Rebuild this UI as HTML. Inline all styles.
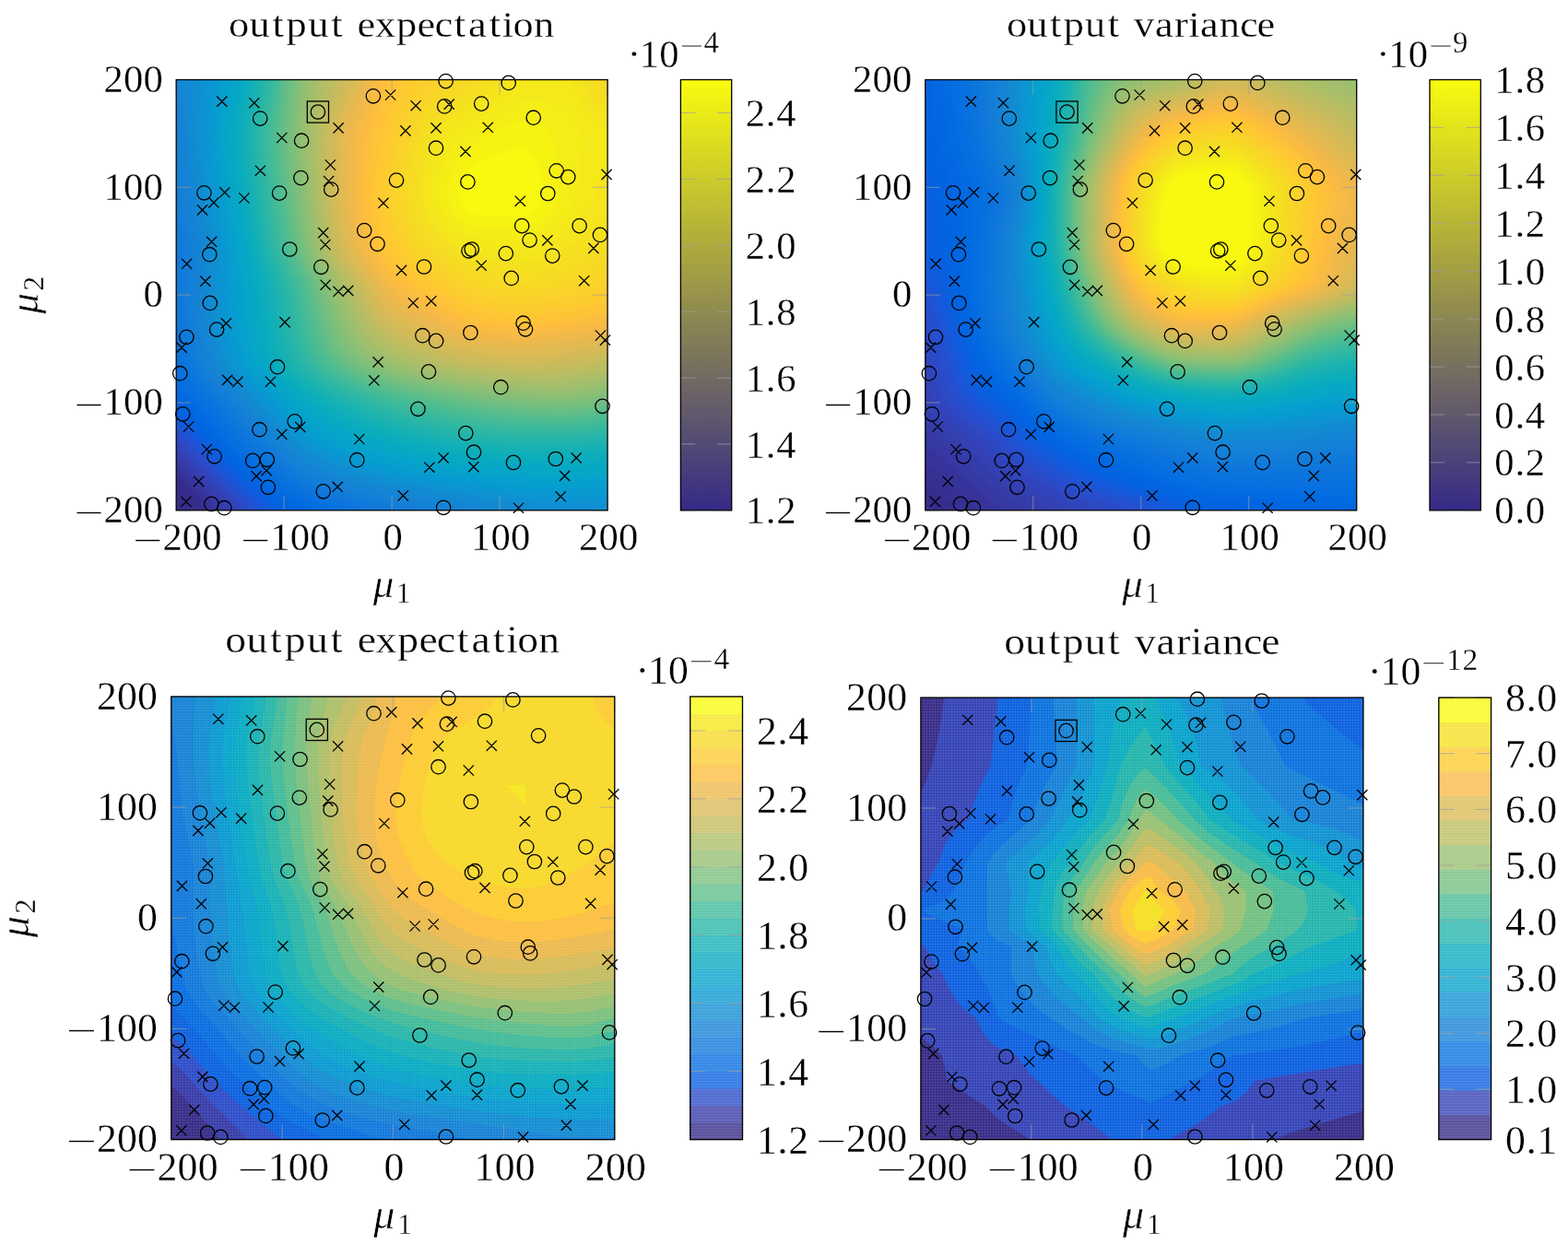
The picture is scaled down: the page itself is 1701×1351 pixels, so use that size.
<!DOCTYPE html>
<html lang="en">
<head>
<meta charset="utf-8">
<title>output expectation / output variance</title>
<style>
html,body{margin:0;padding:0;background:#fff;}
body{width:1701px;height:1351px;overflow:hidden;font-family:"Liberation Serif", "DejaVu Serif", serif;}
svg{display:block;}
text{stroke:#fff;stroke-width:0.3px;}
</style>
</head>
<body>
<svg width="1701" height="1351" viewBox="0 0 1701 1351" font-family='"Liberation Serif", "DejaVu Serif", serif' fill="#000">
<defs>
<pattern id="tex" width="3" height="3" patternUnits="userSpaceOnUse"><path d="M0 0.5H3M0.5 1V3" stroke="#fff" stroke-opacity="0.10" stroke-width="1"/></pattern>
<pattern id="texh" width="3" height="3" patternUnits="userSpaceOnUse"><path d="M0 0.5H3" stroke="#fff" stroke-opacity="0.08" stroke-width="1"/></pattern>
<filter id="blur" x="-5%" y="-5%" width="110%" height="110%" color-interpolation-filters="sRGB"><feGaussianBlur stdDeviation="1.6"/></filter>
<clipPath id="clipa"><rect x="0" y="0" width="467.90" height="467.30"/></clipPath>
<clipPath id="mclipa"><rect x="179.20" y="74.50" width="491.90" height="491.30"/></clipPath>
<clipPath id="clipb"><rect x="0" y="0" width="467.90" height="467.30"/></clipPath>
<clipPath id="mclipb"><rect x="991.80" y="74.50" width="491.90" height="491.30"/></clipPath>
<clipPath id="clipc"><rect x="0" y="0" width="481.00" height="480.70"/></clipPath>
<clipPath id="mclipc"><rect x="173.80" y="743.90" width="505.00" height="504.70"/></clipPath>
<clipPath id="clipd"><rect x="0" y="0" width="480.00" height="479.60"/></clipPath>
<clipPath id="mclipd"><rect x="986.90" y="745.00" width="504.00" height="503.60"/></clipPath>
</defs>
<g id="plot-a">
<g transform="translate(191.20 86.50)" clip-path="url(#clipa)">
<g filter="url(#blur)"><rect x="-8" y="-8" width="483.9" height="483.3" fill="#352c8b"/>
<path fill="#363093" d="M-8 -8l483.9 0l0 483.3l-441.4 0l-1.5-6l-2.9-6.1l-6.7-9l-10.2-12l-6.1-6.3l-6-4.9l-3.1-1.7l-6-2z"/>
<path fill="#36349b" d="M-8 -8l483.9 0l0 483.3l-435.2 0l-1.6-6l-1.3-3.1l-3.8-6l-20.6-24.2l-6.3-6.6l-6-4.9l-3.1-1.7l-6-1.9z"/>
<path fill="#3638a4" d="M-8 -8l483.9 0l0 483.3l-428.8 0l-1.6-6l-1.4-3.1l-3.9-6l-27-31l-6.1-6.3l-6-4.8l-3.1-1.7l-6-2z"/>
<path fill="#353dac" d="M-8 -8l483.9 0l0 483.3l-422 0l-1.7-6l-1.5-3.1l-4-6l-33.5-37.5l-6.1-6.3l-6-4.9l-3.1-1.6l-6-2z"/>
<path fill="#3341b5" d="M-8 -8l483.9 0l0 483.3l-415.1 0l-1.7-6l-1.5-3.1l-4.2-6l-46.3-50.4l-6-4.8l-3.1-1.7l-6-1.9z"/>
<path fill="#3045bd" d="M-8 -8l483.9 0l0 483.3l-407.8 0l-1.8-6l-1.6-3.1l-4.4-6l-26-27.2l-24.2-26.8l-9-7.8l-3.1-1.6l-6-1.9z"/>
<path fill="#2c4ac6" d="M-8 -8l483.9 0l0 483.3l-400.1 0l-2-6l-1.6-3.1l-4.6-6l-30.2-30.6l-27.3-30.2l-9-7.6l-3.1-1.6l-6-1.7z"/>
<path fill="#254fce" d="M-8 -8l483.9 0l0 483.3l-392 0l-2.1-6l-1.8-3.1l-4.8-6l-34.8-34.1l-30.3-33.5l-5.4-4.9l-3.6-2.4l-3.1-1.5l-6-1.7z"/>
<path fill="#1c55d6" d="M-8 -8l483.9 0l0 483.3l-383.3 0l-2.3-6l-4.4-6.1l-42.5-40.7l-33.3-36.8l-4.7-4l-4.3-2.9l-3.1-1.4l-6-1.6z"/>
<path fill="#115bdc" d="M-8 -8l483.9 0l0 483.3l-373.8 0l-2.7-6l-4.9-6.1l-29.9-27l-16.1-15.3l-11.6-12.1l-20.7-23.7l-6.1-6.2l-6-4.9l-6.1-3.1l-6-1.5z"/>
<path fill="#0860df" d="M-8 -8l483.9 0l0 483.3l-363.4 0l-3.1-6l-5.6-6.1l-27.1-22.9l-27.4-25.4l-11.9-12.6l-20.5-23.7l-6.8-6.7l-9-6.4l-3.1-1.3l-6-1.4z"/>
<path fill="#0364e1" d="M-8 -8l483.9 0l0 483.3l-352 0l-3.7-6l-3-3.1l-28.4-22.2l-35.7-32.1l-12.7-13.4l-21.2-24.7l-9.1-9l-9-6.4l-9.1-2.8z"/>
<path fill="#0267e1" d="M-8 -8l483.9 0l0 483.3l-340.1 0l-1.7-3l-2.5-3l-3.3-3.1l-21.4-14.3l-9-6.9l-39.4-34.8l-12.1-12.2l-24.2-28.4l-12.1-12.2l-9-6.6l-3.1-1.5l-6-1.6z"/>
<path fill="#036be1" d="M-8 -8l483.9 0l0 483.3l-327.9 0l-1.8-3l-2.7-3l-3.7-3.1l-29.7-18.1l-18.3-14.7l-36.9-33.6l-11-12.1l-21.7-25.8l-12.1-12.3l-9-7.2l-3.1-1.7l-6-2.1z"/>
<path fill="#056ee0" d="M-8 -8l483.9 0l0 483.3l-315.4 0l-1.9-3l-2.9-3l-4.1-3.1l-29.6-15.9l-15.1-10.4l-11.6-9.9l-36.4-33.2l-11.1-12.1l-22.5-27.1l-12.1-13l-12.1-11.5l-6.1-3.7l-3-1.1z"/>
<path fill="#0870df" d="M-8 -8l483.9 0l0 483.3l-302.1 0l-2.1-3l-3.2-3l-4.5-3.1l-32.9-16l-9.1-5.2l-8.6-5.9l-12.5-10.4l-39.3-36.3l-9.9-10.7l-22.3-27.2l-25.3-28.2l-6.1-6.2l-6-3.9z"/>
<path fill="#0a73dd" d="M-8 -8l483.9 0l0 483.3l-287.7 0l-2.4-3l-3.6-3l-5-3.1l-40-17.8l-9.1-4.8l-9.1-5.9l-13.2-10.7l-39-36.3l-11.2-12.1l-21.3-26l-19.7-22.3l-6.8-9.1l-9.8-14.9l-3-3.8l-3-2.6z"/>
<path fill="#0d75dc" d="M-8 -8l483.9 0l0 483.3l-272.2 0l-2.6-3l-4-3l-5.5-3.1l-45.4-18.2l-12.1-5.9l-9-5.4l-9.1-6.7l-7-6.1l-38.4-36.2l-11.3-12.1l-19.6-24.1l-17.5-19.5l-6.1-7.7l-7.3-12.1l-10.8-26.7l-3-5.2l-3-3.3z"/>
<path fill="#0f78db" d="M-8 -8l483.9 0l0 483.3l-255 0l-3.1-3l-4.6-3l-6.1-3.1l-51.8-18.8l-12.1-5.3l-12.1-6.5l-9.1-6.2l-9-7.5l-39.3-37.7l-10.8-11.6l-19.6-24.2l-19.1-21.1l-6.6-9.1l-3.3-6l-3.5-9.1l-9.7-36l-3.1-9l-3-7.3l-3-5.3z"/>
<path fill="#117bd9" d="M-8 -8l483.9 0l0 483.3l-234.1 0l-4.1-3l-13.3-6.1l-57-18.3l-15.1-6.1l-15.1-7.4l-11.5-7.4l-9.7-7.9l-38.5-37.4l-9.9-10.5l-21-25.8l-15.3-16.4l-6.3-7.8l-4-6l-3-6l-3.1-9.1l-2.1-9.1l-7.1-36.2l-3-21.2l-0.8-15.1l0.4-27.1l-1-12.1l-3.3-10.7l-3-5.2l-3-3z"/>
<path fill="#137dd8" d="M-8 -8l483.9 0l0 483.3l-207.6 0l-4.9-3l-7.6-3l-58.1-15.9l-21.2-6.5l-18.2-6.8l-15.1-7.1l-12.1-7.2l-10.3-7.9l-40.2-39.3l-11.3-12l-19.8-24.2l-19.2-21.2l-4.2-6l-3.2-6l-2.2-6.1l-2.4-9l-5.9-33.3l-2.8-24.1l-0.7-18.2l0.7-30.2l-1-12l-2.6-12.1l-4.9-14.7l-6.1-11.7l-3-3.8z"/>
<path fill="#1480d6" d="M-8 -8l483.9 0l0 483.3l-181.7 0l-4.5-3l-7.2-3l-10.4-3.1l-38.2-7.9l-24.1-5.7l-24.2-6.8l-18.2-6.3l-15.3-6.5l-14.9-8l-12.1-8.7l-12.1-11.1l-35.3-35.6l-22.8-27.2l-19.4-21.2l-6.2-9l-2.8-6.1l-2-6l-5.3-27.2l-3.7-30.2l-1-21.1l0.8-33.3l-0.9-12l-2.9-15.1l-8.6-33.3l-7.9-45.1l-3-10.1z"/>
<path fill="#1482d5" d="M-8 -8l483.9 0l0 483.3l-157.4 0l-4.3-3l-6.9-3l-9.9-3.1l-13.1-3l-44.3-7.9l-18.1-3.8l-24.2-6.1l-21.2-6.7l-21.2-8.5l-15.1-8l-12.1-8.4l-12.2-11l-35.5-36.2l-21.9-25.9l-17.9-19.5l-6.4-9l-3-6.1l-2-6l-2.1-9.1l-3.1-18.1l-3.5-30.2l-0.9-21.1l0.9-33.3l-0.9-12l-2.1-12.1l-5.8-24.2l-2.8-15.1l-7.8-68.4l-3.1-11.8l-3-6.2l-3-3.3z"/>
<path fill="#1485d4" d="M-8 -8l483.9 0l0 483.3l-135 0l-3.8-3l-6.3-3l-9.2-3.1l-28.3-6l-47.3-7.7l-18.1-3.5l-24.2-5.9l-24.2-7.3l-18.1-7.2l-18.2-9.2l-12.1-8.2l-15.1-13.7l-33-34l-20.6-24.1l-16.8-18.2l-6.6-9l-3.1-6.1l-2.1-6l-2.1-9.1l-3-18.1l-3.4-30.2l-0.8-21.1l0.9-33.3l-0.9-12l-2.1-12.1l-5.6-24.2l-2.7-15.1l-2.9-24.2l-4.1-48.1l-2.1-15.3l-2.1-9.1l-3.1-9l-1.8-3.5l-3-4l-3-2.4z"/>
<path fill="#1388d3" d="M5.4 -8l470.5 0l0 483.3l-112.9 0l-4.2-3l-6.2-3l-8.6-3.1l-11.5-3l-32.5-6l-54-8.5l-24.1-4.9l-18.2-4.6l-18.1-5.4l-15.2-5.5l-12.1-5.3l-12.1-6.3l-11.9-7.9l-9.2-7.7l-9.1-8.8l-30.2-31.4l-18.6-21.5l-16.7-18.2l-6.7-9l-3.2-6.1l-2.2-6l-2.1-9.1l-2.5-15.1l-3.5-30.2l-1-21.1l0.7-33.2l-0.5-12.1l-1.8-12.1l-7.4-33.2l-2.3-15.1l-3.5-33.3l-3.9-54.3z"/>
<path fill="#128bd2" d="M14.6 -8l461.3 0l0 483.3l-83.7 0l-5.5-3l-8.3-3l-11-3.1l-26.5-6l-97.9-15.8l-24.2-5.1l-21.1-5.7l-15.2-4.8l-15.1-5.9l-15.1-7.3l-12.1-7.3l-7.4-5.5l-7.7-6.7l-31.7-32.6l-38.1-42.3l-4.8-6l-5.3-9.1l-3.7-12l-4-24.2l-2.7-27.2l-0.8-18.1l0.6-33.2l-0.6-12.1l-2.4-15.1l-7.8-36.3l-5.1-42.3l-1.5-24.1z"/>
<path fill="#108ed2" d="M21.7 -8l454.2 0l0 478.1l-54.4-1.4l-15.2-1.4l-76.6-13.1l-80.6-12.4l-24.2-4.9l-21.2-5.4l-18.1-5.7l-15.2-5.8l-15.1-7.2l-11.8-7l-9.4-6.8l-9-8l-26.7-27.5l-35.7-39.2l-7.5-9.1l-5.4-9.1l-3.8-12l-3.9-24.2l-2.7-27.2l-0.8-21.1l0.2-33.3l-0.9-12l-2-12.1l-7.7-36.3l-3.4-24.1l-2.2-21.2l-1.5-33.2z"/>
<path fill="#0e92d2" d="M28 -8l447.9 0l0 470.3l-57.5-0.5l-24.2-2.1l-30.2-3.9l-96.8-14.6l-24.2-4.2l-21.1-4.6l-18.2-4.8l-18.1-5.8l-15.2-6l-14.2-7l-13-7.8l-9.1-6.9l-9-8.1l-33-34.5l-30-33.3l-4.4-6l-3.3-6.1l-3.8-12l-3.9-24.2l-2.4-24.2l-1.1-21.1l-0.2-36.3l-1-12l-1.9-12.1l-7.7-36.3l-4.2-30.2l-2.1-21.1l-0.7-15.1l0-15.1z"/>
<path fill="#0b95d2" d="M33.8 -8l442.1 0l0 465l-60.5-0.2l-15.1-1l-24.2-2.5l-108.9-15.7l-24.2-4.3l-21.1-4.8l-18.2-4.8l-18.1-5.9l-14.6-5.9l-12.7-6.3l-12.1-7.3l-10.3-7.6l-10.8-9.7l-12.1-12.4l-46.3-50.4l-4.4-6l-3.4-6.1l-2.3-6l-1.6-6l-3.4-21.2l-2.7-27.2l-1.1-18.1l-0.7-36.2l-0.8-12.1l-2.3-15.1l-8-39.3l-3.8-27.2l-2.1-21.1l-0.7-15.1l0.2-15.1l3.6-42.3z"/>
<path fill="#0998d1" d="M39.2 -8l436.7 0l0 460.4l-60.5 0l-15.1-0.8l-27.2-2.5l-99.8-14.1l-24.2-4.2l-24.2-5.3l-18.2-4.9l-18.1-5.8l-15.1-6.1l-15.2-7.6l-11.9-7.4l-9.2-6.9l-9.3-8.2l-14.9-15.1l-33.9-36.2l-10.2-12.1l-3.9-6l-2.9-6.1l-3.2-12.1l-3.1-21.1l-2.3-24.2l-2.7-57.4l-1-12l-2-12.1l-7.8-39.3l-4.2-30.2l-2-21.1l-0.5-15.1l0.5-15.1l4.7-39.3z"/>
<path fill="#079bd0" d="M44.3 -8l431.6 0l0 455.9l-60.5 0.3l-18.1-0.9l-27.3-2.4l-90.7-12.5l-27.2-4.7l-24.2-5.3l-18.1-4.8l-18.2-5.8l-15.1-6l-12.4-6l-11.8-6.9l-12.1-8.5l-12.1-10.6l-12.1-12.2l-33.3-35.3l-9.3-11.1l-4-6l-2.8-6.1l-3.3-12.1l-2.6-18.1l-2.2-21.1l-4.8-72.5l-2.2-15.1l-7.6-39.3l-4.2-30.2l-2.1-21.1l-0.5-15.1l0.8-15.1l5.5-39.3z"/>
<path fill="#079ecf" d="M49 -8l426.9 0l0 451.5l-63.5 0.5l-24.2-1.4l-27.2-2.5l-57.5-7.6l-39.3-6.2l-30.3-6.3l-27.2-7.2l-18.1-6.2l-15.1-6.5l-15.2-8.1l-12.1-8l-10.6-8.4l-10.5-9.7l-36.9-38.6l-8-9.1l-6.3-9l-4-9.1l-2.2-9.1l-3.9-30.2l-6.7-81.5l-2.2-15.1l-6.8-36.3l-5-36.2l-2-24.2l0.2-18.1l1.6-15.1l5.2-30.2z"/>
<path fill="#06a0cd" d="M53.4 -8l422.5 0l0 447.1l-60.5 0.8l-24.2-1.1l-30.2-2.5l-54.5-6.9l-36.3-5.7l-30.2-6l-27.2-7l-18.2-5.9l-15.1-6.2l-15.1-7.7l-15.1-9.5l-11.5-8.8l-9.7-8.8l-35.3-36.5l-8.1-9.1l-6.4-9l-4-9.1l-2.2-9.1l-3-21.1l-8.6-90.6l-8.8-51.4l-4.9-36.2l-2.1-24.2l0.3-18.1l1.9-15.1l5.5-30.2z"/>
<path fill="#06a2cb" d="M57.5 -8l418.4 0l0 442.7l-60.5 1.1l-27.2-1.2l-27.2-2l-51.4-6.4l-36.3-5.5l-29-5.8l-28.5-7.3l-18.1-5.8l-15.2-6.1l-15.1-7.7l-15.1-9.4l-12.1-9l-9.1-7.9l-36.3-37.1l-8-9.4l-4-6l-4.1-9.1l-2.3-9.1l-2.6-18.1l-4-42.3l-6.1-51.3l-8.4-51.4l-5.3-39.2l-1.6-21.2l0.3-18.1l2-15.1l5.4-27.2z"/>
<path fill="#06a5c9" d="M61.4 -8l414.5 0l0 438.3l-60.5 1.3l-30.2-1.1l-24.2-1.7l-48.4-5.7l-33.3-5l-30.2-5.9l-27.2-6.8l-18.2-5.6l-18.1-7.1l-15.2-7.6l-15.1-9.3l-12.1-8.7l-9.1-7.7l-35.1-35.1l-7.7-9.1l-4.1-6l-4.1-9.1l-2.3-9.1l-2.7-18.1l-4.9-48.3l-7.7-54.4l-6.8-42.3l-4.8-36.2l-1.9-21.2l0-18.1l1.9-15.1l6-30.2z"/>
<path fill="#06a7c6" d="M65 -8l410.9 0l0 433.9l-57.5 1.6l-33.2-1l-24.2-1.4l-45.4-5.2l-33.3-4.9l-27.2-5.2l-27.2-6.6l-21-6.4l-15.3-5.9l-15.1-7.2l-15.1-8.7l-12.1-8.3l-12.1-9.6l-12.1-11.2l-21.5-21.6l-7.8-9.1l-4.1-6l-4.2-9.1l-2.4-9.1l-2.8-18.1l-4.7-45.3l-14.7-93.6l-5.6-42.3l-1.8-21.2l0-18.1l1.9-15.1l6.2-30.2z"/>
<path fill="#06a8c4" d="M68.6 -8l407.3 0l0 429.6l-57.5 1.8l-36.3-0.9l-21.1-1.2l-42.4-4.6l-30.2-4.3l-27.2-5l-27.3-6.5l-21.1-6.3l-15.1-5.5l-15.2-6.8l-15.1-8.4l-15.1-9.9l-12.1-9.2l-15.1-13.7l-17-16.8l-7.8-9.1l-4.2-6l-4.2-9.1l-2.5-9.1l-2.8-18.1l-5-45.3l-7.7-42.3l-7.8-51.3l-5.1-39.3l-2.2-24.2l0.1-18.1l2-15.1l6.2-30.2z"/>
<path fill="#08aac1" d="M72 -8l403.9 0l0 425.3l-54.4 2.1l-36.3-0.7l-24.2-1.1l-36.3-3.7l-27.2-3.6l-27.3-4.7l-27.2-6.2l-21.1-5.9l-16.8-5.8l-16.5-7.1l-15.1-7.9l-15.2-9.4l-15.1-11l-15.1-13l-15.5-15l-7.9-9.1l-4.1-6l-4.3-9.1l-2.6-9.1l-2.9-18.1l-4.7-42.3l-9-45.3l-7.4-48.3l-4.7-36.3l-2.7-27.1l-0.4-12.1l0.4-9.1l2-15.1l6.3-30.2z"/>
<path fill="#0aacbe" d="M75.3 -8l400.6 0l0 421l-54.4 2.3l-39.4-0.5l-21.1-0.9l-36.3-3.6l-24.2-3.2l-27.2-4.6l-24.2-5.4l-21.2-5.8l-18.1-6.1l-15.8-6.6l-17.5-8.9l-15.1-9.2l-15.2-10.6l-15.1-12.5l-15.1-14.4l-6.8-7.8l-5.9-9.1l-2.7-6l-2.6-9.1l-2.6-15.1l-5.3-45.3l-10.4-47.9l-6.5-42.7l-4.6-36.2l-2.8-27.2l-0.5-21.2l1.7-15.1l6.9-33.2z"/>
<path fill="#0dadbb" d="M78.6 -8l397.3 0l0 416.8l-51.4 2.5l-42.4-0.3l-21.1-0.8l-33.3-3.2l-24.2-3l-24.8-4.2l-23.6-5.1l-21.2-5.7l-18.1-5.8l-18.1-7.4l-15.2-7.5l-18.1-10.6l-15.1-10.3l-15.2-11.9l-15.2-14.3l-7.5-9l-3.7-6.1l-3.8-9l-2.2-9.1l-2.5-15.1l-3.4-30.2l-2.2-15.1l-2.7-12.1l-5.7-21.1l-3.5-18.1l-5.4-36.3l-4.5-36.2l-2.8-27.2l-0.4-21.2l1.7-15.1l6.9-33.2z"/>
<path fill="#11afb8" d="M81.8 -8l394.1 0l0 412.7l-51.4 2.7l-60.5-0.7l-24.2-2l-30.2-3.5l-27.1-4.4l-21.3-4.5l-21.2-5.6l-18.1-5.6l-18.2-7.1l-15.1-7.1l-18.2-10.1l-18.1-11.8l-15.1-11.4l-13.6-12.4l-7.6-8.8l-3.9-6.3l-2.8-6l-2.7-9.1l-2.8-15.1l-5.7-45.3l-2.6-12.1l-6.3-21.1l-2.8-12.1l-7.7-51.3l-5.8-48.4l-1.1-15.1l-0.1-12l1.3-15.1l7.4-36.3z"/>
<path fill="#15b0b5" d="M84.9 -8l391 0l0 408.6l-51.4 3l-60.5-0.5l-21.2-1.7l-30.2-3.4l-26.1-4.3l-22.3-4.6l-21.2-5.5l-18.1-5.7l-18.2-7l-15.1-7l-21.2-11.7l-18.1-11.6l-15.1-11.4l-11.8-11l-5-6l-3.9-6.1l-2.8-6l-2.9-9.1l-2.8-15.1l-5.9-45.3l-2.7-12.1l-6.8-21.1l-3-12.1l-3.8-22.4l-4.4-32l-5.6-48.3l-1-24.1l1.4-15.1l7.4-36.3z"/>
<path fill="#1ab2b1" d="M88.1 -8l387.8 0l0 404.6l-48.4 3.2l-63.5-0.4l-21.2-1.6l-27.2-3.1l-24.2-3.8l-21.2-4.4l-21.1-5.3l-18.6-5.6l-17.7-6.5l-15.1-6.7l-21.2-11.2l-21.2-12.9l-15.1-10.9l-10.1-9.2l-5.2-6l-4-6.1l-2.9-6l-2.9-9.1l-2.9-15.1l-6.2-45.3l-2.8-12.1l-7.2-21.1l-3.2-12.1l-3.3-18.1l-3.8-27.2l-6.4-54.4l-1.1-15.1l-0.2-12l1.9-18.2l6.8-33.2z"/>
<path fill="#1fb3ae" d="M91.1 -8l384.8 0l0 400.7l-48.4 3.5l-60.5-0.2l-21.1-1.5l-27.3-3l-21.1-3.3l-21.2-4.3l-21.2-5.1l-21.2-6.2l-18.1-6.5l-15.1-6.7l-24.2-12.5l-18.2-10.8l-12.7-8.8l-11.5-10l-4.5-5.1l-4.2-6.1l-3-6l-3-9.1l-3.1-15.1l-4.4-33.2l-2.6-15.1l-3.3-12.1l-6.6-18.1l-2.7-9.1l-3.6-18.1l-3.5-24.1l-6.9-57.4l-1.6-27.2l0.4-9.1l1.1-9l6.7-33.3l1.3-9z"/>
<path fill="#24b5aa" d="M94.2 -8l381.7 0l0 396.9l-48.4 3.8l-60.5-0.3l-21.1-1.5l-27.3-3.1l-18.1-2.9l-21.2-4.3l-21.2-5.1l-21.1-6.1l-18.2-6.3l-15.1-6.5l-24.2-12.3l-18.1-10.4l-14.1-9.6l-10.3-9.1l-5-6l-3.7-6.1l-4.6-12.1l-3.2-15.1l-4.6-33.2l-2.7-15.1l-3.4-12.1l-7-18.1l-2.8-9.1l-3.7-18.1l-3.5-24.1l-6.9-57.4l-1.6-27.2l1-15.1l7.1-36.3z"/>
<path fill="#2ab6a7" d="M97.1 -8l378.8 0l0 393.1l-9.1 0.5l-27.2 3l-12.1 0.7l-57.5-0.4l-18.1-1.1l-27.2-3l-18.2-2.7l-18.1-3.5l-24.2-5.6l-21.2-5.8l-18.1-6l-15.1-6.1l-21.2-10.1l-21.2-11.4l-14.5-9.3l-10.8-9.1l-5.3-6l-3.9-6.1l-2.9-6l-2-6.1l-3.4-15.1l-4.8-33.2l-2.8-15.1l-3.5-12.1l-7.3-18.1l-2.9-9.1l-3.2-15.1l-3.3-21.1l-7.7-63.4l-1.6-27.2l1-15.1l6.9-36.3z"/>
<path fill="#30b7a3" d="M100 -8l375.9 0l0 389.4l-9.1 0.5l-24.2 3l-15.1 1l-54.4-0.4l-18.2-1l-24.2-2.6l-18.1-2.6l-21.2-4l-24.2-5.5l-21.2-5.7l-18.1-5.8l-15.1-5.9l-24.2-11.3l-21.2-11.4l-12.8-8.5l-10.3-9l-4.9-6.1l-3.5-6l-4.4-12.1l-3.2-15.1l-4.5-30.2l-2.9-15.1l-3.7-12.1l-7.5-18.1l-3.1-9.1l-3.3-15.1l-3.3-21.1l-7.7-63.4l-1.6-27.2l1-15.1l6.7-36.3z"/>
<path fill="#36b99f" d="M102.8 -8l373.1 0l0 385.7l-45.4 4.8l-18.1 0.3l-33.3-0.6l-18.1-0.8l-18.2-1.7l-21.1-2.8l-21.2-3.6l-24.2-5.3l-24.2-6.2l-18.2-5.4l-18.1-6.7l-21.2-9.5l-21.1-10.8l-13.1-8.2l-11-9l-5.1-6.1l-3.8-6l-4.6-12.1l-3.5-15.1l-4.7-30.2l-3.1-15.1l-3.7-12.1l-7.8-18.1l-3.1-9.1l-2.8-12l-3.1-18.2l-8.3-66.4l-1.9-27.2l0.9-18.1l6.5-36.3z"/>
<path fill="#3dba9b" d="M105.6 -8l370.3 0l0 382.1l-9.1 0.6l-21.1 3.2l-12.1 1.2l-15.2 0.5l-48.4-1.2l-18.1-1.3l-27.2-3.4l-21.2-3.7l-24.2-5.3l-27.2-6.8l-18.2-5.4l-15.1-5.4l-21.1-9.2l-21.3-10.6l-14.4-9.1l-9.7-8.5l-3.1-3.6l-3.9-6l-5.1-12.3l-3.6-14.9l-5.1-30.2l-3.1-15.1l-3.9-12.1l-8-18.1l-3.2-9.1l-2.9-12l-3-18.2l-8.4-66.4l-1.9-27.2l0.9-18.1l6.2-36.3z"/>
<path fill="#44bb97" d="M108.3 -8l367.6 0l0 378.5l-9.1 0.7l-30.2 4.4l-12.1 0.7l-15.1 0l-33.3-1l-18.2-1.2l-24.1-2.8l-24.2-4l-24.2-5.1l-30.3-7.4l-18.1-5.1l-18.2-6.3l-21.1-9l-18.2-9.1l-12.1-7.4l-10.4-8.7l-5-6.1l-2.7-4.4l-3.1-6.4l-2.5-7.3l-3-12.1l-5.9-33.2l-2.7-12.1l-4-12.1l-8.2-18.1l-3.3-9.1l-2.9-12l-2.6-15.1l-8.8-69.5l-1.9-27.2l0.8-18.1l5.8-36.3z"/>
<path fill="#4bbc93" d="M111 -8l364.9 0l0 374.9l-9.1 0.8l-30.2 4.8l-12.1 0.7l-12.1 0l-51.4-2.3l-24.2-2.9l-24.2-3.8l-24.2-5.1l-33.3-8l-18.1-5l-15.1-5.1l-21.2-8.8l-18.2-8.9l-12.9-8.1l-8.2-7l-4.4-5.1l-3.9-6l-5-12.1l-3.9-15.1l-5.6-30.2l-2.9-12.1l-4.1-12.1l-10.7-24.1l-3.3-12.1l-2.7-15.1l-9-69.5l-1.5-15.1l-0.8-15.1l0.8-18.1l5.4-36.3z"/>
<path fill="#52bd8f" d="M113.6 -8l362.3 0l0 371.4l-9.1 0.8l-30.2 5.1l-21.2 0.8l-30.2-1.1l-24.2-1.6l-21.2-2.5l-24.2-3.9l-24.2-5l-36.3-8.5l-18.1-5l-15.1-5l-18.2-7.3l-18.3-9l-11.9-7.5l-8.8-7.6l-6.8-9l-3.1-6.1l-2.5-6.6l-4-14.5l-6-30.2l-3-12.1l-4.2-12.1l-10.9-24.1l-2.6-9.1l-3-15.1l-9.4-72.5l-2.3-27.2l0.4-18.1l5.2-39.3z"/>
<path fill="#5abd8b" d="M116.3 -8l359.6 0l0 367.9l-9.1 0.8l-30.2 5.4l-21.2 0.9l-24.2-0.9l-27.2-1.9l-18.1-2l-24.2-3.7l-24.2-4.8l-39.4-9l-18.1-4.7l-15.1-4.7l-18.2-7.1l-15.1-7.3l-12.1-7.1l-9.4-7.7l-5.3-6l-3.4-5.4l-5.6-12.7l-3.4-12.1l-9.5-42.3l-4.4-12.1l-11.1-24.1l-2.6-9.1l-2.4-12.1l-10-75.5l-2.2-27.2l0.3-18.1l4.8-39.3z"/>
<path fill="#62be87" d="M119 -8l356.9 0l0 364.4l-9.1 0.9l-21.1 4.3l-9.1 1.4l-9.1 0.8l-12.1 0.1l-21.2-0.8l-30.2-2.3l-18.1-2.1l-24.2-3.7l-24.2-4.8l-39.4-8.8l-18.1-4.6l-15.1-4.8l-15.1-5.8l-16.5-8l-10.8-6.5l-10-8.6l-6.7-9l-5.6-12.1l-3.7-12.1l-10.1-42.3l-4.5-12.1l-11.2-24.1l-2.7-9.1l-2.4-12.1l-9.9-75.5l-2.3-27.2l0.3-18.1l4.4-39.3z"/>
<path fill="#6abe83" d="M121.7 -8l354.2 0l0 360.9l-9.1 0.9l-27.2 5.6l-9.1 1l-12.1 0.4l-21.1-0.8l-30.3-2.2l-18.1-2.1l-24.2-3.7l-24.2-4.6l-42.4-9.3l-15.1-3.7l-15.1-4.5l-15.1-5.7l-15.1-7.2l-12.1-7.5l-7.6-6.4l-7.6-9.4l-3.1-5.7l-3.9-9l-3.7-12.1l-9.9-39.3l-4.6-12.1l-7.5-15.1l-3.8-9l-2.7-9.1l-1.9-9.1l-3.2-21.1l-7.1-57.4l-2.3-27.2l0.2-18.1l4-39.3z"/>
<path fill="#72bf80" d="M124.5 -8l351.4 0l0 357.4l-9.1 1l-27.2 5.8l-9.1 1.1l-12.1 0.4l-21.1-0.8l-30.3-2.5l-42.3-5.7l-24.2-4.6l-42.4-9.1l-15.1-3.7l-15.1-4.6l-14.3-5.5l-12.9-6.2l-12.1-7.7l-8.1-7.2l-6.8-9.1l-6.3-13l-3.7-11.1l-10.5-39.3l-4.7-12.1l-7.6-15.1l-3.9-9l-2.7-9.1l-1.9-9.1l-3.1-21.1l-7.1-57.4l-2.3-27.2l0.2-18.1l3.6-39.3z"/>
<path fill="#79bf7d" d="M127.3 -8l348.6 0l0 354l-12.1 1.6l-24.2 5.4l-9.1 1.1l-12.1 0.5l-18.1-0.7l-27.2-2.2l-18.2-1.9l-24.2-3.4l-24.2-4.3l-36.3-7.5l-21.1-4.8l-15.2-4.2l-15.1-5.4l-12.1-5.6l-12.1-7.3l-8.6-7.2l-5.2-6l-4.1-6.1l-5.7-12.1l-4.1-12l-10.4-36.3l-4.8-12.1l-10.5-21.1l-3.1-9.1l-2-9l-3.3-21.2l-7-57.4l-2.5-27.2l0-21.1l3.3-39.3z"/>
<path fill="#80bf7a" d="M130.2 -8l345.7 0l0 350.6l-12.1 1.6l-18.1 4.3l-9.1 1.6l-18.2 1.3l-18.1-0.7l-30.3-2.5l-45.3-6l-24.2-4.3l-39.3-8.3l-18.2-4.4l-12.1-3.7l-12.1-4.7l-12.1-5.9l-9-5.9l-9.1-7.9l-7-9.1l-6.3-12.1l-4.4-12l-11-36.3l-5.1-12.1l-10.6-21.1l-3.1-9.1l-2-9l-4-27.2l-6.8-57.4l-1.8-21.2l0-21.1l3-39.3z"/>
<path fill="#88bf77" d="M133.3 -8l342.6 0l0 347.3l-12.1 1.5l-27.2 6l-18.2 1.3l-18.1-0.7l-27.2-2.1l-42.4-5.2l-24.2-4l-33.2-6.8l-21.2-4.8l-15.1-4.2l-14.2-5.1l-10-4.8l-11.6-7.3l-7-6l-5.4-6.1l-3.2-4.5l-7.2-13.6l-4.5-12.1l-10.7-33.2l-3.8-9.1l-12.3-24.1l-2.2-6.1l-2.2-9l-4.2-27.2l-7-60.4l-1.7-21.2l-0.1-21.1l3.1-42.3z"/>
<path fill="#8ebf74" d="M136.6 -8l339.3 0l0 343.9l-12.1 1.5l-27.2 6.1l-18.2 1.3l-18.1-0.6l-27.2-2.1l-45.4-5.4l-24.2-4.1l-33.3-6.9l-18.1-4.2l-15.1-4.3l-13.3-5l-10.9-5.6l-9.1-6.2l-6-5.4l-8.2-10l-7-12.7l-4.6-11.5l-11.4-33.2l-4-9.1l-12.5-24.1l-2.2-6.1l-2.3-9l-4-27.2l-6.8-60.4l-1.7-21.2l0-24.1l3-39.3z"/>
<path fill="#95bf71" d="M140 -8l335.9 0l0 340.7l-12.1 1.4l-27.2 6l-18.2 1.4l-18.1-0.5l-27.2-2l-45.4-5.2l-21.2-3.5l-29.6-6l-21.8-5l-14.4-4.1l-12.8-4.7l-9.1-4.4l-9.5-6l-7.1-6l-5.4-6.1l-4.4-6l-6.6-12.1l-17.3-45.3l-15.7-30.2l-2.2-6.1l-2.2-9l-4.4-30.2l-6.1-57.4l-1.7-21.2l0-24.1l3.2-39.3z"/>
<path fill="#9cbf6f" d="M143.7 -8l332.2 0l0 337.4l-12.1 1.4l-27.2 5.8l-9.1 1.1l-12.1 0.5l-18.1-0.6l-27.3-1.9l-45.3-5.2l-21.2-3.5l-27.3-5.8l-21.1-5l-13.7-4l-10.5-4l-10.4-5.1l-9-6l-6.8-6.1l-7.5-9l-7.1-12.1l-4.5-10.2l-13.8-35.1l-16.2-30.2l-2.2-6.1l-2.3-9l-4.2-30.2l-6.2-60.4l-1.5-21.2l0.4-24.1l3.4-36.3z"/>
<path fill="#a2be6c" d="M147.7 -8l328.2 0l0 334.2l-12.1 1.3l-30.2 6.1l-18.2 1.2l-18.1-0.4l-27.3-1.7l-45.3-5l-21.2-3.5l-27.2-5.9l-18.2-4.4l-15.1-4.5l-12.1-4.8l-8.5-4.5l-8.7-6l-6.5-6.1l-7.3-9l-7-12.1l-17.8-42.3l-16.7-30.2l-2.3-6.1l-2.2-9l-2.5-15.1l-2.1-18.1l-5.6-57.4l-1.3-21.2l0.4-24.1l4.2-39.3z"/>
<path fill="#a8be6a" d="M151.9 -8l324 0l0 330.9l-12.1 1.2l-30.2 6l-18.2 1.3l-21.2-0.4l-24.2-1.3l-24.1-2.2l-24.2-3l-18.9-3.3l-27.1-6l-17.6-4.5l-14.3-4.6l-9.9-4l-9.4-5l-8.5-6.1l-6.2-5.9l-7.3-9.2l-6.9-12l-17.1-39.3l-14.1-23.8l-3.2-6.4l-2.3-6.1l-2.3-9l-2.5-15.1l-2-18.1l-5.3-57.4l-1.3-21.2l0.6-24.1l5-39.3z"/>
<path fill="#aebe67" d="M156.4 -8l319.5 0l0 327.6l-12.1 1.2l-30.2 5.8l-21.2 1.4l-21.2-0.2l-24.2-1.3l-45.3-4.7l-19.8-3.6l-25.6-5.9l-18.2-5l-12.1-4l-9-3.8l-10.3-5.4l-7.9-5.7l-6-5.7l-6.1-7.3l-7-11.5l-17.9-39.3l-14.4-23.6l-3.5-6.6l-2.3-6.1l-2.3-9l-2.5-15.1l-2.3-21.2l-4.8-54.3l-1.2-24.2l0.1-12.1l1-12.1l5.8-36.2z"/>
<path fill="#b4bd65" d="M161.2 -8l314.7 0l0 324.2l-12.1 1.2l-33.3 6l-21.1 1.3l-21.2-0.2l-21.2-0.9l-42.3-4.2l-18.2-3.1l-18-4.1l-22.7-6.1l-13.7-4.4l-11.6-4.6l-9.6-4.9l-9-6.3l-6.1-5.6l-6.2-7.4l-5.8-9l-18.6-39.3l-16.9-27.2l-4-9.1l-2.9-12l-2.7-18.2l-2.1-21.1l-4.1-51.4l-1-24.1l0.4-12.1l1.3-12.1l6.6-33.2z"/>
<path fill="#babd63" d="M166.1 -8l309.8 0l0 320.8l-12.1 1.1l-33.3 5.8l-24.2 1.6l-21.1 0l-18.2-0.7l-42.3-4.1l-15.1-2.5l-15.2-3.5l-24.2-6.6l-15.1-5l-12.1-4.8l-9.1-4.7l-9-6l-6.1-5.4l-6-7l-6.1-9.2l-18.1-37.2l-5.4-9.1l-12-18.1l-4.1-9.1l-3-12l-2.7-18.2l-2.1-21.1l-3.9-51.4l-0.8-24.1l0.4-12.1l1.5-12.1l2.5-12.1l5.5-21.1z"/>
<path fill="#bfbc60" d="M171 -8l304.9 0l0 317.3l-12.1 1l-33.3 5.7l-27.2 1.9l-18.1 0.2l-18.2-0.5l-21.1-1.6l-21.2-2.4l-15.1-2.6l-15.2-3.7l-24.5-7.2l-14.8-5.2l-12.1-5.2l-9.1-4.8l-8.2-5.9l-6.4-6.1l-5-6l-4.5-6.9l-19.5-38.4l-16.8-25.4l-4.5-10.9l-2.7-12.1l-2.6-18.1l-2.2-24.2l-3.3-48.3l-0.6-24.1l0.9-12.1l1.4-9.1l2.8-12.1l6.5-21.1z"/>
<path fill="#c5bc5e" d="M175.9 -8l300 0l0 313.6l-12.1 1l-36.3 6l-30.2 2.1l-18.2 0.2l-15.1-0.6l-21.2-1.7l-18.1-2.1l-15.1-2.7l-15.2-3.9l-21.7-6.8l-16.7-6.1l-10-4.3l-9-4.7l-8.8-6.1l-6.3-5.8l-5.3-6.2l-4.1-6.1l-5.8-10.4l-13-25.8l-14.6-21.2l-3.6-6l-3.7-9.1l-3.3-15.1l-2.5-18.1l-2-24.2l-2.9-45.3l-0.4-24.1l0.9-12.1l1.7-9.1l3.3-12.1l7.3-21.1z"/>
<path fill="#cbbb5c" d="M180.7 -8l295.2 0l0 309.8l-12.1 1l-39.3 6.3l-30.3 2.2l-15.1 0.3l-15.1-0.5l-36.3-3.3l-12.1-2l-15.1-3.7l-24.8-8l-16.3-6.1l-13.4-5.8l-9-5l-6.2-4.3l-6.7-6l-5.3-6.2l-4-5.9l-19.5-36.3l-16.7-24.1l-2.8-6.1l-1.9-6l-3.1-15.1l-2.7-21.1l-2-27.2l-2.2-42.3l0-21.2l1-9l1.8-9.1l3.7-11.9l8.2-21.3l1.4-6.1z"/>
<path fill="#d0bb59" d="M185.2 -8l290.7 0l0 305.9l-12.1 0.9l-39.3 6.3l-33.3 2.8l-15.1 0.2l-15.1-0.5l-33.3-3.2l-12.1-2l-15.1-4l-21.5-7.4l-17.8-6.7l-12.1-5.3l-9.1-4.9l-9.1-6.3l-6-5.7l-9.1-12.2l-17.1-31.4l-15-21.1l-3.4-6l-4.2-12.1l-3.4-18.1l-2.3-21.2l-2.1-33.2l-1.4-33.2l0.2-18.2l1.1-9l2.1-9.1l3.2-9.4l8.7-20.8l1.8-6z"/>
<path fill="#d5ba57" d="M189.6 -8l286.3 0l0 301.8l-12.1 1l-42.3 6.6l-33.3 2.9l-27.2-0.1l-33.3-3.3l-12.1-2.2l-15.1-4.2l-39.3-14.9l-12.1-5.4l-7.8-4.3l-7.4-5l-6-5.3l-9.1-11.4l-16.7-29.7l-14.9-21.1l-3.6-6l-4.4-12.1l-4-21.2l-2.2-21.1l-1.6-27.2l-1.3-36.2l0.3-18.2l1.2-9l1.9-7.5l3-8.6l10.1-23.2l1.7-6z"/>
<path fill="#dbba55" d="M193.7 -8l282.2 0l0 297.7l-12.1 1l-42.3 6.6l-33.3 3.3l-12.1 0.3l-15.1-0.4l-33.3-3.3l-12.1-2.3l-13.3-3.9l-41.1-16.1l-12.1-5.7l-9.1-5.2l-6.1-4.5l-6-5.7l-8.4-11.1l-15.8-27.2l-13-18.1l-3.6-6l-2.7-6.1l-2.7-9l-4.3-24.2l-1.9-21.2l-1.3-30.2l-0.9-30.2l0.5-15.1l1.4-9l2.6-9.1l13.1-30.2l1.6-6z"/>
<path fill="#e0ba52" d="M197.7 -8l278.2 0l0 293.6l-12.1 0.9l-48.4 7.4l-30.2 2.9l-24.2 0l-30.3-3l-12.1-2.1l-12.9-3.7l-37.7-15.1l-12.9-5.7l-9.1-4.8l-9-6l-6.1-5.3l-9-11.2l-14.7-24.4l-16.4-24.1l-2.8-6.1l-2.9-9l-2.6-11.6l-2-12.6l-1.7-18.1l-1.1-24.2l-0.9-39.3l0.6-15.1l1.5-9l1.8-6.1l11-24.1l3.4-9.1l1.5-6z"/>
<path fill="#e5b950" d="M201.5 -8l274.4 0l0 289.4l-12.1 0.9l-51.4 7.8l-27.2 2.7l-24.2 0l-30.3-3l-12.1-2.2l-12.1-3.6l-13.1-5l-27.8-12.1l-13.5-6.5l-9.1-5.2l-6-4.4l-6.1-5.6l-9-11.8l-13-20.9l-12.5-18.1l-3.3-6.1l-3.5-9l-2.4-9.1l-4.2-24.1l-1.3-18.2l-1.2-57.4l0.7-15.1l1.3-7.6l2.4-7.5l9.8-21.1l3.6-9.1l2.3-9z"/>
<path fill="#ebb94d" d="M205.4 -8l270.5 0l0 285.1l-12.1 1l-51.4 7.8l-27.2 2.9l-12.1 0.3l-12.1-0.3l-30.3-3.1l-12.1-2.3l-13.9-4.4l-40.9-18.2l-11.7-5.8l-9.1-5.4l-6-4.7l-5.4-5.2l-9.7-12.8l-19.6-29.5l-5.3-9.1l-3.5-9l-2.6-9.1l-2.6-12.1l-2.1-15.1l-1.1-15.1l-0.6-30.2l0-30.2l0.8-12.1l1.1-6l2.2-7l10.5-23.2l3.3-9.1l2.1-9z"/>
<path fill="#f0b94a" d="M209.3 -8l266.6 0l0 280.8l-12.1 0.9l-30.2 5.1l-23.4 3.2l-25 2.6l-12.1 0.4l-12.1-0.3l-27.3-2.7l-18.1-3.8l-9.1-3.1l-12.2-5.2l-42.2-20.5l-9.1-5.7l-9.1-7.7l-9-11.2l-18.5-27.4l-5.2-9.1l-3.6-9l-3.5-12.1l-2.6-12.1l-2-15.1l-0.9-15.1l0-52.3l0.7-14.1l1.7-9.1l2-6l9.3-21.2l3.3-9.1l2.4-9z"/>
<path fill="#f5ba47" d="M213.3 -8l262.6 0l0 276.3l-12.1 1l-51.4 8.1l-27.2 3l-12.1 0.4l-12.1-0.3l-15.1-1.3l-15.2-2l-9-1.8l-9.1-2.7l-9.1-3.5l-11.4-5.3l-40-20.2l-9.1-6l-9.1-8.2l-9-11.4l-12.2-17.7l-5.6-9l-2.9-6.1l-3.5-9.7l-3.9-14.4l-2.3-12.1l-1.4-12.1l-0.7-15.1l0.1-24.2l0.7-27.2l1-12l2.8-12.1l8.7-21.2l4.2-12.1l2.1-9z"/>
<path fill="#f9bb43" d="M217.5 -8l258.4 0l0 271.8l-12.1 1l-27.2 4.8l-22.9 3.3l-28.5 3.2l-12.1 0.5l-12.1-0.4l-15.1-1.3l-14.2-2l-10-2.1l-9.1-2.8l-18.2-8.1l-42.3-22.2l-9.1-6.3l-9.1-8.5l-6-7.4l-9.1-12.7l-5.4-8.4l-4.6-9.1l-4.4-12.1l-3.7-14l-2.5-13.1l-1.2-12.1l-0.5-15.1l0.4-21.2l0.8-21.1l1.3-15.1l2.5-12.1l9.1-24.2l3.7-12.1l2.5-12z"/>
<path fill="#fdbd3e" d="M222 -8l253.9 0l0 267l-12.1 1.1l-45.4 7.7l-33.2 3.9l-12.1 0.5l-12.1-0.3l-27.2-3.2l-9.1-1.8l-9.1-2.6l-15.1-6.6l-45.4-24.4l-9.1-6l-9-8l-6.1-6.8l-8.8-12.1l-5.5-9l-3.8-8.1l-3.7-10.1l-4.1-15.1l-2.4-12l-1.3-12.1l-0.4-15.1l0.4-18.2l1.3-21.1l1.5-15.1l3.2-15.1l7.3-21.2l4.4-15.1l2.3-12z"/>
<path fill="#fec13a" d="M227.2 -8l248.7 0l0 262.1l-12.1 1.2l-42.3 7.6l-36.3 4.4l-12.1 0.4l-12.1-0.4l-12.1-1.1l-15.1-2.2l-9.1-1.9l-9.1-2.8l-15.1-6.9l-45.4-25.4l-9.1-6.4l-9-8.3l-6.1-7.1l-6-8.6l-4.7-8.3l-3.9-9l-4.1-12.1l-3.2-12.1l-2.2-12.1l-1.1-12.1l-0.2-12l0.6-18.2l1.5-18.1l1.9-15.1l3.1-15.1l11.5-39.3l2.3-12z"/>
<path fill="#ffc436" d="M233.2 -8l242.7 0l0 256.9l-12.1 1.3l-40.1 7.6l-23.4 3.3l-15.1 1.5l-12.1 0.5l-12.1-0.4l-24.2-3l-9.1-1.8l-9.1-2.7l-15.1-6.7l-46.8-26.9l-8.5-6.1l-8.2-7.4l-6.1-7l-4.7-6.7l-4.9-9.1l-3.8-9l-4-12.1l-3.2-12.1l-2-12.1l-0.9-12.1l0-12.1l0.8-15.1l3.4-27.1l4.4-21.2l11.6-42.3l1.8-9z"/>
<path fill="#fec733" d="M240.9 -8l235 0l0 251.4l-12.1 1.4l-36.3 7.5l-39.3 5.3l-12.1 0.6l-12.1-0.2l-24.2-2.8l-18.1-4.3l-6.1-2.2l-9.1-4.3l-48.4-28.5l-8.7-6.4l-6.5-6.1l-5.9-7.1l-5.1-8l-4-8.1l-4-10l-3.8-12.1l-2.8-12l-1.3-9.1l-0.7-12.1l1.3-24.2l3.7-24.1l6.8-30.2l12-42.3z"/>
<path fill="#fdcb30" d="M250.9 -8l225 0l0 245.3l-12.1 1.6l-21.2 5.1l-15.1 3.1l-36.3 5.2l-12.1 0.8l-12.1 0l-12.1-1l-12.1-1.7l-18.1-4l-9.1-3.4l-6.8-3.3l-47.6-28.6l-9.1-6.8l-6.1-5.9l-5.5-7l-3.7-6.1l-4.4-9l-4.7-12.1l-2.8-9.1l-2.7-12.1l-1.1-9l-0.4-12.1l0.6-12.1l1.8-15.1l7.6-36.2l6.3-24.2l3.9-12.1l8.1-21.1z"/>
<path fill="#fcce2d" d="M263.2 -8l212.7 0l0 238.6l-12.1 1.7l-21.2 5.8l-12.1 2.8l-36.3 5.7l-12.1 1.1l-12.1 0.2l-12.1-0.8l-10-1.4l-14.1-2.7l-9.1-2.5l-9.1-3.5l-6-3l-45-27.5l-8-6.1l-6-6l-4.7-6.1l-5.9-10.1l-4.9-11l-4.2-11.8l-2.4-9.3l-1.5-9.1l-0.7-9.1l0.2-12.1l1.2-12l2.6-15.1l10.7-45.3l6.4-18.2l4.7-9.6l8.3-14.5z"/>
<path fill="#fad22b" d="M276.9 -8l199 0l0 230.7l-12.1 2.1l-18.1 5.8l-12.1 3.3l-33.3 6.2l-12.1 1.4l-12.1 0.7l-12.1-0.3l-12.1-1.4l-12.1-2.2l-12.1-3l-6-2.1l-9.1-4.1l-42.4-26l-7.5-5.7l-6.2-6l-4.8-6.1l-5.7-9.3l-5.5-11.8l-4.3-12.1l-2.3-9.1l-1.3-9l-0.5-9.1l0.6-12.1l1.6-12.1l3.6-18.1l7.1-30.2l4.1-13.2l4.8-11l4.2-7.2l15.3-19.9l1.6-3.1z"/>
<path fill="#f9d528" d="M290.6 -8l185.3 0l0 221l-6 0.9l-6.1 1.7l-18.1 7.1l-12.1 3.9l-24.2 5.5l-15.2 2.5l-12.1 1.2l-12.1 0.2l-12.1-1l-12-2l-12.1-2.7l-9.1-2.7l-9.1-3.9l-9.2-5.2l-30.1-19l-9.1-6.9l-6-6.2l-6.1-8.2l-6-10.7l-4.2-9.4l-3.9-12l-1.8-9.1l-0.9-12.1l0.3-9.1l1.4-12l2.8-15.1l6.3-27.7l3.1-11.6l3.4-9.1l4.7-9l4.2-6.1l5.7-6.6l11.8-11.5l5-6l1.7-3.1z"/>
<path fill="#f7d925" d="M305.1 -8l160.4 0l1.3 6l1.5 3.1l2.4 3l5.2 3.1l0 193.3l-6 1.1l-6.1 2.1l-17.6 8.8l-12.6 5.2l-21.2 6.1l-15.1 3.1l-12.1 1.7l-12.1 0.5l-12.1-0.8l-12.1-1.9l-15.1-3.4l-9.1-2.9l-9.1-4l-12.1-7l-22.7-14.7l-7.6-6.1l-8.5-9l-6.6-9.5l-6-11.7l-3.4-9l-3-12.1l-1-12.1l0.6-12.1l1.6-12.1l3.5-18.1l4.7-20.5l2.8-9.7l3.3-8.4l3-5.7l5-7l4.1-4.6l19.4-16.6l6.2-6l4.1-6.1z"/>
<path fill="#f6dc23" d="M270.2 42.2l3.7-4.9l6-6l24.3-18.2l7.2-6l5.3-6l1.7-3.1l2-6l136.7 0l1.5 9.1l2.2 5.6l2 3.4l4 4.4l2.3 1.7l6.8 2.6l0 165.7l-6 1.3l-6.1 2.6l-24.2 14.7l-15.1 6.8l-12.1 4.2l-12.1 3.4l-12.1 2.4l-9.1 0.9l-12.1-0.1l-12.1-1.4l-15.1-3.2l-12.1-3.4l-8.1-3.2l-7-3.5l-21.2-13.2l-9.1-6.8l-6-5.4l-6.1-6.5l-5.1-6.9l-3.9-6.5l-4.1-8.6l-3.1-9.1l-1.8-9l-0.7-9.1l0.3-9.1l3.4-24.1l3.8-18.1l3.9-15.1l3.4-9.1z"/>
<path fill="#f5e020" d="M335.6 -8l114 0l0.6 6l1.4 6.1l2.2 6l4 6.9l4.5 5.2l4.5 3.5l3.1 1.5l6 1.7l0 136.8l-6 1.5l-6.1 3l-21.2 15.1l-15.1 9.1l-18.1 8.4l-15.2 5.1l-9 2l-9.1 0.9l-9.1-0.2l-9.1-0.9l-15.1-2.9l-12.1-3l-9-3.1l-9.1-4.2l-9.1-5.2l-9.1-6.2l-9-7.2l-7.9-7.7l-5-6l-5.3-8.2l-3.4-6.9l-3-9.1l-1.3-6l-0.8-9.1l0.2-9.1l1.3-12l2.6-15.1l4.2-18.2l3.2-11l3.1-7.1l6-8.8l6.1-5.9l9-6.7l22.4-14.8l10.9-9l4.8-6.1l1.4-3.1z"/>
<path fill="#f5e51d" d="M441.1 -8l1.1 9.1l2.7 9l4.4 9.1l4 6l4.5 5.2l6 5.1l6.1 3l6 1.4l0 102l-6 2.3l-3.1 1.9l-23.9 21.1l-8 6l-9.5 6.1l-13 7.1l-12.1 5.7l-9.1 3.3l-8.9 2l-9.2 0.8l-12.1-0.5l-18.2-2.6l-15.1-3.2l-9.1-3l-9-4.3l-8.6-5.3l-6.6-4.8l-6-5.2l-6.1-6.2l-8-11l-3-6l-2.3-6.1l-2.2-12.1l-0.2-9l1-12.1l1.9-12.1l2.7-12.1l3.4-12.1l3.3-9l3.2-6.1l3.3-4.4l4.5-4.6l7.6-6l28.9-18.2l11.6-9.1l7.8-9l3.1-6.1l1.5-6z"/>
<path fill="#f5e91a" d="M427.4 -8l0.9 6l3 9.1l7.6 15.1l9.8 14.4l19.6 21.9l3.4 6l0.5 3l-0.9 6.1l-15.6 48.3l-5.1 12.1l-5.5 9l-4.8 6.1l-5.8 6l-7 6.1l-9.1 6.5l-9 5.6l-9.1 4.7l-9.1 3.6l-9.1 2.3l-9 1l-12.1-0.2l-15.1-1.3l-15.2-2l-9-2.1l-6.1-2.2l-12.1-6.7l-11.1-9.2l-7.7-9.1l-3.7-6l-2.7-6.1l-1.7-6l-1-6.1l0.2-15.1l1.1-9l2.4-11.8l3-10.6l3-7.8l3.1-6.6l3.3-5.5l5-6.1l6.8-6l9-6l21.3-12.8l15.2-11.4l19.5-18.1l5-6.1l1.9-3z"/>
<path fill="#f5ee16" d="M421.5 30.2l4.5 4.1l4.5 5.5l5.8 9.6l3.1 9.1l0.7 9l-2 24.2l-5.1 33.2l-1.8 6l-2.6 6.1l-3.8 6l-5 6.1l-9.9 9l-12.6 8.2l-6.1 2.8l-6 1.9l-12.1 1.8l-12.1 0.1l-27.2-1.8l-9.1-1.5l-6.1-1.7l-6-2.7l-6.1-3.7l-6-4.9l-6.6-7.5l-5.2-9.1l-2.8-9.1l-0.7-12l1.9-15.1l4.3-15.1l6.1-12.7l3.6-5.5l5.1-6l6.4-5.8l9.1-6.2l36.2-22.6l6.1-3.4l6-2.5l6.1-1.4l6-0.6l15.2 0.7l15.1 2.9l6 2.6z"/>
<path fill="#f6f313" d="M399.7 52.4l3.6 3.5l3 4.4l2 4.2l1.8 6l2.6 15.1l1.6 21.2l-0.1 15.1l-1.5 9l-4 9.1l-5.4 7l-6 5.4l-4 2.7l-6.1 3l-8.1 2.4l-12.1 1l-27.2-0.7l-15.1-1.9l-9.1-3.3l-5.4-3.5l-3.5-3l-5-6.1l-4.2-8.7l-1.5-6.4l-0.2-9l1.7-11.3l3-9.9l2.7-6l3.3-5.7l6.1-7.5l6-5.3l9.1-5.9l27.2-15.7l12.1-5.3l9.1-1.4l9.1 0.9l9 3.1z"/>
<path fill="#f8f810" d="M385.2 80.7l4 4.9l4.4 9.1l2.5 9.1l1.7 12l-0.2 9.1l-1.4 6l-3 6.1l-5 5.3l-6.3 3.8l-8.8 2.2l-12.1 0.5l-24.2-0.6l-9.1-1.1l-6-2l-6.1-3.9l-3-3.3l-2.4-3.9l-1.9-6.1l-0.5-6l0.7-6.1l1.5-6l2.6-6l4.1-6.1l5-4.9l6-3.8l6.1-2.7l21.1-7.8l9.1-2.6l6-0.8l6.1 0.5l6 2.6z"/></g>
</g>
<path d="M191.20 553.80v-16.00M191.20 86.50v16.00M191.20 553.80h16.00M659.10 553.80h-16.00M308.17 553.80v-16.00M308.17 86.50v16.00M191.20 436.98h16.00M659.10 436.98h-16.00M425.15 553.80v-16.00M425.15 86.50v16.00M191.20 320.15h16.00M659.10 320.15h-16.00M542.12 553.80v-16.00M542.12 86.50v16.00M191.20 203.32h16.00M659.10 203.32h-16.00M659.10 553.80v-16.00M659.10 86.50v16.00M191.20 86.50h16.00M659.10 86.50h-16.00" stroke="#a0a0a0" stroke-opacity="0.75" stroke-width="0.90" fill="none"/>
<rect x="191.20" y="86.50" width="467.90" height="467.30" fill="none" stroke="#000" stroke-width="1.30"/>
<g clip-path="url(#mclipa)" fill="none" stroke="#000" stroke-width="1.3">
<path d="M235.2 104.5l11.2 11.2m0 -11.2l-11.2 11.2M270.2 106.1l11.2 11.2m0 -11.2l-11.2 11.2M300.2 143.9l11.2 11.2m0 -11.2l-11.2 11.2M361.5 133.3l11.2 11.2m0 -11.2l-11.2 11.2M352.8 173.4l11.2 11.2m0 -11.2l-11.2 11.2M276.8 179.6l11.2 11.2m0 -11.2l-11.2 11.2M351.0 190.9l11.2 11.2m0 -11.2l-11.2 11.2M238.2 203.2l11.2 11.2m0 -11.2l-11.2 11.2M259.3 209.4l11.2 11.2m0 -11.2l-11.2 11.2M226.3 214.3l11.2 11.2m0 -11.2l-11.2 11.2M213.9 222.3l11.2 11.2m0 -11.2l-11.2 11.2M410.3 214.7l11.2 11.2m0 -11.2l-11.2 11.2M345.1 247.0l11.2 11.2m0 -11.2l-11.2 11.2M347.3 259.9l11.2 11.2m0 -11.2l-11.2 11.2M224.0 256.7l11.2 11.2m0 -11.2l-11.2 11.2M197.0 280.7l11.2 11.2m0 -11.2l-11.2 11.2M217.2 299.5l11.2 11.2m0 -11.2l-11.2 11.2M347.5 303.6l11.2 11.2m0 -11.2l-11.2 11.2M361.5 310.7l11.2 11.2m0 -11.2l-11.2 11.2M372.1 309.8l11.2 11.2m0 -11.2l-11.2 11.2M418.0 97.4l11.2 11.2m0 -11.2l-11.2 11.2M445.5 109.1l11.2 11.2m0 -11.2l-11.2 11.2M481.6 107.5l11.2 11.2m0 -11.2l-11.2 11.2M434.3 136.3l11.2 11.2m0 -11.2l-11.2 11.2M467.4 133.3l11.2 11.2m0 -11.2l-11.2 11.2M523.7 132.7l11.2 11.2m0 -11.2l-11.2 11.2M499.3 158.8l11.2 11.2m0 -11.2l-11.2 11.2M652.5 183.8l11.2 11.2m0 -11.2l-11.2 11.2M558.7 212.6l11.2 11.2m0 -11.2l-11.2 11.2M588.3 255.3l11.2 11.2m0 -11.2l-11.2 11.2M638.3 263.8l11.2 11.2m0 -11.2l-11.2 11.2M516.6 282.6l11.2 11.2m0 -11.2l-11.2 11.2M429.9 287.8l11.2 11.2m0 -11.2l-11.2 11.2M628.1 299.1l11.2 11.2m0 -11.2l-11.2 11.2M239.8 345.3l11.2 11.2m0 -11.2l-11.2 11.2M303.4 344.0l11.2 11.2m0 -11.2l-11.2 11.2M191.5 371.5l11.2 11.2m0 -11.2l-11.2 11.2M404.5 387.3l11.2 11.2m0 -11.2l-11.2 11.2M400.2 407.2l11.2 11.2m0 -11.2l-11.2 11.2M241.0 406.8l11.2 11.2m0 -11.2l-11.2 11.2M252.2 408.8l11.2 11.2m0 -11.2l-11.2 11.2M287.9 408.6l11.2 11.2m0 -11.2l-11.2 11.2M198.9 457.4l11.2 11.2m0 -11.2l-11.2 11.2M300.2 465.7l11.2 11.2m0 -11.2l-11.2 11.2M320.1 457.8l11.2 11.2m0 -11.2l-11.2 11.2M384.2 470.9l11.2 11.2m0 -11.2l-11.2 11.2M218.7 481.9l11.2 11.2m0 -11.2l-11.2 11.2M283.5 505.1l11.2 11.2m0 -11.2l-11.2 11.2M272.5 511.0l11.2 11.2m0 -11.2l-11.2 11.2M210.0 516.8l11.2 11.2m0 -11.2l-11.2 11.2M360.6 522.7l11.2 11.2m0 -11.2l-11.2 11.2M196.3 538.7l11.2 11.2m0 -11.2l-11.2 11.2M442.7 323.1l11.2 11.2m0 -11.2l-11.2 11.2M462.2 321.1l11.2 11.2m0 -11.2l-11.2 11.2M645.9 358.4l11.2 11.2m0 -11.2l-11.2 11.2M650.9 363.5l11.2 11.2m0 -11.2l-11.2 11.2M475.5 491.3l11.2 11.2m0 -11.2l-11.2 11.2M460.3 501.6l11.2 11.2m0 -11.2l-11.2 11.2M508.2 501.0l11.2 11.2m0 -11.2l-11.2 11.2M619.6 491.3l11.2 11.2m0 -11.2l-11.2 11.2M607.0 510.8l11.2 11.2m0 -11.2l-11.2 11.2M431.7 532.3l11.2 11.2m0 -11.2l-11.2 11.2M602.6 533.2l11.2 11.2m0 -11.2l-11.2 11.2M556.9 545.6l11.2 11.2m0 -11.2l-11.2 11.2"/>
<circle cx="282.2" cy="128.6" r="7.7"/>
<circle cx="344.9" cy="121.5" r="7.7"/>
<circle cx="404.9" cy="104.3" r="7.7"/>
<circle cx="327.1" cy="152.7" r="7.7"/>
<circle cx="326.4" cy="193.1" r="7.7"/>
<circle cx="303.1" cy="209.6" r="7.7"/>
<circle cx="359.3" cy="205.6" r="7.7"/>
<circle cx="221.4" cy="209.3" r="7.7"/>
<circle cx="395.2" cy="250.1" r="7.7"/>
<circle cx="409.5" cy="264.8" r="7.7"/>
<circle cx="314.3" cy="270.5" r="7.7"/>
<circle cx="227.3" cy="276.2" r="7.7"/>
<circle cx="348.3" cy="289.8" r="7.7"/>
<circle cx="483.6" cy="88.1" r="7.7"/>
<circle cx="551.7" cy="89.9" r="7.7"/>
<circle cx="482.2" cy="115.4" r="7.7"/>
<circle cx="522.2" cy="112.6" r="7.7"/>
<circle cx="578.7" cy="127.7" r="7.7"/>
<circle cx="473.0" cy="160.7" r="7.7"/>
<circle cx="430.0" cy="195.6" r="7.7"/>
<circle cx="507.4" cy="197.4" r="7.7"/>
<circle cx="603.7" cy="185.3" r="7.7"/>
<circle cx="616.3" cy="192.1" r="7.7"/>
<circle cx="594.3" cy="210.0" r="7.7"/>
<circle cx="566.2" cy="245.1" r="7.7"/>
<circle cx="574.6" cy="260.6" r="7.7"/>
<circle cx="628.6" cy="245.1" r="7.7"/>
<circle cx="651.0" cy="254.9" r="7.7"/>
<circle cx="508.5" cy="272.3" r="7.7"/>
<circle cx="511.7" cy="270.5" r="7.7"/>
<circle cx="548.8" cy="275.1" r="7.7"/>
<circle cx="599.3" cy="277.6" r="7.7"/>
<circle cx="460.0" cy="289.5" r="7.7"/>
<circle cx="554.7" cy="301.9" r="7.7"/>
<circle cx="227.8" cy="328.9" r="7.7"/>
<circle cx="235.1" cy="357.6" r="7.7"/>
<circle cx="202.4" cy="365.8" r="7.7"/>
<circle cx="195.3" cy="405.2" r="7.7"/>
<circle cx="301.0" cy="398.2" r="7.7"/>
<circle cx="198.3" cy="449.3" r="7.7"/>
<circle cx="281.5" cy="466.2" r="7.7"/>
<circle cx="319.7" cy="457.3" r="7.7"/>
<circle cx="232.6" cy="495.3" r="7.7"/>
<circle cx="274.2" cy="499.9" r="7.7"/>
<circle cx="289.8" cy="498.8" r="7.7"/>
<circle cx="387.3" cy="499.2" r="7.7"/>
<circle cx="290.9" cy="528.8" r="7.7"/>
<circle cx="350.7" cy="533.3" r="7.7"/>
<circle cx="229.4" cy="546.9" r="7.7"/>
<circle cx="243.3" cy="551.2" r="7.7"/>
<circle cx="458.4" cy="364.2" r="7.7"/>
<circle cx="473.1" cy="369.9" r="7.7"/>
<circle cx="510.4" cy="361.0" r="7.7"/>
<circle cx="567.6" cy="350.7" r="7.7"/>
<circle cx="570.0" cy="357.3" r="7.7"/>
<circle cx="465.0" cy="403.4" r="7.7"/>
<circle cx="543.3" cy="420.2" r="7.7"/>
<circle cx="453.4" cy="443.8" r="7.7"/>
<circle cx="653.5" cy="440.8" r="7.7"/>
<circle cx="505.3" cy="470.1" r="7.7"/>
<circle cx="514.0" cy="490.7" r="7.7"/>
<circle cx="557.0" cy="501.9" r="7.7"/>
<circle cx="602.8" cy="498.0" r="7.7"/>
<circle cx="481.1" cy="550.8" r="7.7"/>
<rect x="333.3" y="109.9" width="23.2" height="23.2"/>
</g>
<text transform="scale(1.100 1)" x="225.38 245.81 268.57 282.37 303.88 326.64 341.18 352.29 369.96 390.93 411.40 428.58 448.05 461.89 482.44 495.34 505.91 526.34" y="40.30" font-size="40.40">output expectation</text>
<text><tspan x="143.53" y="606.17" font-size="59.34" style="stroke-width:1.38px">−</tspan><tspan x="176.39 197.84 219.29" y="597.20" font-size="42.60">200</tspan></text>
<text><tspan x="79.67" y="576.07" font-size="59.34" style="stroke-width:1.38px">−</tspan><tspan x="112.52 133.97 155.42" y="567.10" font-size="42.60">200</tspan></text>
<text><tspan x="260.51" y="606.17" font-size="59.34" style="stroke-width:1.38px">−</tspan><tspan x="293.36 314.81 336.26" y="597.20" font-size="42.60">100</tspan></text>
<text><tspan x="79.67" y="459.25" font-size="59.34" style="stroke-width:1.38px">−</tspan><tspan x="112.52 133.97 155.42" y="450.28" font-size="42.60">100</tspan></text>
<text x="415.50" y="597.20" font-size="42.60">0</text>
<text x="155.42" y="333.45" font-size="42.60">0</text>
<text x="511.02 532.48 553.93" y="597.20" font-size="42.60">100</text>
<text x="112.52 133.97 155.42" y="216.62" font-size="42.60">100</text>
<text x="628.00 649.45 670.90" y="597.20" font-size="42.60">200</text>
<text x="112.52 133.97 155.42" y="99.80" font-size="42.60">200</text>
<text><tspan x="404.71" y="647.60" font-size="45.00" font-style="italic" style="stroke-width:0.5px">μ</tspan><tspan x="429.76" y="654.00" font-size="31.42">1</tspan></text>
<g transform="translate(40.70 321.15) rotate(-90)"><text><tspan x="-19.44" y="0.00" font-size="45.00" font-style="italic" style="stroke-width:0.5px">μ</tspan><tspan x="5.61" y="6.40" font-size="31.42">2</tspan></text></g>
<linearGradient id="cga" x1="0" y1="1" x2="0" y2="0"><stop offset="0" stop-color="#352a87"/><stop offset="1" stop-color="#f9fb0e"/></linearGradient><rect x="738.40" y="86.50" width="55.30" height="467.30" fill="url(#cga)"/>
<text x="808.77 830.79 842.15" y="568.40" font-size="42.60">1.2</text>
<text x="808.77 830.79 842.15" y="496.51" font-size="42.60">1.4</text>
<text x="808.77 830.79 842.15" y="424.62" font-size="42.60">1.6</text>
<text x="808.77 830.79 842.15" y="352.72" font-size="42.60">1.8</text>
<text x="808.77 830.79 842.15" y="280.83" font-size="42.60">2.0</text>
<text x="808.77 830.79 842.15" y="208.94" font-size="42.60">2.2</text>
<text x="808.77 830.79 842.15" y="137.05" font-size="42.60">2.4</text>
<path d="M738.40 553.80h16.00M793.70 553.80h-16.00M738.40 481.91h16.00M793.70 481.91h-16.00M738.40 410.02h16.00M793.70 410.02h-16.00M738.40 338.12h16.00M793.70 338.12h-16.00M738.40 266.23h16.00M793.70 266.23h-16.00M738.40 194.34h16.00M793.70 194.34h-16.00M738.40 122.45h16.00M793.70 122.45h-16.00" stroke="#a0a0a0" stroke-opacity="0.8" stroke-width="0.90" fill="none"/>
<rect x="738.40" y="86.50" width="55.30" height="467.30" fill="none" stroke="#000" stroke-width="1.30"/>
<text><tspan x="680.64 693.77 715.22" y="73.10" font-size="42.60">·10</tspan><tspan x="736.75" y="65.59" font-size="48.07" style="stroke-width:1.29px">−</tspan><tspan x="763.46" y="57.14" font-size="32.80">4</tspan></text>
</g>
<g id="plot-b">
<g transform="translate(1003.80 86.50)" clip-path="url(#clipb)">
<g filter="url(#blur)"><rect x="-8" y="-8" width="483.9" height="483.3" fill="#352c8b"/>
<path fill="#363093" d="M-8 -8l483.9 0l0 483.3l-440.1 0l-2.2-6l-4.2-6.1l-13.2-12.8l-12.1-9.4l-6.1-3l-6-1.4z"/>
<path fill="#36349b" d="M-8 -8l483.9 0l0 483.3l-413.7 0l-2.7-6l-5-6.1l-41.3-37.1l-6.1-4.8l-6-3.6l-9.1-2.6z"/>
<path fill="#3638a4" d="M-8 -8l483.9 0l0 483.3l-386.1 0l-3.4-6l-2.8-3.1l-30.9-24.1l-39.5-36.8l-6.1-4.8l-6-3.8l-9.1-2.9z"/>
<path fill="#353dac" d="M-8 -8l483.9 0l0 483.3l-357.7 0l-1.7-3l-2.6-3l-3.5-3.1l-27.7-17.3l-13.1-9.8l-10.2-9.1l-28.2-27.2l-24.1-21l-9.1-6.4l-6-2.2z"/>
<path fill="#3341b5" d="M-8 -8l483.9 0l0 483.3l-328.9 0l-2.1-3l-3.2-3l-4.2-3.1l-34.3-18.1l-11.4-7.1l-9.1-6.6l-12-10.5l-24.8-24.1l-28.2-24.2l-16.6-17.9l-6.1-4.7l-3-1.3z"/>
<path fill="#3045bd" d="M-8 -8l483.9 0l0 483.3l-300.2 0l-2.4-3l-3.7-3l-5-3.1l-42.6-19.5l-12-6.7l-12.1-7.9l-14.2-11.2l-28.5-27.2l-23.9-19.3l-8.5-7.8l-5.3-6.1l-4.3-6l-12.1-20.6l-3.1-3.7l-3-2.6l-3-1.7z"/>
<path fill="#2c4ac6" d="M-8 -8l483.9 0l0 483.3l-272.5 0l-2.6-3l-4-3l-5.4-3.1l-48.2-19.4l-18.1-9.3l-15.1-9.4l-18.2-13.6l-28.8-26.8l-23-18.1l-8.7-7.8l-6.3-7.3l-5.6-9.1l-4.1-9l-8.2-21.6l-6-12.7l-3.1-4.6l-3-3.4l-3-2.3z"/>
<path fill="#254fce" d="M-8 -8l483.9 0l0 483.3l-246.8 0l-2.3-3l-3.8-3l-5.4-3.1l-7.1-3l-34-11.6l-15.1-5.9l-18.2-8.6l-18.1-10.5l-12.1-7.9l-12.1-9.1l-30.9-27.9l-23.3-18.2l-6.7-6l-7.6-9.1l-6.4-12l-4.3-12.1l-14.6-48l-3.4-9.4l-2.6-5.3l-3.1-4.1l-3-2.6l-3-1.5z"/>
<path fill="#1c55d6" d="M-8 -8l483.9 0l0 483.3l-226.5 0l-1.9-3l-3-3l-4.2-3.1l-6-3l-12.4-4.7l-33.3-10.5l-15.1-5.7l-18.2-8.3l-21.2-12l-15.1-9.8l-12.6-9.4l-8.5-7.3l-21.3-19.9l-23.1-18.1l-6.5-6l-7.1-9.1l-3.3-6l-3.8-9.1l-9.3-30.2l-10.2-36.3l-4.7-12l-4.5-7.8l-3-3.5l-3.1-2.5l-6-2.6z"/>
<path fill="#115bdc" d="M-8 -8l483.9 0l0 483.3l-207.5 0l-2.2-3l-3.3-3l-4.3-3.1l-11.6-6l-13.1-5.1l-36.2-11.6l-18.2-6.8l-18.1-8.5l-21.2-12l-18.2-11.7l-12-9.2l-8.7-7.6l-18.6-18.1l-22.2-18.1l-5-4.7l-3.9-4.4l-4.2-6l-3.2-6.1l-3.8-9l-10.7-33.3l-10.5-37.1l-6.5-17.3l-4.8-9l-3.8-5.3l-3-2.8l-3.1-1.9l-6-1.9z"/>
<path fill="#0860df" d="M-8 -8l483.9 0l0 483.3l-170.6 0l-6.6-3l-22.4-7.8l-36.3-14.3l-48.4-16.5l-15.1-6.3l-15.1-7.6l-27.3-16.1l-18.1-12.7l-10.4-9.3l-19.8-20.4l-21.7-18.9l-5.5-6l-4.2-6.1l-3.3-6l-4.7-10.9l-10.6-31.4l-13.6-48.9l-5.9-17.6l-3.1-7.1l-3.1-5.1l-3-3.8l-3-2.7l-6.1-3.1l-6-1.2z"/>
<path fill="#0364e1" d="M-8 -8l483.9 0l0 483.3l-93.2 0l-8.7-3l-15.7-3l-57.8-7.9l-24.2-4.9l-12.1-3.9l-30.3-11.6l-36.2-12.6l-21.2-8.8l-18.2-9.4l-24.2-14.4l-12.1-8.4l-12-10.6l-21.2-23l-18.9-17.4l-7.5-9.1l-5.4-9.1l-4-9l-10.8-30.2l-5.7-21.2l-12-51.3l-7-24.2l-2-9.1l-1.4-12l-1.8-30.3l-2.2-13.2l-3-9.2l-4.4-7.8l-4.7-4.8l-6-2.7z"/>
<path fill="#0267e1" d="M5.2 -8l470.7 0l0 483.3l-26.3 0l-6-3l-9.9-3l-15.1-3.1l-30.4-3.8l-54.4-4.3l-24.2-2.4l-21.2-3.3l-15.1-3.6l-12.1-4.1l-29.8-11.7l-36.8-13l-18.1-7.8l-21.2-11.1l-21.2-12.4l-12.1-8.8l-7.9-7.3l-22.3-25.2l-17.4-17.1l-7.2-9.1l-5.2-9l-4.2-9.1l-5.8-15.1l-4.9-15.1l-7.7-33.2l-4-24.2l-4.5-39.2l-1.6-42.3l-1.5-15.1l-3.5-15.1l-11.4-36.3l-3.1-15.1l-3.5-36.2z"/>
<path fill="#036be1" d="M17.4 -8l458.5 0l0 469.9l-12.1-0.7l-48.4-4.4l-93.7-6l-21.5-2.7l-20.9-4.3l-12.1-3.8l-33.3-13.1l-36.2-12.7l-21.2-8.8l-18.2-9.3l-21.1-12l-11.9-8.5l-9.3-8.7l-20.8-24.5l-17.4-18.1l-6.7-9.1l-5.1-9.1l-5.3-12l-4.5-12.1l-3.7-12.1l-6.3-30.2l-2.7-21.2l-1.3-33.2l-0.4-51.3l-0.7-12.1l-3-15.1l-9.3-30.2l-4.2-18.1l-4.9-36.3l-1.7-18.1z"/>
<path fill="#056ee0" d="M27 -8l448.9 0l0 460.4l-145.2-6.9l-24.2-2.6l-21.1-4.3l-18.2-5.4l-31.2-12.3l-41.4-14.3l-18.1-7.5l-18.2-9l-18.1-10.1l-12.1-8.5l-8.6-8l-20.1-24.1l-16.6-18.2l-6.7-9l-5.1-9.1l-5.5-12.1l-4.5-12l-3.5-12.1l-5-27.2l-2-21.2l0.2-36.2l1.7-48.3l-0.4-12.1l-2.5-13.3l-10.3-32l-4.4-18.1l-5.9-42.3z"/>
<path fill="#0870df" d="M35.5 -8l440.4 0l0 451.7l-87.7-1.6l-51.4-2.3l-24.2-2.2l-21.2-4.1l-21.2-6.1l-33.2-12.6l-42.4-14.2l-15.1-6l-18.1-8.6l-18.2-9.8l-12.1-8.3l-8.2-7.4l-22-26.5l-13.9-15.8l-6.5-9l-5.1-9.1l-5.5-12.1l-4.4-12.1l-2.6-9l-2.4-12.1l-2.2-15.1l-1.6-21.2l1-39.2l3.6-45.3l-0.2-12.1l-2.6-13l-10.5-32.3l-3.8-15.1l-2.6-15.1l-5.5-42.3z"/>
<path fill="#0a73dd" d="M43.3 -8l432.6 0l0 442.8l-78.6 0.9l-21.2-0.3l-51.4-2.5l-12.1-1.5l-12.1-2.2l-27.2-7.3l-36.3-13.1l-39.3-12.7l-18.2-6.9l-18.1-8.4l-18.2-9.9l-9.1-6.2l-9-8.2l-32-38.3l-8.6-12.1l-5-9l-5.5-12.1l-4.3-12.1l-2.3-9l-4.1-27.2l-0.8-12.1l-0.2-12.1l1.6-39.3l1.4-15.1l3.4-24.1l0-12.1l-2.4-12.1l-10.1-30.2l-4.5-18.1l-6.7-48.4z"/>
<path fill="#0d75dc" d="M50.5 -8l425.4 0l0 434.1l-93.8 3.1l-54.4-2.1l-12.1-1.3l-12.1-2.1l-30.2-8.1l-37.7-12.8l-34.9-10.8l-18.2-6.6l-18.1-8l-15.1-8l-12.1-7.8l-9.1-7.9l-7.5-8.3l-22-27.2l-8.6-12.1l-5.2-9l-5.7-12.1l-4.5-12.1l-2.3-9l-2.6-15.1l-1.6-15.2l-0.6-12l0.1-15.1l1.7-36.3l1.5-12.1l4.3-24.1l0.3-12.1l-2.5-12.1l-10.5-30.2l-4.4-18.1l-6.3-51.4z"/>
<path fill="#0f78db" d="M57.1 -8l418.8 0l0 425.8l-75.6 4.6l-18.2 0.6l-54.4-1.8l-12.1-1.2l-9.1-1.6l-33.2-8.6l-30.9-10l-41.7-12.6l-18.2-6.5l-18.1-8l-15.1-8.1l-12.1-8.3l-8.6-7.9l-8-9l-14.6-18.2l-6.8-9l-5.9-9.1l-6.5-12.1l-4.1-9l-4.2-12.1l-2.2-9.1l-2.2-15.1l-1.5-18.1l-0.3-15.1l0.5-21.1l1.5-24.2l1.4-9.1l5.1-24.1l0.6-6.1l-0.2-6l-2.5-12.1l-9.8-27.2l-4.8-18.1l-3.4-27.2l-3.1-33.2z"/>
<path fill="#117bd9" d="M63.1 -8l412.8 0l0 418.1l-15.1 0.7l-60.5 5.3l-18.2 0.8l-51.4-1.2l-12.1-0.9l-9-1.4l-15.2-3.4l-21.1-5.7l-69.6-20.6l-18.1-6.3l-18.2-7.8l-15.1-8l-12.1-8l-9.1-8.1l-9.1-10l-11.4-14.3l-12.5-18.1l-5-9l-5.7-12.1l-3.4-9.1l-3.1-12.1l-2.3-15.1l-1.5-18.1l-0.2-18.1l0.7-27.2l1.5-18.1l6.8-30.2l0.6-6.1l-0.2-6l-2.4-12.1l-11-30.2l-3.8-15.1l-2.5-21.1l-3-39.3z"/>
<path fill="#137dd8" d="M68.8 -8l407.1 0l0 411.1l-15.1 0.8l-60.5 6.1l-18.2 1.2l-51.4-0.9l-12.1-0.9l-9-1.3l-39.4-9.6l-60.4-17.1l-21.2-7.1l-18.2-7.6l-17.2-9.2l-13-9l-9.1-8.3l-9.1-10.1l-9.3-11.9l-6.4-9l-5.4-9.1l-6.2-12.1l-5.1-12.1l-2.9-9l-2-9.1l-2.3-18.1l-1-15.1l0.4-45.3l2-18.1l6.5-27.2l0.5-12.1l-2.2-12.1l-11-30.2l-3.8-15.1l-2.2-21.1z"/>
<path fill="#1480d6" d="M74.2 -8l401.7 0l0 404.8l-15.1 0.9l-63.5 6.9l-15.2 1.1l-51.4-0.5l-12.1-0.8l-9-1.3l-33.3-7.7l-54.4-14.6l-18.2-5.3l-15.1-5.3l-18.2-7.8l-15.1-8.1l-12.1-8.3l-10.8-9.6l-7.3-8l-8.2-10.2l-6.3-9l-5.3-9.1l-6.2-12.1l-5.1-12.1l-3-9l-2.5-12.1l-1.9-15.1l-1-15.1l0.3-48.3l1.9-15.1l6.4-27.2l0.5-12.1l-0.7-6.1l-2.1-9l-9.9-27.2l-3.8-15.1l-1.7-18.1z"/>
<path fill="#1482d5" d="M79.3 -8l396.6 0l0 399.2l-18.1 1.1l-60.5 6.9l-15.2 1.3l-51.4-0.1l-12.1-0.7l-9-1.3l-39.4-8.9l-45.3-11.7l-18.2-5.2l-15.1-5.2l-18.1-7.7l-15.2-8.1l-12.1-8.1l-12.1-10.4l-13-14.9l-6.4-9l-5.3-9.1l-6-12.1l-5.2-12.1l-2.9-9l-2.7-12.1l-2-15.1l-1-15.1l-0.1-45.3l1.5-15.1l6.6-30.2l0.5-12.1l-0.6-6.1l-1.8-9l-10.4-30.2l-2.8-12.1l-1.6-18.1z"/>
<path fill="#1485d4" d="M84.2 -8l391.7 0l0 394.2l-23.8 1.5l-57.9 6.8l-15.1 1.2l-48.4 0.2l-12.1-0.7l-9-1.2l-36.3-7.8l-39.4-9.7l-21.1-5.8l-18.2-6l-18.1-7.7l-16.1-8.6l-14.2-9.5l-12.1-10.7l-6.3-7l-7-9l-5.7-9.1l-6.2-12.1l-5.4-12l-3.2-9.1l-2.5-9.1l-2.1-12l-1.7-15.2l-0.7-12l-0.1-45.3l1.3-12.1l5.8-27.2l0.7-6.1l0.2-9l-1-9.1l-1.9-9l-8.9-27.2l-3.2-15.1l-1-18.1z"/>
<path fill="#1388d3" d="M89 -8l386.9 0l0 389.5l-27.2 1.8l-57.5 6.8l-12.1 1l-48.4 0.6l-12.1-0.7l-9-1.2l-36.3-7.5l-36.3-8.6l-21.2-5.6l-18.1-6l-18.2-7.6l-18.1-9.8l-15.2-10.4l-11.2-10l-6.9-7.9l-5.3-7.2l-5.4-9.1l-6-12.1l-5-12.1l-3-9l-2.3-9.1l-2-12.1l-1.4-12.1l-0.9-15.1l-0.3-42.2l1.2-12.1l5.4-27.2l0.9-15.1l-0.9-9.1l-1.7-9l-8.9-30.2l-2.2-12.1l-0.8-15.1z"/>
<path fill="#128bd2" d="M93.7 -8l382.2 0l0 385.2l-30.2 1.8l-25.2 2.7l-29.3 3.9l-15.1 1.3l-45.4 0.7l-12.1-0.6l-9-1.1l-39.4-7.9l-30.2-6.9l-21.2-5.6l-18.1-5.9l-18.2-7.6l-18.1-9.7l-15.1-10.1l-12.1-10.6l-6.1-6.7l-6.3-8.8l-5.2-9l-5.7-12.1l-4.7-12.1l-2.8-9l-4-21.2l-2.1-24.2l-0.6-42.2l1.1-12.1l4.9-27.2l0.8-15.1l-0.7-9.1l-1.5-9l-8-30.2l-2.1-12.1l-0.6-15.1z"/>
<path fill="#108ed2" d="M98.2 -8l377.7 0l0 381l-15.1 0.5l-24.2 2.1l-45.4 5.7l-15.1 1.4l-45.4 1.1l-12.1-0.6l-9-1.1l-39.4-7.5l-27.2-6.1l-21.1-5.4l-18.2-5.9l-18.1-7.6l-18.2-9.6l-15.1-9.9l-12.1-10.2l-7-7.7l-5.1-7.2l-4.6-7.9l-5.8-12.1l-4.7-12.1l-2.9-9l-2.7-12.1l-1.9-12.1l-2.2-27.2l-0.6-36.2l1-12.1l4.5-27.2l0.7-15.1l-2-18.8l-7-29.5l-1.8-12.1l-0.5-15.1z"/>
<path fill="#0e92d2" d="M102.5 -8l373.4 0l0 377l-18.1 0.6l-21.2 1.8l-21.2 2.3l-27.2 3.9l-18.2 1.4l-39.3 1.1l-12.1-0.5l-12.1-1.5l-36.3-6.9l-27.2-5.9l-21.1-5.5l-18.2-6.1l-18.1-7.8l-18.2-9.9l-15.1-10.2l-12-10.6l-6.2-7.3l-5.1-7.8l-4.8-9.1l-5.3-12l-4.2-12.1l-2.5-9.1l-4.1-24.2l-1.9-27.1l-0.7-30.2l0.9-12.1l4.1-27.2l0.6-15.1l-1.5-18.1l-6.2-30.2l-1.6-12.1l-0.4-15.1z"/>
<path fill="#0b95d2" d="M106.7 -8l369.2 0l0 373.1l-18.1 0.6l-24.2 1.9l-18.2 2l-30.2 4.4l-18.2 1.4l-36.3 1.2l-12.1-0.5l-12.1-1.4l-36.3-6.6l-24.2-5.2l-21.1-5.4l-18.2-6l-18.1-7.8l-18.2-9.8l-15.1-10.1l-12.1-10.5l-6-7l-4.3-6.2l-5-9.1l-5.3-12l-4.3-12.1l-2.6-9.1l-2.5-12.1l-2.2-15.1l-2.1-27.2l-0.7-27.1l0.8-12.1l3.7-27.2l0.6-15.1l-1.3-18.1l-5.7-33.3l-1.1-12l-0.1-15.1z"/>
<path fill="#0998d1" d="M110.7 -8l365.2 0l0 369.2l-21.2 0.7l-24.2 2l-15.1 1.7l-30.2 4.6l-21.2 1.8l-33.3 1.2l-12.1-0.4l-12.1-1.4l-36.3-6.4l-24.2-5.1l-18.1-4.6l-18.1-5.9l-18.2-7.8l-18.1-9.8l-15.2-9.9l-12.1-10.3l-6-6.9l-5.2-7.6l-4.8-9.1l-5.2-12.1l-4.2-12l-2.4-9.1l-2.5-12.1l-2.2-15.1l-2.2-27.2l-0.7-24.1l0.7-12.1l3.3-27.2l0.6-15.1l-1.1-18.1l-4.7-33.3l-1-12l0.1-15.1z"/>
<path fill="#079bd0" d="M114.6 -8l361.3 0l0 365.4l-21.2 0.6l-24.2 1.9l-15.1 1.8l-33.3 5.1l-24.2 2.1l-30.2 1l-21.2-1.7l-33.2-5.7l-21.2-4.2l-21.2-5.2l-18.1-5.8l-18.2-7.7l-18.1-9.7l-15.1-9.9l-12.8-10.8l-5.4-6.1l-6.1-9l-4.7-9.1l-5.1-12.1l-4-12.1l-3-12l-2.3-12.1l-2-15.1l-2-24.2l-0.7-21.1l0.7-12.1l2.9-27.2l0.5-18.1l-1.1-18.2l-3.8-33.2l-0.5-12.1z"/>
<path fill="#079ecf" d="M118.4 -8l357.5 0l0 361.5l-21.2 0.6l-24.2 1.9l-18.1 2.3l-30.3 5l-27.2 2.5l-27.2 1l-21.2-1.7l-33.2-5.5l-18.2-3.5l-21.2-5.1l-18.1-5.6l-18.1-7.7l-18.2-9.7l-15.1-9.8l-12.1-10l-7.1-8.1l-5-7.3l-5.6-10.8l-5-12.1l-3.8-12.1l-3-12.1l-2.8-15.1l-1.8-15.1l-1.8-21.1l-0.6-18.1l0.5-12.1l2.6-27.2l0.5-18.1l-0.9-18.2l-2.9-33.2l-0.3-12.1z"/>
<path fill="#06a0cd" d="M122.2 -8l353.7 0l0 357.6l-21.2 0.6l-27.2 2.3l-15.1 2l-30.3 5.3l-30.2 3l-24.2 0.9l-21.2-1.6l-33.2-5.3l-18.2-3.5l-21.2-5.1l-18.1-5.9l-15.1-6.4l-18.2-9.6l-15.1-9.8l-12.5-10.4l-5.6-6.1l-6.3-9l-6.3-12l-4.8-12.1l-3.8-12.1l-3.5-15.1l-2.1-12.1l-2.3-18.1l-1.7-21.2l-0.3-15.1l2.7-36.2l0.4-18.1l-2.6-51.4l-0.2-12.1z"/>
<path fill="#06a2cb" d="M125.8 -8l350.1 0l0 353.7l-21.2 0.6l-27.2 2.4l-15.1 2.1l-30.3 5.6l-30.2 3.3l-24.2 1.1l-21.2-1.6l-33.2-5.1l-18.2-3.5l-18.1-4.4l-18.2-5.7l-18.1-7.7l-18.2-10l-15.1-10.2l-10.9-9.5l-5.4-6l-6.2-9.1l-6.2-12.1l-4.6-12l-3.7-12.1l-3.5-15.1l-2.6-15.1l-2.5-21.2l-1.1-15.1l-0.2-12.1l2.3-36.2l0.5-18.1l-1.7-60.4l0.6-15.1l3-36.3z"/>
<path fill="#06a5c9" d="M129.4 -8l346.5 0l0 349.7l-21.2 0.6l-27.2 2.6l-15.1 2.3l-33.3 6.4l-30.2 3.4l-24.2 0.8l-21.2-1.8l-27.2-4.1l-21.2-3.9l-18.1-4.5l-18.2-5.8l-15.1-6.5l-18.2-10l-15.1-10.1l-12.1-10.6l-6-7.1l-6.1-9.2l-5.5-11.3l-4.5-12.1l-3.6-12l-3.5-15.2l-2.6-15.1l-2.6-21.1l-1.2-24.2l2.4-48.3l-0.4-66.4l1-18.2l3.2-36.2z"/>
<path fill="#06a7c6" d="M132.8 -8l343.1 0l0 345.7l-21.2 0.6l-27.2 2.9l-15.1 2.4l-33.3 6.8l-27.2 3.4l-24.2 1.3l-21.2-1.4l-30.2-4.3l-18.2-3.4l-21.1-5.1l-18.2-6l-15.1-6.7l-17.7-10l-13.2-9l-11.4-10l-7.1-8.2l-5.8-9l-4.6-9.1l-4.7-12.1l-4.5-15.1l-3.5-15.1l-3-18.1l-2.2-18.1l-1-24.2l1.9-42.3l0.5-63.4l1-18.1l3.7-39.3z"/>
<path fill="#06a8c4" d="M136.2 -8l339.7 0l0 341.6l-21.2 0.7l-24.2 2.8l-15.1 2.4l-36.3 7.8l-30.2 4l-12.1 0.9l-12.1 0.1l-21.2-1.6l-27.2-3.8l-18.2-3.3l-21.1-5.3l-15.1-4.9l-15.2-6.6l-15.5-8.6l-14.7-9.9l-13-11.2l-7.7-9.1l-5.7-9l-4.4-9.1l-4.6-12.1l-4.4-15.1l-3.4-15.1l-3.5-21.1l-1.8-15.1l-0.8-21.2l1.5-39.3l1.2-57.3l1.4-24.2l4.1-42.3z"/>
<path fill="#08aac1" d="M139.5 -8l336.4 0l0 337.6l-21.2 0.8l-24.2 3l-15.1 2.6l-36.3 8.3l-27.2 3.9l-12.1 1.1l-12.1 0.5l-21.2-1.3l-27.2-3.6l-18.1-3.1l-18.2-4.2l-18.1-5.7l-15.1-6.4l-15.2-8.3l-15.1-10.2l-12.1-10.1l-8-8.9l-6-9l-4.7-9.1l-4.7-12.1l-4.6-15.1l-3.5-15.1l-3.7-21.1l-1.9-15.1l-0.8-12.1l-0.1-12.1l2.4-81.6l2-30.2l4.9-48.3z"/>
<path fill="#0aacbe" d="M142.7 -8l333.2 0l0 333.6l-21.2 0.8l-24.2 3.3l-18.1 3.6l-30.3 7.5l-30.2 4.8l-12.1 1.2l-12.1 0.4l-21.2-1.2l-27.2-3.4l-18.1-3.1l-18.2-4.3l-18.1-5.8l-15.1-6.6l-15.2-8.6l-15.1-10.6l-11-9.5l-7.1-8.1l-6.1-9.1l-5-10l-4.5-12.1l-4.5-15.1l-3.5-15.1l-3.7-21.2l-1.9-15.1l-0.7-21.1l2.1-72.5l2.8-36.2l5.7-54.4z"/>
<path fill="#0dadbb" d="M145.7 -8l330.2 0l0 329.5l-21.2 1l-21.1 3.1l-18.2 3.6l-33.3 8.7l-30.2 5.1l-21.2 1.7l-12.1-0.2l-12.1-0.9l-27.2-3.2l-18.1-3.1l-18.2-4.4l-18.1-6l-15.1-6.8l-13.6-7.9l-13.7-9.6l-12.1-10.5l-6.3-7.1l-6.2-9.1l-4.7-9l-4.7-12.1l-4.6-15.1l-4.2-18.1l-3.8-21.2l-1.7-15.1l-0.6-21.1l1.7-63.5l2.3-27.1l7.2-66.5z"/>
<path fill="#11afb8" d="M148.7 -8l327.2 0l0 325.6l-18.1 0.8l-21.2 3l-21.2 4.5l-33.3 9.2l-30.2 5.5l-21.2 1.7l-12.1-0.1l-12.1-0.9l-27.2-3.1l-18.1-3l-15.2-3.7l-18.1-5.9l-15.1-6.6l-12.1-6.9l-15.1-10.5l-12.5-10.6l-5.7-6.1l-6.5-9l-4.9-9l-4.9-12.1l-4.7-15.1l-4.3-18.1l-3.9-21.2l-1.9-15.1l-0.6-24.1l1.5-57.4l1.8-21.2l8.8-75.5z"/>
<path fill="#15b0b5" d="M151.5 -8l324.4 0l0 321.7l-21.2 1.2l-21.1 3.6l-18.2 4.1l-33.3 9.8l-27.2 5.3l-12.1 1.6l-12.1 0.8l-24.2-1l-27.2-2.9l-15.1-2.5l-18.2-4.4l-18.1-6.1l-15.1-6.8l-12.3-7.2l-14.9-10.7l-11.9-10.5l-6.3-7.1l-5.4-8l-4.7-9l-4.7-12.1l-4.5-15.1l-4.2-18.2l-4-21.1l-1.7-15.1l-0.4-30.2l0.5-30.2l0.9-18.1l1.7-18.2l9.4-75.5z"/>
<path fill="#1ab2b1" d="M154.3 -8l321.6 0l0 317.8l-21.2 1.4l-21.1 3.8l-18.2 4.4l-33.3 10.4l-27.2 5.6l-21.1 2.4l-12.1 0.1l-12.1-0.7l-27.3-2.6l-18.1-2.8l-15.1-3.7l-18.2-6l-15.1-6.7l-12.1-7l-15.1-10.7l-12.1-10.4l-6.1-6.6l-6-8.6l-4.4-8.2l-4.9-12.1l-4.6-15.1l-5-21.2l-3.4-18.1l-1.8-15.1l-0.5-33.2l0.3-27.2l0.8-15.1l1.5-15.1l5.2-36.3l5.1-42.3z"/>
<path fill="#1fb3ae" d="M157 -8l318.9 0l0 314l-18.1 1.1l-24.2 4.5l-18.2 4.7l-33.3 10.9l-27.2 5.9l-21.1 2.5l-12.1 0.2l-12.1-0.6l-27.3-2.6l-15.1-2.2l-15.1-3.5l-18.2-5.9l-15.1-6.6l-12.1-6.8l-15.1-10.5l-14-12.1l-7.2-8.3l-4.5-6.8l-4.7-9.1l-4.6-12l-4.5-15.2l-4.3-18.1l-3.6-18.1l-1.9-15.1l-0.6-33.2l0.9-39.3l1.9-18.1l7.6-51.4l4-33.2z"/>
<path fill="#24b5aa" d="M159.8 -8l316.1 0l0 310.3l-18.1 1.2l-24.2 4.7l-18.2 5l-33.3 11.5l-27.2 6.2l-21.1 2.7l-21.2-0.2l-24.2-2l-18.2-2.4l-15.1-3.3l-18.1-5.8l-15.1-6.4l-13.3-7.4l-14-9.6l-13.6-11.5l-7.5-8.3l-4.9-6.8l-4.8-9.1l-3.8-9l-4.8-15.1l-4.6-18.2l-4.3-21.1l-2-15.1l-0.6-12.1l-0.1-27.2l0.9-33.2l2.1-18.1l7.3-45.3l4.9-39.3z"/>
<path fill="#2ab6a7" d="M162.5 -8l313.4 0l0 306.6l-18.1 1.3l-24.2 5l-18.2 5.2l-33.3 12.1l-24.2 6l-21.1 3.1l-12.1 0.5l-12.1-0.4l-27.2-2.2l-15.2-2l-15.1-3.4l-15.1-4.9l-16-6.7l-14.2-7.9l-15.2-10.7l-12.1-10.3l-6.7-7.4l-5.4-7.5l-4.1-7.6l-5-12l-4.7-15.2l-5.8-24.1l-3-15.1l-1.7-15.1l-0.6-45.3l0.9-24.2l2.3-18.1l7.3-42.3l5.4-42.3z"/>
<path fill="#30b7a3" d="M165.2 -8l310.7 0l0 303l-18.1 1.4l-24.2 5.3l-18.2 5.4l-33.3 12.6l-24.2 6.3l-12 2.3l-9.1 1.1l-21.2 0.3l-24.2-1.8l-18.1-2l-15.2-3.2l-15.1-4.8l-15.1-6.2l-15.1-8.1l-15.1-10.4l-13.2-11.2l-5.7-6.1l-6.6-9l-4.8-9.1l-3.7-9l-4.8-15.2l-6-24.1l-3.1-15.1l-1.8-15.1l-0.7-45.3l1-24.2l2.4-18.1l7.8-42.3l5.6-42.3z"/>
<path fill="#36b99f" d="M168 -8l307.9 0l0 299.4l-12.1 0.8l-9.1 1.3l-24.2 5.8l-15.1 4.7l-33.3 13.2l-24.2 6.7l-12 2.4l-9.1 1.1l-21.2 0.4l-24.2-1.7l-18.1-2l-12.1-2.5l-15.2-4.7l-18.1-7.5l-15.1-8.3l-15.1-10.6l-12.1-10.6l-6.4-7l-5.7-8.3l-5-9.8l-3.6-9.1l-5.5-18.1l-5.9-24.2l-2.7-15.1l-1.1-12l-0.5-45.4l1-21.1l2.1-15.3l6.1-30l2.6-15.1l5.8-42.3z"/>
<path fill="#3dba9b" d="M170.9 -8l305 0l0 295.9l-9.1 0.5l-9 1.2l-12.1 2.6l-15.2 4l-18.1 6l-30.3 12.6l-24.2 7l-18.1 3.4l-9.1 0.8l-12.1 0l-21.1-1.2l-21.2-2l-12.1-2.3l-15.1-4.5l-18.2-7.4l-15.1-8l-15.1-10.4l-12.1-10.4l-6.5-6.9l-6.5-9l-4.7-9.1l-3.7-9.1l-5.6-18.1l-6.1-24.2l-2.8-15.1l-1.1-12l-0.6-45.4l1-21.1l2.2-15.1l8.7-42.3l6.7-45.3z"/>
<path fill="#44bb97" d="M173.8 -8l302.1 0l0 292.4l-9.1 0.6l-12.1 1.9l-27.2 7.2l-15.1 5.2l-30.3 13l-24.2 7.5l-18.1 3.5l-9.1 0.8l-12.1 0.1l-21.1-1.1l-21.2-2.1l-12.1-2.3l-12.1-3.6l-18.2-7.3l-15.1-7.8l-15.1-10.1l-13-10.9l-5.7-6.1l-6.8-9l-4.9-9.1l-4.9-12.1l-4.7-15.1l-6.2-24.2l-2.9-15.1l-1.2-12l-0.6-45.4l1.1-21.1l2.3-15.1l9.1-42.3l7.5-48.3z"/>
<path fill="#4bbc93" d="M176.9 -8l299 0l0 289l-9.1 0.6l-9 1.5l-12.1 2.8l-18.2 5.2l-15.1 5.3l-30.3 13.4l-24.2 7.9l-18.1 3.7l-18.1 1l-21.2-0.9l-21.2-1.8l-12.1-2.1l-12.1-3.4l-18.1-7.2l-15.1-7.6l-15.2-9.8l-12.9-10.6l-8.2-8.8l-4.7-6.3l-5.2-9.1l-3.9-9.1l-6-18.1l-6.4-24.2l-2.9-15.1l-1.3-12l-0.6-45.4l1.1-21.1l2.5-15.1l9.5-42.3l8.1-48.3z"/>
<path fill="#52bd8f" d="M180.3 -8l295.6 0l0 285.7l-9.1 0.6l-9 1.5l-12.1 3l-18.2 5.3l-15.1 5.5l-30.3 13.8l-24.2 8.2l-18.1 4l-18.1 1l-21.2-0.9l-21.2-1.8l-12.1-2.1l-12.1-3.5l-18.1-7.4l-15.1-7.8l-15.2-10l-12.1-10.2l-6.5-7l-6.6-9.1l-4.8-9l-3.8-9.1l-5.8-18.1l-6.5-24.2l-2.7-15.1l-1.1-12.1l-0.5-42.3l1.2-21.1l2.6-15.1l9.5-39.3l9.4-51.3z"/>
<path fill="#5abd8b" d="M183.9 -8l292 0l0 282.4l-9.1 0.7l-9 1.6l-30.3 8.5l-15.8 5.8l-32.6 15.1l-21.2 7.4l-9 2.5l-9.1 1.7l-15.1 1.1l-18.2-0.5l-24.2-1.8l-12.1-1.8l-12.1-3.2l-18.1-7.4l-18.1-9.3l-14.7-9.8l-10.6-9.1l-5.8-6l-6.7-9.1l-5-9l-5-12.1l-4.9-15.1l-6.7-24.2l-2.8-15.1l-1.1-12.1l-0.5-42.3l1.3-21.1l2.7-15.1l9.9-39.3l5.7-30.2l5.2-24.1z"/>
<path fill="#62be87" d="M187.9 -8l288 0l0 279.1l-9.1 0.8l-9 1.7l-15.2 4l-18.1 5.8l-15.1 5.9l-30.3 14.3l-23.6 8.6l-15.7 3.6l-15.1 1.2l-18.2-0.5l-24.2-1.7l-12.1-1.9l-12.1-3.3l-15.7-6.5l-17.5-8.8l-14.5-9.3l-10.9-9.1l-5.9-6l-6.9-9.1l-5.2-9l-5.2-12.1l-6-18.1l-6.6-24.2l-2.2-12.1l-1.2-15.1l-0.4-42.3l0.6-12.1l1.1-9l3.2-15.1l8.9-33.2l6.8-33.3l6.1-24.1z"/>
<path fill="#6abe83" d="M192.2 -8l283.7 0l0 276l-9.1 0.8l-9 1.7l-15.2 4.2l-18.1 5.9l-15.1 5.9l-30.3 14.6l-24.2 9.2l-15.1 3.6l-15.1 1.3l-18.2-0.4l-24.2-1.8l-12.1-1.9l-9-2.4l-15.2-6l-21.1-10.6l-12.1-7.7l-12.1-10.1l-7-7.4l-6.4-9.1l-4.9-9l-5-12.1l-7.7-24.2l-4.8-18.1l-2-12.1l-1-15.1l-0.3-39.3l0.7-12.1l1.2-9l3.2-15.1l8.6-30.2l8.2-36.3l7.2-24.1z"/>
<path fill="#72bf80" d="M197 -8l278.9 0l0 272.9l-15.1 1.9l-27.2 7.9l-21.2 7.8l-30.3 14.7l-21.4 8.9l-8.8 3l-9.1 2.4l-15.1 1.8l-18.1-0.2l-24.2-1.5l-12.1-1.7l-12.1-3.1l-16.4-6.7l-19.9-10.2l-12.2-7.9l-10.7-9.1l-8-9l-6-9.1l-5.5-10.9l-5.1-13.3l-7.6-24.1l-3.7-15.1l-1.8-12.1l-0.8-18.1l0-36.3l0.9-12.1l1.5-9l2.8-12.1l9-30.2l8.1-33.3l2.8-9.2l6.6-17.9z"/>
<path fill="#79bf7d" d="M202.3 -8l273.6 0l0 269.9l-15.1 2l-30.1 9l-21.3 8.2l-30.3 14.9l-21.2 9l-15.1 4.5l-15.1 1.9l-18.1-0.1l-24.2-1.5l-12.1-1.7l-9.1-2.2l-15.1-5.9l-21.2-10.5l-12.1-7.6l-12.1-10.1l-9.4-11l-3.9-6l-4.7-9.1l-6.2-15.2l-8.6-27.1l-3-12l-1.8-12.1l-0.7-12.1l-0.3-27.2l0.7-24.2l3.3-18.1l10.9-36.2l8.9-33.3l4.3-12l6.8-15.1z"/>
<path fill="#80bf7a" d="M208 -8l267.9 0l0 267.1l-9.1 0.9l-6 1.2l-30.3 9.1l-21.1 8.1l-31.5 15.7l-21 9l-14.1 4.4l-15.1 2l-18.1-0.1l-24.2-1.4l-12.1-1.7l-9.1-2.3l-15.1-6l-21.2-10.7l-12.9-8.3l-10.4-9.1l-5.4-6l-4.4-6.1l-6.8-12.1l-7.4-18.1l-8.7-27.2l-2.8-12.1l-1.5-12l-0.8-45.4l0.5-12l1.2-9.1l4.2-18.1l8.8-27.2l10.6-36.3l5-12l8-15.1z"/>
<path fill="#88bf77" d="M214.4 -8l261.5 0l0 264.4l-9.1 0.9l-9 1.9l-30.3 9.5l-18.1 7.1l-33.3 16.5l-21.2 9.4l-14.9 4.4l-12.3 1.5l-18.1-0.1l-24.2-1.4l-12.1-1.7l-9.1-2.3l-15.1-6.1l-21.2-10.9l-12.1-7.9l-9.1-7.9l-4.9-5.4l-4.6-6.1l-3.7-6l-4.7-9.1l-7.1-18.1l-8.8-27.2l-2.6-12.1l-1.2-12.1l-0.4-45.3l1.1-15.1l3.1-15.1l11-33.2l8.2-27.2l5.8-15.1l5-9.1l7.8-12l2.9-6.1z"/>
<path fill="#8ebf74" d="M221.6 -8l254.3 0l0 261.7l-9.1 1l-9 2l-32.6 10.2l-18.9 7.6l-30.2 15.3l-21.2 9.6l-12.1 4.1l-6 1.2l-9.1 1l-18.1-0.1l-24.2-1.3l-12.1-1.8l-9.1-2.4l-15.1-6.2l-21.2-10.9l-10.6-7.1l-10.2-9l-5.2-6.1l-4.2-6l-6.6-12.1l-8.4-21.1l-8.7-27.2l-1.9-9.1l-1.2-12.1l-0.4-48.3l1.6-15.1l2.8-12.1l21.3-63.4l3.9-9.1l3.6-6.6l3.6-5.5l9.6-12l3.6-6.1z"/>
<path fill="#95bf71" d="M230.1 -8l245.8 0l0 259.2l-9.1 1l-9 2l-33.3 10.4l-18.2 7.3l-31.8 16.1l-19.6 9.2l-7.8 2.9l-7.3 2l-12.1 1.6l-15.1 0.1l-24.2-1.2l-12.1-1.4l-9.1-2.1l-15.1-5.8l-21.2-10.7l-12.1-7.9l-9-7.9l-9.1-11.1l-7.4-13l-7.7-19l-9.7-29.3l-2-9.1l-1.3-12.1l-0.5-33.2l0.4-18.1l1.5-12.1l3.8-15.1l18-51.3l4.8-12.1l4.8-9.1l4.4-6.3l16.7-17.9z"/>
<path fill="#9cbf6f" d="M212.8 17.7l9.1-8.9l13.9-10.8l5.4-6l215.5 0l2.2 3l4.9 3.7l5.6 2.4l6.5 1.1l0 246.5l-9.1 1l-9 2.1l-38 12.1l-16.5 6.9l-48.4 24.1l-12.1 4.4l-12.1 2.2l-12.1 0.4l-24.2-0.8l-15.1-1.3l-9.1-1.8l-12.1-4.1l-18.1-8.6l-15.1-8.6l-9.1-6.8l-8.8-9.1l-6.3-8.8l-6.1-11.2l-5.5-13.2l-8.6-24.2l-3.5-12l-2.1-12.1l-0.8-18.1l0.2-39.3l1.6-12.1l2.1-9.1l3.9-12l18.8-50.5l6-12z"/>
<path fill="#a2be6c" d="M215.8 19.4l6.1-5.7l6-4.4l25.4-14.3l3.6-3l180.3 0l2 3l3 3l9.4 6.1l12.2 5.2l6.1 1.6l6 0.8l0 234.6l-6 0.6l-9.1 1.8l-39.3 12.1l-21.2 8.9l-48.4 24.2l-12.1 4l-12.1 1.8l-15.1 0.1l-24.2-1.1l-12.1-1.3l-9.1-2.2l-12.1-4.6l-18.1-9l-12.1-7.2l-9.1-7.1l-9.1-10l-3.8-5.5l-5.1-9.1l-6.6-15.1l-10.7-30.2l-3-12.1l-1.1-9l-0.7-39.3l0.3-12.1l0.8-9.1l1.6-9l3.4-12.1l20.9-54.4l6.4-12.1z"/>
<path fill="#a8be6a" d="M215.8 24.3l6.1-6.1l9-6.4l12.1-5.9l21-7.9l5.1-3l3-3l148.4 0l1.9 3l3 3l4.2 3.1l11.3 6l22.9 9.8l6.1 1.6l6 0.9l0 224.5l-6 0.6l-9.1 1.9l-27.9 8.4l-17.5 5.9l-18.1 7.9l-45.4 23l-12.1 4.2l-9.1 1.6l-12.1 0.5l-24.6-0.8l-14.7-1.2l-9.1-1.8l-12.1-4.2l-15.1-7.2l-15.1-8.6l-9.1-6.7l-6.6-6.6l-6.9-9l-6.8-12.1l-5.2-12.1l-8.9-24.2l-3.7-12l-2.2-12.1l-0.8-18.1l0.1-36.3l1.3-12.1l2-9l5-15.1l17.6-44l6.1-11.9z"/>
<path fill="#aebe67" d="M216.6 28.2l8.3-8.2l9-5.9l12.1-5.2l24.8-7.8l5.9-3.1l3.6-3l2-3l123.4 0l1.9 3l2.9 3l9.3 6.1l41 18.7l9.1 3.1l6 0.9l0 214.7l-6 0.6l-9.1 2l-45.4 14.3l-19.8 8.5l-43.7 22.3l-12.1 4.4l-9.1 1.6l-15.1 0.6l-24.2-0.9l-12.1-1l-9.1-1.8l-12.1-4.2l-12.1-5.7l-15.1-8.4l-9-6.4l-7-6.6l-7.3-9l-5.4-9.1l-5.6-12.1l-10.3-27.2l-3.7-12l-2.3-12.1l-0.7-12.1l0.1-42.3l1.3-12.1l2.1-9l5.1-15.1l16.2-39.3l6-12.1z"/>
<path fill="#b4bd65" d="M218 31.3l6.9-7.1l9-6.3l12.1-5.4l27.3-8l6-2.4l6.3-4.1l2.6-3l1.5-3l102.6 0l1.9 3l2.9 3l9.2 6.1l36.3 16.5l21.2 10.5l6.1 2.1l6 1l0 204.8l-9.1 1.3l-6 1.6l-49.8 15.9l-19.8 8.7l-41.9 21.5l-9.5 3.4l-9.1 1.7l-12.1 0.6l-27.2-0.8l-12.1-1l-9.1-1.8l-9-3l-12.1-5.4l-15.2-8.3l-9.5-6.5l-6.8-6.1l-7.5-9l-5.7-9.1l-5.7-12.1l-10.1-26.4l-4.1-12.8l-2.3-12.1l-0.7-12.1l0.1-42.3l0.9-9.4l2.6-11.7l5.3-15.1l16.3-38.4l6.1-11.6z"/>
<path fill="#babd63" d="M218.8 34.9l3.1-3.6l6-5.6l6-4.1l6.1-3.2l12.1-4.5l24.5-6.8l8.8-3.7l3.8-2.3l3.3-3.1l2.2-3l1.4-3l83.3 0l2 3l3 3l9.5 6.1l42.7 19.4l27.2 14.7l6.1 2.3l6 1.3l0 194.6l-12.1 2.2l-54.4 17.6l-21.2 9.3l-39.3 20.4l-9.1 3.2l-9.1 1.8l-12.1 0.6l-27.2-0.7l-12.1-1l-9.1-1.7l-9.3-3.1l-13-6l-14-7.9l-9-6.4l-6.1-5.5l-6.3-7.4l-5.9-9.1l-5.9-12.1l-10.4-27.2l-3.9-12l-2.3-12.1l-0.8-12.1l0.2-42.3l0.9-9.1l1.9-9l5.3-15.9l15.1-34.8l6.1-12.1z"/>
<path fill="#bfbc60" d="M367.6 -8l1.8 3l2.9 3l9.6 6.1l48.6 22l12.1 6.4l21.2 12.9l6.1 2.6l6 1.4l0 184.3l-6 0.8l-6.1 1.6l-57.5 19.1l-21.1 9.3l-33.3 17.6l-9.1 3.8l-6 1.8l-6.1 1l-9 0.6l-30.3-0.6l-15.1-1.3l-12.1-3.2l-12.1-5.2l-12.1-6.6l-9.1-5.7l-9-7.4l-6.1-6.6l-6-8.6l-5.6-10.5l-5.1-12l-6.9-18.2l-3.9-12l-1.9-9.1l-1-9.1l-0.3-33.2l0.6-18.1l1.9-12.1l3.6-12.1l9.5-22.6l9.1-19.8l4.6-8.9l4.4-6.8l4.4-5.3l4.7-4.6l6.1-4.5l6-3.4l9.1-3.8l28-7.9l11.3-4.3l6-3.7l3.1-2.7l3.3-4.4l1.3-3z"/>
<path fill="#c5bc5e" d="M356.9 -8l1.8 3l2.7 3l9 6.1l35.9 15.6l17.9 8.5l16.4 9.1l23.2 15.5l6.1 2.8l6 1.4l0 173.8l-9.1 1.7l-21.1 7.8l-44 14.5l-22.6 10.2l-30.2 16.1l-12.1 4.3l-6.1 1.1l-9 0.6l-27.3-0.4l-15.1-1l-12.1-2.6l-10.7-4.1l-11.7-6.1l-10.9-6.6l-9-7l-6.1-6.1l-5.7-7.5l-5.3-9l-4.3-9.1l-12.4-33.2l-2.3-9.1l-1.2-9l-0.6-18.2l0.4-33.2l1.2-10.1l2.6-11l3.2-9.1l5.1-12.1l10.3-21.9l5.9-11.3l3.8-6l4.8-6.1l3.6-3.6l6-4.8l6.1-3.7l9.1-4l9-3.1l24.2-6.6l10.6-4.4l9.2-6l2.9-3.1l3.5-6z"/>
<path fill="#cbbb5c" d="M345.5 -8l2.2 3l3.2 3l9.2 6.1l12.8 6l27.4 11.5l19.9 9.7l19.4 11.5l24.2 17.4l6.1 2.8l6 1.5l0 162.9l-9.1 2l-25.6 10.3l-28.8 9.2l-16.2 5.9l-19.9 9.1l-27.4 14.8l-12.1 4.4l-12.1 1.7l-18.2 0.1l-24.2-0.9l-12.1-2.1l-9-3l-12.1-5.9l-12.1-7.2l-9.1-6.6l-6-5.7l-6.1-7.4l-4.1-6.4l-5-9.6l-12.7-32.7l-2.6-9.1l-1.6-9l-0.8-15.1l0.1-33.3l0.9-12l1.6-9.1l2.7-9.1l4.8-12l16.7-34.5l4.9-7.8l4.2-5.4l9-8.4l9.1-5.6l9.1-3.9l30.2-8.8l12.1-4.6l6.1-3.1l8.2-5.5l5.9-6.1l1.8-3z"/>
<path fill="#d0bb59" d="M333.8 -3.1l6 2.3l23.1 10.9l31.3 13.1l16.6 8.1l10.9 6l11.9 7.4l30.2 22.6l6.1 2.8l6 1.4l0 151.7l-9.1 2.6l-16.1 7.8l-8.1 3.4l-36.3 11.9l-15.6 5.9l-17.6 8.2l-24.2 13.3l-12.1 4.5l-9.1 1.5l-15.1 0.4l-27.2-0.6l-12.1-1.6l-9.1-2.6l-11.1-5l-10.6-6l-11.6-8l-6-5.4l-6.1-6.8l-4.8-7l-4.9-9.1l-5.4-12.5l-7.7-20.7l-2.6-9.1l-1.7-9l-0.7-12.1l0-33.2l0.6-12.1l1.4-9.1l2.4-9l4.5-12.1l14.7-30.2l4.2-7.5l5.2-7.6l3.9-4.6l6-5.5l9.1-6l9.1-4.2l9.1-3.2l24.2-6.7l9-3.3l12-5.8l12.2-7l6.1-2.8l3-0.8z"/>
<path fill="#d5ba57" d="M475.9 78.3l0 139.5l-6 2l-13.2 7.8l-11.8 6l-11.3 4.4l-40.9 13.8l-19.6 8.7l-27.2 14.7l-9.1 3.3l-9.1 1.5l-15.1 0.4l-27.2-0.5l-12.1-1.5l-9.1-2.7l-15.1-7.3l-15.2-9.9l-9-8l-4.2-4.8l-4.9-6.9l-6-11.2l-7.5-18.1l-5.3-15.1l-2.9-12.1l-1-9.1l-0.2-12l0.2-30.3l0.9-12l2.6-12.1l4.3-12.1l6.9-15.1l9.5-18.1l4.6-7.5l6-8l6-5.9l8-5.8l13.2-6.4l36.3-11l27.2-11.5l9.1-1.9l6.1 0.3l9 2.3l9.1 3.4l36.3 15.2l15.1 7.3l12.1 6.8l12.1 7.7l33.3 25.8l6 3.4z"/>
<path fill="#dbba55" d="M475.9 85.1l0 124l-6 3.3l-10.5 9.2l-8.3 6l-8.5 4.4l-9 3.8l-33.3 11.1l-18.2 7l-12.1 5.7l-18.1 10.2l-9.1 4.3l-9 2.7l-12.1 1.3l-39.4-0.6l-12.1-2l-9-3.2l-15.2-8.2l-13.2-9.3l-9.3-9.1l-4.7-6l-3.8-6.1l-5.2-10.7l-7.8-19.5l-4-12l-2-9.1l-0.9-9.1l-0.3-12l0.3-30.3l1-12l2.6-12.1l4.3-12.1l6.8-14.4l9-16.7l6.1-9.4l6-7.3l7.3-6.6l7.8-5.1l8-3.9l7.2-2.8l30.2-8.8l27.2-10.2l9.1-1.5l9.1 0.8l9.1 2.4l9 3.4l30.3 12.9l15.1 7.5l12.1 7l11.1 7.4l37.3 29.5l6 3.5z"/>
<path fill="#e0ba52" d="M475.9 92.1l0 102.3l-3 1.9l-3 3l-10.9 16.2l-5.4 6.1l-7.9 5.9l-5.8 3.1l-14.8 6.1l-27.5 9l-15.9 6.1l-13 6l-19.8 11l-9.1 3.9l-6 1.7l-6.1 0.9l-15.1 0.5l-24.2-0.2l-9.1-0.6l-9.1-1.8l-9.1-3.3l-15.1-8.4l-13.3-9.7l-8.9-9.1l-4.5-6l-3.6-6.1l-5.7-12.1l-6.3-15.9l-3.7-11.2l-2-9.1l-1.1-12.1l0.4-42.3l1.3-12.1l3.2-12l4.8-12.1l6.2-12.6l9.1-15.7l6-8.7l6-6.8l6.1-5.3l9.1-5.9l6-2.9l9.1-3.5l27.2-7.9l27.2-9.3l9.1-1.2l6.1 0.3l6 1.1l9.1 2.7l12.1 4.9l24.2 10.7l15.1 8l10.9 6.8l10.3 7.3l39.3 31.9l9.1 5z"/>
<path fill="#e5b950" d="M475.9 99.9l0 74.2l-3 2l-3 3.3l-3.1 4.9l-10.3 25.2l-5.5 9l-6.5 6.1l-10.4 6l-9.6 4l-30.3 10.2l-15.1 5.8l-12.1 5.6l-21.1 11.6l-9.1 3.4l-6.1 1.3l-9 0.8l-33.3 0l-12.1-1.1l-9.1-2.2l-9.1-4l-12.1-7.2l-9.6-7l-8.5-7.7l-6.1-7.4l-7-12.1l-5.3-12.1l-5.7-15.1l-2.6-9.1l-1.7-9l-0.8-15.1l0.4-30.2l0.7-12.1l1.5-9.1l3.7-12.1l4.8-10.9l6-11.7l9.1-14.7l6-8.1l6.1-6.3l9-7.1l9.1-5.1l12.1-4.8l23.9-6.8l27.5-8.7l6.1-0.9l6-0.1l12.1 2.1l12.1 4.3l20.9 9.4l12.4 6l10.6 6.1l9.2 6l12 9.1l40.8 34.1l9.1 5.5z"/>
<path fill="#ebb94d" d="M339.8 20.3l12.1 3.9l12.1 5.4l21.2 10.4l12.1 7.2l11.6 8.2l18.4 15.1l17.6 15.1l18.9 17.5l6.1 4.2l6 2.4l0 44.4l-3 1.9l-3 2.9l-3.1 4.1l-3 5.7l-4 10.6l-7.9 27.2l-4.2 9l-5.1 6.1l-8.5 6l-13.4 6l-42.7 15.2l-11 5l-21.1 11.4l-6.1 2.6l-6 1.7l-12.1 1.4l-30.3 0l-12.1-0.6l-9.1-1.8l-9-3.5l-9.1-5l-11.9-8.2l-9.3-8l-6-6.7l-4.5-6.5l-4.6-8.6l-4.2-9.5l-7.7-21.1l-2-9.1l-0.7-6l-0.5-15.1l0.5-30.3l1.1-12l1.9-9.1l3-9.1l5.4-12l6.2-11.3l6.1-9.6l6-8.1l6.1-6.8l6-5.3l6-4.2l9.1-5l9.1-3.6l48.4-14.4l6.1-1.1l6-0.5l6.1 0.4z"/>
<path fill="#f0b94a" d="M342.8 24.5l9.1 3.2l7.9 3.6l18 9l10.7 6.1l17.2 12.1l25.1 21.1l19.2 18.1l12.6 15.1l3.9 6.1l2.6 6l0.4 3l-0.7 6.1l-12.5 33.2l-8.3 33.2l-2.9 9.1l-3 6l-2.1 3l-6.8 6.1l-5 3l-9.8 4.4l-42.3 15.3l-9.8 4.5l-20.4 10.9l-6.1 2.5l-6 1.8l-12.1 1.4l-30.3 0.1l-12.1-0.7l-9.1-1.8l-9-3.6l-9.1-5.2l-12.1-8.7l-9.1-8l-5.8-6.9l-4-6l-4.7-9.1l-5.2-12l-6.1-18.2l-1.2-6l-1-9.1l-0.1-18.1l0.7-27.2l0.9-9l2.3-10.2l3.1-8.6l5.3-11.4l6.8-11.8l6-8.9l6-7.6l6.1-6.4l6-5.1l6.1-4.1l9.1-4.8l9-3.5l45.4-12.9l12.1-1.5l6.1 0.4z"/>
<path fill="#f5ba47" d="M339.8 27l12.1 4.3l12.5 6l17.7 9.8l15.2 10.2l19.7 16.3l20 18.1l10.9 12.1l6.1 9l3.5 9.1l0.8 6l-0.4 6.1l-1.7 9l-8.2 30.2l-6.5 30.2l-3.3 9.1l-3.9 6l-3 3.1l-6.8 4.6l-9.1 4.4l-42.3 15.7l-27.2 13.8l-6.1 2.6l-9.1 2.4l-15.1 0.9l-30.2-0.2l-9.1-1l-6.1-1.4l-9-3.8l-8.3-4.8l-9.9-7.1l-9.4-8l-5.7-6.2l-6-8.9l-9.1-19.5l-5.7-16.8l-1.2-6l-1-9.1l0.5-42.3l1.2-12l2-9.1l3.2-9.1l4.2-9l5.9-10.4l6-9l6-7.6l6.1-6.6l6.3-5.7l8.6-6l6.3-3.4l9-3.6l42.4-12l9.1-1.7l6-0.3l6.1 0.4z"/>
<path fill="#f9bb43" d="M339.8 30.4l10.9 3.9l12.1 6l19.3 11.4l12.1 8.5l19.7 16.4l16.2 15.1l10.8 12.1l5.7 9l2.5 6.1l1.2 6l0.2 6l-0.5 6.1l-8.1 36.2l-4.7 24.2l-2.3 9.1l-2.4 6l-4 6l-3.2 3.1l-6.9 4.5l-9.6 4.5l-35.7 13.3l-27.2 13.6l-9.1 3.6l-12.1 2.1l-27.2 0.2l-15.2-0.4l-6-0.8l-6.1-1.6l-9-3.9l-8.2-4.9l-10-7.3l-9.1-7.9l-6-7l-5.1-8l-4.6-9.1l-5.1-12.1l-4.6-15.1l-1.7-15.1l0.9-42.3l1.1-9l2.1-9.1l3.3-9.1l4.3-9l9.4-15l6-7.8l6.8-7.4l6.5-6.1l8.3-6l8.7-4.7l9.1-3.5l39.3-10.7l9.1-1.5l6-0.3l6.1 0.5z"/>
<path fill="#fdbd3e" d="M339.8 33.8l9.1 3.3l12.2 6.3l19.6 12l13.5 10l16.7 14.2l12.6 12.1l10.6 12.1l5.6 9l2.3 6.1l1.2 6l0.3 6l-0.5 6.1l-10.8 57.4l-3 12.1l-2.5 6l-2.2 3.6l-5.3 5.5l-4.4 3l-12.8 6l-32 12.3l-24.1 12l-9.1 3.6l-12.1 2.1l-27.2 0.1l-15.2-0.5l-6-0.8l-5.9-1.6l-9.2-4.1l-8-4.9l-10.2-7.7l-9.1-8.2l-4.4-5.3l-4.6-6.9l-5.8-11.2l-3.9-9.1l-4.6-15.1l-1.7-15.1l0.1-21.1l0.9-21.2l1.1-9l2.2-9.1l2.6-7.2l3.7-7.9l5.4-9.2l6-8.5l6.1-7.3l7.9-8.2l7.1-6.1l6.1-4.2l9.1-4.8l8.4-3l37-9.7l9.1-1.5l6-0.2l6.1 0.6z"/>
<path fill="#fec13a" d="M339.8 37.3l9.1 3.5l12.1 6.5l18.1 11.9l15.1 11.3l13.9 12.1l11.9 12.1l7.5 9.1l5.5 9l2.3 6.1l1.2 6l-0.1 12.1l-9.3 54.4l-3.6 15.1l-2.6 6l-2.5 3.6l-5.6 5.5l-4.6 3l-13.1 6l-25.1 9.9l-24.1 11.9l-9.1 3.4l-12.1 2.1l-27.2 0.1l-15.2-0.7l-6-0.9l-5.9-1.6l-6.9-3l-9.8-6.1l-10.7-8.1l-7.5-7l-5.1-6l-5.5-8.7l-4.8-9.4l-3.8-9.1l-2.9-9.1l-1.3-6l-1.2-15.1l1.2-39.3l1.2-9l2.3-9.1l3.2-8.4l3.4-6.7l5.7-9.3l6-8l6.1-6.9l9.1-8.8l6-4.9l6.1-4l6.5-3.4l8.6-3.3l36.3-9.2l9.1-1.3l6-0.2l6.1 0.6z"/>
<path fill="#ffc436" d="M337.6 40.3l8.7 3.1l11.2 6l18.6 12.5l15.6 11.7l11.6 10.2l10.6 10.9l7.3 9.1l5.3 9l2.3 6.1l1.2 6l0 12.1l-7.3 48.3l-3.9 18.1l-2.3 6.1l-3.6 6l-2.8 3l-6.8 4.9l-8.1 4.2l-25.2 10.4l-21.1 10.3l-9.1 3.9l-9.1 2.4l-12.1 0.8l-30.8-0.6l-8.5-0.9l-6-1.4l-6.1-2.2l-9.1-5l-9-6.5l-9.7-8.2l-5.6-6l-5.9-8.3l-5.3-9.8l-3.8-8.5l-3.9-12.7l-1.1-6l-0.7-9.1l1.1-39.3l0.9-9l2-9.1l2-6l4.2-9.1l4.6-7.7l6-8.3l7.2-8.1l8-7.9l6-5.1l7.6-5.2l7.5-3.8l9.1-3.3l30.3-7.5l15.1-2l6 0.3z"/>
<path fill="#fec733" d="M336.8 43.8l9.1 3.2l9 5l33.3 23.8l9.1 7.8l8.1 8.1l7.6 9l5.9 9.1l2.7 6l1.7 6.1l0.7 12.1l-1.4 15.1l-6.2 42.3l-2.2 9l-2.1 6.1l-3.1 6l-5.4 6l-4 3.1l-11.4 6l-18.2 7.8l-21.1 10.3l-9.1 3.9l-6 1.7l-6.1 1l-12.1 0.4l-30.2-1.2l-12.1-2.2l-8.4-3.6l-6.8-4l-9-6.6l-9.1-8l-5-5.5l-4.5-6.1l-5.6-9.6l-3.9-8.5l-2.2-6l-2.3-9.1l-1.2-15.1l1.2-36.3l1-9l2.1-9.1l2.3-6.3l4.3-8.8l4.7-7.5l5.9-7.6l6.2-6.9l8.5-8.2l6.6-5.4l6.1-4l6-3.1l9.1-3.5l30.3-7.4l15.1-1.8l6 0.3z"/>
<path fill="#fdcb30" d="M336.8 47.6l9.1 3.5l7.6 4.3l22.6 16.2l12.1 9.3l8.6 7.8l8.3 9l6.3 9.1l3.2 6l2.1 6.1l1.1 6l0 15.1l-4.4 39.3l-2.1 12.1l-2.5 9l-2.4 6.1l-3.5 6l-5.6 5.8l-4.6 3.3l-5.3 3l-38.5 18.5l-9.1 3.8l-6 1.7l-6.1 0.9l-12.1 0.4l-27.2-1.3l-9.1-1.2l-6-1.6l-7.3-3.1l-7.9-4.7l-9-6.8l-7.4-6.6l-5.5-6.1l-5.3-7.2l-4.5-7.9l-4.1-9l-2.8-9.1l-1.1-6l-0.8-15.1l1.3-33.3l1.1-9l2.3-9.1l2.6-6.8l4.3-8.3l4.7-7l6.1-7.5l6.2-6.6l8.9-8.2l12.1-8.3l6.1-2.9l9-3.2l27.3-6.4l15.1-1.6l6 0.4z"/>
<path fill="#fcce2d" d="M321.7 49.9l9 0.4l8.6 2.1l6.7 3l8.9 5.5l24.2 17.8l9.1 7.4l11.3 11.6l6.4 9.1l3.1 6l2.1 6.1l1.1 6l0.4 6l-1.7 27.2l-2 18.2l-1.9 12l-2.4 9.1l-2.3 6l-3.3 6.1l-5.1 6l-5.7 4.4l-7.9 4.7l-34.4 17.2l-12.1 4l-12.1 1.3l-27.3-1.2l-15.1-2l-9.1-2.9l-6-3.1l-6.7-4.3l-8.4-6.5l-6.1-5.6l-6-6.7l-6.1-8.6l-4.7-8.8l-4.3-12.4l-1.1-5.7l-0.8-9.1l1-33.2l0.9-9.8l1.4-8.3l1.7-6.1l2.9-7l3-5.6l5.8-8.5l12.4-13.8l12.1-10.2l9-5.5l12.1-4.6l21.4-5.2z"/>
<path fill="#fad22b" d="M321.7 53.9l9 0.5l6.1 1.4l6.5 2.7l8.6 5l22 16.1l11.2 9.1l8.9 9l6.6 9.1l3.1 6l2.1 6.1l1.1 6l0.4 6l-1.6 30.3l-2.9 24.1l-2.3 9.1l-2.3 6l-3.1 6.1l-4.7 6l-5.2 4.6l-6.5 4.5l-29.8 16l-12.1 4.7l-6.1 1.2l-6 0.6l-21.2-0.6l-21.2-2.5l-9-2.6l-6.1-2.8l-8.2-5l-7.8-6l-8.2-7.6l-6-7.1l-6.1-9.1l-3-5.9l-2.5-6.6l-1.6-6l-1.3-12.1l0.9-30.2l2-18.1l3.8-12.1l3-6l4.8-7.6l5.9-7.5l5.6-6.1l12.7-10.9l9-5.6l12.1-4.8l24.2-5.6z"/>
<path fill="#f9d528" d="M321.7 58.1l9 0.6l6.1 1.5l6 2.5l9.1 5.4l19.5 14.5l10.7 8.9l6.3 6.2l6.9 9.1l3.1 6l2.1 6.1l1.2 6l0.4 6l-1.4 33.3l-1.1 12.1l-1.5 9l-2.6 9.1l-2.6 6l-3.7 6.1l-5.3 6l-12.1 9.1l-15.3 9l-10.6 5.4l-12.1 4.1l-12.1 1.1l-21.2-1.2l-18.2-2.7l-9-2.9l-6.1-2.9l-6.4-3.9l-8.7-6.6l-6.1-5.6l-6-6.6l-6-8.4l-3.3-6l-2.5-6.1l-1.7-6l-1.3-12.1l0.8-27.2l1-12.1l1.4-9l4-12.1l3.2-6l4.4-6.7l6-7.4l6.1-6.3l12.1-9.9l9.1-5l12.1-4.2l21.1-4.5z"/>
<path fill="#f7d925" d="M318.6 62.7l6.1-0.1l6 0.6l6.1 1.6l6 2.6l12.1 7.5l21.3 16.8l9.1 9l6.4 9.1l3.6 9.1l1.2 6l0.5 6l-0.7 27.2l-1.8 21.2l-3.3 12.9l-2.3 5.2l-3.6 6l-5 6.1l-6.7 6l-8.3 6.1l-9.5 6l-9.9 5.3l-6.1 2.4l-6 1.7l-9.1 1.1l-18.2-0.8l-21.1-3.2l-12.1-3.8l-12.1-6.8l-6.1-4.5l-7.3-6.5l-5.6-6l-5.2-7l-4.5-8.1l-2.2-6.1l-1.5-6l-0.8-9.1l0.9-27.2l1.1-12.1l1.6-9l2.3-7.8l3.1-6.5l4.2-6.9l4.8-6.4l6.1-6.6l6-5.6l7.6-5.5l7.6-4.1l9-3.3l9.1-2.3l15.1-2.8z"/>
<path fill="#f6dc23" d="M318.6 67.2l6.1 0l6 0.6l6.1 1.6l6 2.6l12.1 7.7l15 12l9.5 9l6.7 9.1l3.9 9.1l1.3 6l0.5 6l-0.5 27.2l-1.2 18.2l-2.7 12l-2.4 6.1l-2.9 4.9l-5.5 7.2l-6.1 6l-7.3 6l-8.7 6.1l-8.6 4.9l-6.1 2.6l-6 1.7l-9.1 1.1l-18.2-1.1l-21.1-3.7l-12.1-4.1l-12.1-6.9l-12.1-10.1l-5.2-5.6l-4.5-6l-3.5-6l-2.5-6.1l-1.5-6l-0.9-9.1l1-27.2l1.2-12.1l1.7-9l1.9-6.1l3.2-7l3-5.1l6.1-8.1l6-6.4l6.1-5.3l6.2-4.3l8.9-4.4l9.1-2.7l21.1-4z"/>
<path fill="#f5e020" d="M276.3 79.4l6-2l9.1-2l24.2-3.3l12.1-0.1l9.1 2.1l6 2.6l6.1 3.6l9 6.6l9.2 7.8l6.1 6l5.1 6.1l5.2 9l1.8 6.1l0.9 6l0.2 21.2l-0.9 24.1l-1.5 9.1l-1.9 6l-2.9 6.1l-3.1 4.8l-9 10.3l-12.2 10.4l-6 4.1l-6.1 3.2l-6 2.3l-6.1 1.4l-12.1 0.5l-9-0.8l-12.1-1.9l-18.2-4.7l-12.1-5.6l-12.1-8.5l-9.4-9.5l-4.4-6l-3.2-6.1l-2.2-6l-1.2-6l-0.5-12.1l2.1-30.2l1.5-9.1l1.6-6l2.4-6.1l3.2-6l4.1-6.1l5.2-6l9.9-8.8l6-3.8z"/>
<path fill="#f5e51d" d="M279.3 82.6l15.1-3.3l21.2-2.6l12.1 0.1l9.1 2l6 2.7l6.1 3.7l11.9 9.5l6.2 6l5.2 6.1l5.4 9l2.6 9.1l0.8 15.1l-0.6 30.2l-1.2 9.1l-1.6 6l-4.5 9.2l-4.3 5.9l-5.3 6.1l-6.1 6l-7.4 6l-10.2 5.9l-6 2l-6.1 1.1l-12.1-0.2l-21.2-3.5l-9-2.3l-9.1-3.1l-12.1-6.3l-9.1-6.9l-4.9-4.8l-4.2-5.1l-3-4.8l-2.4-5.2l-2.4-9l-0.5-15.1l2.2-27.2l1.6-9.1l1.7-6l2.5-6.1l3.4-6l4.4-6.1l4.6-5.1l9.1-7.3l6.1-3.4z"/>
<path fill="#f5e91a" d="M276.3 88.1l12.1-3.2l24.2-3.1l12.1-0.4l9.1 1.3l9 3.8l6.1 3.8l6 4.9l5.9 5.5l5.2 6.1l5.5 9l2.7 9.1l0.9 12.1l-0.5 33.2l-0.6 6.1l-1.4 6l-3.9 9.1l-4.1 6l-4.9 6l-10.8 10.4l-9.1 5.9l-9.1 3l-6 0.6l-6.1 0l-15.1-2l-21.2-5.2l-12.1-5l-9-5.6l-9-8.1l-6.3-9.1l-3.4-9l-1.2-12.1l1.7-27.2l1.2-9.1l2-9l2.1-6.1l3.1-6l6.7-9l9.1-7.9z"/>
<path fill="#f5ee16" d="M273.3 94.1l9-3.2l15.2-2.5l21.1-2l6.1 0l6 0.7l9.1 3l9.1 5.8l8.3 7.9l6.6 9l3.6 9.1l1.3 9l0.1 33.3l-0.5 9l-1.1 6.1l-3.4 9l-5.8 9.1l-9.1 9.9l-9.1 6.8l-3 1.5l-6.1 2l-9 0.9l-15.2-1.5l-21.1-4.7l-12.1-4.2l-9.1-5.1l-9.1-7.9l-4.9-6.8l-3.7-9l-1.1-6.1l-0.3-6l1.5-24.2l2.8-18.1l3.2-9.1l5.5-9l6.1-6.5z"/>
<path fill="#f6f313" d="M276.3 97.8l6-1.9l6.1-1.2l18.1-2.1l15.2-1l9 0.8l7.1 2.3l8.1 5l7.3 7.1l4.3 6l3.7 9.1l1.3 9l0 33.3l-1.1 12.1l-2.8 9l-5.4 9.1l-7.3 8.3l-4.6 3.8l-4.5 2.8l-9.1 3.1l-9.1 0.5l-15.1-1.6l-21.2-4.5l-9-3.3l-9.1-5.3l-6.1-5.6l-5-7.3l-3.1-9l-0.8-12.1l1.9-24.2l2.7-15.1l3.5-9.1l3.9-6.2l6-6.3l3.5-2.6z"/>
<path fill="#f8f810" d="M276.3 103.5l6-2l9.1-1.6l24.2-2.3l12.1 0.1l6.1 1.4l6 3l6 4.7l4.9 6l1.7 3l2.3 6.1l1.4 9l-0.1 27.2l-0.9 15.1l-2.3 9.1l-3 6l-7 8.9l-6 4.8l-3 1.7l-6.1 2.1l-9.1 1l-12.1-0.7l-18.1-2.7l-9.1-2.3l-9.1-4l-7.5-5.7l-4.8-6.1l-2.7-6l-0.8-3l-0.9-9.1l1.4-21.1l2.9-18.2l3.2-9l3.7-6.1l5.5-5.6z"/></g>
</g>
<path d="M1003.80 553.80v-16.00M1003.80 86.50v16.00M1003.80 553.80h16.00M1471.70 553.80h-16.00M1120.77 553.80v-16.00M1120.77 86.50v16.00M1003.80 436.98h16.00M1471.70 436.98h-16.00M1237.75 553.80v-16.00M1237.75 86.50v16.00M1003.80 320.15h16.00M1471.70 320.15h-16.00M1354.72 553.80v-16.00M1354.72 86.50v16.00M1003.80 203.32h16.00M1471.70 203.32h-16.00M1471.70 553.80v-16.00M1471.70 86.50v16.00M1003.80 86.50h16.00M1471.70 86.50h-16.00" stroke="#a0a0a0" stroke-opacity="0.75" stroke-width="0.90" fill="none"/>
<rect x="1003.80" y="86.50" width="467.90" height="467.30" fill="none" stroke="#000" stroke-width="1.30"/>
<g clip-path="url(#mclipb)" fill="none" stroke="#000" stroke-width="1.3">
<path d="M1047.8 104.5l11.2 11.2m0 -11.2l-11.2 11.2M1082.8 106.1l11.2 11.2m0 -11.2l-11.2 11.2M1112.8 143.9l11.2 11.2m0 -11.2l-11.2 11.2M1174.1 133.3l11.2 11.2m0 -11.2l-11.2 11.2M1165.4 173.4l11.2 11.2m0 -11.2l-11.2 11.2M1089.4 179.6l11.2 11.2m0 -11.2l-11.2 11.2M1163.6 190.9l11.2 11.2m0 -11.2l-11.2 11.2M1050.8 203.2l11.2 11.2m0 -11.2l-11.2 11.2M1071.9 209.4l11.2 11.2m0 -11.2l-11.2 11.2M1038.9 214.3l11.2 11.2m0 -11.2l-11.2 11.2M1026.5 222.3l11.2 11.2m0 -11.2l-11.2 11.2M1222.9 214.7l11.2 11.2m0 -11.2l-11.2 11.2M1157.7 247.0l11.2 11.2m0 -11.2l-11.2 11.2M1159.9 259.9l11.2 11.2m0 -11.2l-11.2 11.2M1036.6 256.7l11.2 11.2m0 -11.2l-11.2 11.2M1009.6 280.7l11.2 11.2m0 -11.2l-11.2 11.2M1029.8 299.5l11.2 11.2m0 -11.2l-11.2 11.2M1160.1 303.6l11.2 11.2m0 -11.2l-11.2 11.2M1174.1 310.7l11.2 11.2m0 -11.2l-11.2 11.2M1184.7 309.8l11.2 11.2m0 -11.2l-11.2 11.2M1230.6 97.4l11.2 11.2m0 -11.2l-11.2 11.2M1258.1 109.1l11.2 11.2m0 -11.2l-11.2 11.2M1294.2 107.5l11.2 11.2m0 -11.2l-11.2 11.2M1246.9 136.3l11.2 11.2m0 -11.2l-11.2 11.2M1280.0 133.3l11.2 11.2m0 -11.2l-11.2 11.2M1336.3 132.7l11.2 11.2m0 -11.2l-11.2 11.2M1311.9 158.8l11.2 11.2m0 -11.2l-11.2 11.2M1465.1 183.8l11.2 11.2m0 -11.2l-11.2 11.2M1371.3 212.6l11.2 11.2m0 -11.2l-11.2 11.2M1400.9 255.3l11.2 11.2m0 -11.2l-11.2 11.2M1450.9 263.8l11.2 11.2m0 -11.2l-11.2 11.2M1329.2 282.6l11.2 11.2m0 -11.2l-11.2 11.2M1242.5 287.8l11.2 11.2m0 -11.2l-11.2 11.2M1440.7 299.1l11.2 11.2m0 -11.2l-11.2 11.2M1052.4 345.3l11.2 11.2m0 -11.2l-11.2 11.2M1116.0 344.0l11.2 11.2m0 -11.2l-11.2 11.2M1004.1 371.5l11.2 11.2m0 -11.2l-11.2 11.2M1217.1 387.3l11.2 11.2m0 -11.2l-11.2 11.2M1212.8 407.2l11.2 11.2m0 -11.2l-11.2 11.2M1053.6 406.8l11.2 11.2m0 -11.2l-11.2 11.2M1064.8 408.8l11.2 11.2m0 -11.2l-11.2 11.2M1100.5 408.6l11.2 11.2m0 -11.2l-11.2 11.2M1011.5 457.4l11.2 11.2m0 -11.2l-11.2 11.2M1112.8 465.7l11.2 11.2m0 -11.2l-11.2 11.2M1132.7 457.8l11.2 11.2m0 -11.2l-11.2 11.2M1196.8 470.9l11.2 11.2m0 -11.2l-11.2 11.2M1031.3 481.9l11.2 11.2m0 -11.2l-11.2 11.2M1096.1 505.1l11.2 11.2m0 -11.2l-11.2 11.2M1085.1 511.0l11.2 11.2m0 -11.2l-11.2 11.2M1022.6 516.8l11.2 11.2m0 -11.2l-11.2 11.2M1173.2 522.7l11.2 11.2m0 -11.2l-11.2 11.2M1008.9 538.7l11.2 11.2m0 -11.2l-11.2 11.2M1255.3 323.1l11.2 11.2m0 -11.2l-11.2 11.2M1274.8 321.1l11.2 11.2m0 -11.2l-11.2 11.2M1458.5 358.4l11.2 11.2m0 -11.2l-11.2 11.2M1463.5 363.5l11.2 11.2m0 -11.2l-11.2 11.2M1288.1 491.3l11.2 11.2m0 -11.2l-11.2 11.2M1272.9 501.6l11.2 11.2m0 -11.2l-11.2 11.2M1320.8 501.0l11.2 11.2m0 -11.2l-11.2 11.2M1432.2 491.3l11.2 11.2m0 -11.2l-11.2 11.2M1419.6 510.8l11.2 11.2m0 -11.2l-11.2 11.2M1244.3 532.3l11.2 11.2m0 -11.2l-11.2 11.2M1415.2 533.2l11.2 11.2m0 -11.2l-11.2 11.2M1369.5 545.6l11.2 11.2m0 -11.2l-11.2 11.2"/>
<circle cx="1094.8" cy="128.6" r="7.7"/>
<circle cx="1157.5" cy="121.5" r="7.7"/>
<circle cx="1217.5" cy="104.3" r="7.7"/>
<circle cx="1139.7" cy="152.7" r="7.7"/>
<circle cx="1139.0" cy="193.1" r="7.7"/>
<circle cx="1115.7" cy="209.6" r="7.7"/>
<circle cx="1171.9" cy="205.6" r="7.7"/>
<circle cx="1034.0" cy="209.3" r="7.7"/>
<circle cx="1207.8" cy="250.1" r="7.7"/>
<circle cx="1222.1" cy="264.8" r="7.7"/>
<circle cx="1126.9" cy="270.5" r="7.7"/>
<circle cx="1039.9" cy="276.2" r="7.7"/>
<circle cx="1160.9" cy="289.8" r="7.7"/>
<circle cx="1296.2" cy="88.1" r="7.7"/>
<circle cx="1364.3" cy="89.9" r="7.7"/>
<circle cx="1294.8" cy="115.4" r="7.7"/>
<circle cx="1334.8" cy="112.6" r="7.7"/>
<circle cx="1391.3" cy="127.7" r="7.7"/>
<circle cx="1285.6" cy="160.7" r="7.7"/>
<circle cx="1242.6" cy="195.6" r="7.7"/>
<circle cx="1320.0" cy="197.4" r="7.7"/>
<circle cx="1416.3" cy="185.3" r="7.7"/>
<circle cx="1428.9" cy="192.1" r="7.7"/>
<circle cx="1406.9" cy="210.0" r="7.7"/>
<circle cx="1378.8" cy="245.1" r="7.7"/>
<circle cx="1387.2" cy="260.6" r="7.7"/>
<circle cx="1441.2" cy="245.1" r="7.7"/>
<circle cx="1463.6" cy="254.9" r="7.7"/>
<circle cx="1321.1" cy="272.3" r="7.7"/>
<circle cx="1324.3" cy="270.5" r="7.7"/>
<circle cx="1361.4" cy="275.1" r="7.7"/>
<circle cx="1411.9" cy="277.6" r="7.7"/>
<circle cx="1272.6" cy="289.5" r="7.7"/>
<circle cx="1367.3" cy="301.9" r="7.7"/>
<circle cx="1040.4" cy="328.9" r="7.7"/>
<circle cx="1047.7" cy="357.6" r="7.7"/>
<circle cx="1015.0" cy="365.8" r="7.7"/>
<circle cx="1007.9" cy="405.2" r="7.7"/>
<circle cx="1113.6" cy="398.2" r="7.7"/>
<circle cx="1010.9" cy="449.3" r="7.7"/>
<circle cx="1094.1" cy="466.2" r="7.7"/>
<circle cx="1132.3" cy="457.3" r="7.7"/>
<circle cx="1045.2" cy="495.3" r="7.7"/>
<circle cx="1086.8" cy="499.9" r="7.7"/>
<circle cx="1102.4" cy="498.8" r="7.7"/>
<circle cx="1199.9" cy="499.2" r="7.7"/>
<circle cx="1103.5" cy="528.8" r="7.7"/>
<circle cx="1163.3" cy="533.3" r="7.7"/>
<circle cx="1042.0" cy="546.9" r="7.7"/>
<circle cx="1055.9" cy="551.2" r="7.7"/>
<circle cx="1271.0" cy="364.2" r="7.7"/>
<circle cx="1285.7" cy="369.9" r="7.7"/>
<circle cx="1323.0" cy="361.0" r="7.7"/>
<circle cx="1380.2" cy="350.7" r="7.7"/>
<circle cx="1382.6" cy="357.3" r="7.7"/>
<circle cx="1277.6" cy="403.4" r="7.7"/>
<circle cx="1355.9" cy="420.2" r="7.7"/>
<circle cx="1266.0" cy="443.8" r="7.7"/>
<circle cx="1466.1" cy="440.8" r="7.7"/>
<circle cx="1317.9" cy="470.1" r="7.7"/>
<circle cx="1326.6" cy="490.7" r="7.7"/>
<circle cx="1369.6" cy="501.9" r="7.7"/>
<circle cx="1415.4" cy="498.0" r="7.7"/>
<circle cx="1293.7" cy="550.8" r="7.7"/>
<rect x="1145.9" y="109.9" width="23.2" height="23.2"/>
</g>
<text transform="scale(1.100 1)" x="992.80 1012.92 1035.40 1048.92 1070.11 1092.60 1106.92 1118.27 1138.99 1158.22 1172.10 1183.57 1202.55 1222.74 1239.66" y="40.30" font-size="40.40">output variance</text>
<text><tspan x="956.13" y="606.17" font-size="59.34" style="stroke-width:1.38px">−</tspan><tspan x="988.99 1010.44 1031.89" y="597.20" font-size="42.60">200</tspan></text>
<text><tspan x="892.27" y="576.07" font-size="59.34" style="stroke-width:1.38px">−</tspan><tspan x="925.13 946.58 968.03" y="567.10" font-size="42.60">200</tspan></text>
<text><tspan x="1073.11" y="606.17" font-size="59.34" style="stroke-width:1.38px">−</tspan><tspan x="1105.96 1127.41 1148.86" y="597.20" font-size="42.60">100</tspan></text>
<text><tspan x="892.27" y="459.25" font-size="59.34" style="stroke-width:1.38px">−</tspan><tspan x="925.13 946.58 968.03" y="450.28" font-size="42.60">100</tspan></text>
<text x="1228.10" y="597.20" font-size="42.60">0</text>
<text x="968.02" y="333.45" font-size="42.60">0</text>
<text x="1323.62 1345.08 1366.53" y="597.20" font-size="42.60">100</text>
<text x="925.12 946.58 968.03" y="216.62" font-size="42.60">100</text>
<text x="1440.60 1462.05 1483.50" y="597.20" font-size="42.60">200</text>
<text x="925.12 946.58 968.03" y="99.80" font-size="42.60">200</text>
<text><tspan x="1217.31" y="647.60" font-size="45.00" font-style="italic" style="stroke-width:0.5px">μ</tspan><tspan x="1242.36" y="654.00" font-size="31.42">1</tspan></text>
<linearGradient id="cgb" x1="0" y1="1" x2="0" y2="0"><stop offset="0" stop-color="#352a87"/><stop offset="1" stop-color="#f9fb0e"/></linearGradient><rect x="1551.00" y="86.50" width="55.30" height="467.30" fill="url(#cgb)"/>
<text x="1621.37 1643.39 1654.75" y="568.40" font-size="42.60">0.0</text>
<text x="1621.37 1643.39 1654.75" y="516.48" font-size="42.60">0.2</text>
<text x="1621.37 1643.39 1654.75" y="464.56" font-size="42.60">0.4</text>
<text x="1621.37 1643.39 1654.75" y="412.63" font-size="42.60">0.6</text>
<text x="1621.37 1643.39 1654.75" y="360.71" font-size="42.60">0.8</text>
<text x="1621.37 1643.39 1654.75" y="308.79" font-size="42.60">1.0</text>
<text x="1621.37 1643.39 1654.75" y="256.87" font-size="42.60">1.2</text>
<text x="1621.37 1643.39 1654.75" y="204.94" font-size="42.60">1.4</text>
<text x="1621.37 1643.39 1654.75" y="153.02" font-size="42.60">1.6</text>
<text x="1621.37 1643.39 1654.75" y="101.10" font-size="42.60">1.8</text>
<path d="M1551.00 553.80h16.00M1606.30 553.80h-16.00M1551.00 501.88h16.00M1606.30 501.88h-16.00M1551.00 449.96h16.00M1606.30 449.96h-16.00M1551.00 398.03h16.00M1606.30 398.03h-16.00M1551.00 346.11h16.00M1606.30 346.11h-16.00M1551.00 294.19h16.00M1606.30 294.19h-16.00M1551.00 242.27h16.00M1606.30 242.27h-16.00M1551.00 190.34h16.00M1606.30 190.34h-16.00M1551.00 138.42h16.00M1606.30 138.42h-16.00M1551.00 86.50h16.00M1606.30 86.50h-16.00" stroke="#a0a0a0" stroke-opacity="0.8" stroke-width="0.90" fill="none"/>
<rect x="1551.00" y="86.50" width="55.30" height="467.30" fill="none" stroke="#000" stroke-width="1.30"/>
<text><tspan x="1493.24 1506.37 1527.82" y="73.10" font-size="42.60">·10</tspan><tspan x="1549.35" y="65.59" font-size="48.07" style="stroke-width:1.29px">−</tspan><tspan x="1576.06" y="57.14" font-size="32.80">9</tspan></text>
</g>
<g id="plot-c">
<g transform="translate(185.80 755.90)" clip-path="url(#clipc)">
<rect x="-8" y="-8" width="497.0" height="496.7" fill="#352a87"/>
<path fill="#363aa7" d="M-8 -8l497 0l0 496.7l-434.1 0l-1.8-6.2l-5.7-9.3l-33.7-37.8l-6.2-6.5l-6.2-5l-3.1-1.8l-6.2-2.1z"/>
<path fill="#2b4bc7" d="M-8 -8l497 0l0 496.7l-403.8 0l-2.2-6.2l-1.8-3.1l-5-6.2l-34.5-33.9l-31.1-34.4l-6.2-5.6l-6.2-3.6l-6.2-1.8z"/>
<path fill="#0860df" d="M-8 -8l497 0l0 496.7l-363.8 0l-1.5-3.1l-5.3-6.2l-30.1-24l-34.2-31l-12.7-13.3l-21.4-25l-9.4-9.4l-9.3-6.6l-3.1-1.4l-6.2-1.5z"/>
<path fill="#056de0" d="M-8 -8l497 0l0 496.7l-313.6 0l-2.2-3.1l-3.4-3.1l-4.5-3.1l-33.5-16.7l-15.6-9.9l-12.8-10.7l-40-36.7l-11.9-12.9l-23-28l-24.1-26.4l-6.2-5.9l-6.2-3.7z"/>
<path fill="#0f77db" d="M-8 -8l497 0l0 496.7l-247.5 0l-3.8-3.1l-13-6.2l-55.6-18.6l-18.7-7.8l-12.4-6.5l-9.3-6.2l-9.3-7.5l-41.8-40.3l-11.4-12.5l-20.2-24.8l-17.1-18.6l-7-9.3l-3.5-6.2l-3.6-9.3l-5.2-21.8l-7-34.1l-2.9-18.7l-0.8-12.4l0.3-27.9l-0.8-9.3l-3-9.3l-3.4-4.7z"/>
<path fill="#1481d6" d="M-8 -8l497 0l0 496.7l-146.4 0l-4.3-3.1l-6.9-3.1l-10.1-3.1l-29.8-6.2l-41.7-6.9l-18.6-3.8l-24.9-6.1l-21.7-6.7l-19.4-7.6l-18.4-9.3l-13.6-9.3l-13.8-12.6l-34.2-35l-22.9-26.9l-17.2-18.6l-6.8-9.3l-3.1-6.2l-2.1-6.3l-2.2-9.3l-3.1-18.6l-3.5-31l-0.8-21.8l0.9-34.1l-0.9-12.4l-2.1-12.5l-5.8-24.8l-2.9-15.5l-2.9-24.8l-3.9-43.5l-2.2-15.5l-2.4-10.5l-3.1-7.8l-3.1-4.6l-3.1-2.6z"/>
<path fill="#118cd2" d="M26.2 -8l462.8 0l0 486.2l-55.9-0.6l-24.9-2.2l-139.7-21.1l-21.8-3.9l-21.7-4.8l-18.7-5.1l-18.6-6l-15.5-6.4l-12.5-6.2l-12.4-7.5l-9.3-6.9l-9.3-8.3l-34.2-35.6l-32.6-36.3l-4.5-6.2l-3.4-6.2l-2.3-6.3l-1.6-6.2l-4-24.8l-2.7-27.9l-0.9-21.8l0.1-31l-0.9-14.3l-2.2-13.7l-7.9-37.2l-3.9-27.9l-2.3-21.8l-0.9-15.5l-0.1-18.6z"/>
<path fill="#0899d1" d="M48.2 -8l440.8 0l0 466.3l-62.1 0.5l-21.8-1.2l-31-2.8l-62.2-8.3l-40.3-6.3l-31.1-6.3l-28-7.4l-18.6-6.2l-15.5-6.6l-15.6-8.3l-12.4-8l-10.3-8l-11.4-10.6l-40.3-42.2l-8.2-9.3l-6.4-9.3l-4-9.4l-2.3-9.3l-2.3-15.5l-2.3-21.7l-5.8-77.6l-2.2-15.6l-7.2-37.2l-5.2-37.3l-2.1-24.8l0.2-18.6l1.6-15.5l5-31.1z"/>
<path fill="#06a3cb" d="M64.9 -8l424.1 0l0 448.4l-59 1.6l-31.1-1l-27.9-1.7l-46.6-5.4l-34.2-5.1l-28.2-5.3l-30.8-7.6l-18.7-5.6l-18.6-7.2l-15.5-7.5l-15.6-9.3l-12.4-8.7l-12.4-10.3l-34-33.8l-8-9.3l-4.2-6.2l-4.2-9.4l-2.4-9.3l-2.8-18.6l-5.2-49.7l-14.7-96.2l-5.4-40.4l-1.9-21.7l0-18.6l1.9-15.5l6.3-31.1z"/>
<path fill="#07aac1" d="M78.9 -8l410.1 0l0 431l-55.9 2.5l-40.4-0.5l-21.7-0.8l-34.2-3.4l-24.9-3.1l-27.9-4.7l-24.9-5.5l-21.7-5.9l-18.6-6.1l-18.7-7.7l-15.5-7.8l-18.7-11.2l-15.5-10.9l-15.5-12.7l-15.4-14.8l-7.7-9.3l-3.7-6.2l-3.8-9.4l-2.3-9.3l-2.5-15.5l-5.1-43.5l-2.4-12.4l-6.4-24.8l-2.4-12.4l-6.1-40.4l-5.5-43.4l-2.8-28l-0.4-12.4l0.4-9.3l2.1-15.5l6.5-31.1z"/>
<path fill="#14b0b5" d="M91.7 -8l397.3 0l0 414.5l-49.7 3.4l-65.2-0.4l-21.8-1.7l-27.9-3.1l-21.8-3.5l-21.7-4.4l-21.8-5.3l-21.7-6.5l-15.5-5.7l-15.6-6.7l-21.7-11.2l-21.8-12.9l-15.5-10.9l-11.8-10.3l-5.4-6.2l-4.1-6.2l-3.1-6.3l-3-9.3l-3-15.5l-6.4-46.6l-3-12.4l-7.5-21.7l-2.7-9.3l-3.6-18.6l-4-28l-6.7-55.9l-1.7-27.9l0.4-9.3l1.1-9.3l7-34.2l1.3-9.3z"/>
<path fill="#27b5a8" d="M103.7 -8l385.3 0l0 399.1l-9.3 0.6l-24.9 3.2l-15.5 1l-55.9-0.5l-18.6-1l-21.8-2.4l-21.7-3l-18.7-3.6l-24.8-5.6l-24.9-6.6l-18.6-5.9l-15.5-6.1l-21.8-10l-21.9-11.5l-14.5-9.3l-10.7-9.3l-5.1-6.2l-3.6-6.3l-4.6-12.4l-3.4-15.5l-4.7-31l-3-15.6l-3.8-12.4l-7.9-18.6l-3.1-9.3l-3.4-15.5l-3.4-21.8l-8-65.2l-1.3-15.5l-0.4-12.4l1-15.5l6.9-37.3z"/>
<path fill="#3fba99" d="M114.8 -8l374.2 0l0 384.5l-9.3 0.9l-31.1 4.9l-12.4 0.8l-12.4 0l-31.1-1.1l-21.7-1.4l-24.9-3l-24.8-4l-24.9-5.2l-34.2-8.2l-18.6-5.1l-15.5-5.2l-21.8-9l-18.6-9.3l-12-7.4l-9.8-8.6l-3.2-3.8l-4.1-6.3l-5.2-12.4l-4.1-15.5l-5.9-31l-2.9-12.5l-4.3-12.4l-11-24.8l-3.4-12.4l-2.8-15.6l-9.6-74.5l-2.1-27.9l0.8-18.6l5.5-37.3z"/>
<path fill="#5cbe8a" d="M125.7 -8l363.3 0l0 370.3l-9.3 1l-28 5.8l-9.3 1l-12.4 0.5l-21.8-0.9l-31-2.4l-40.4-5.4l-24.9-4.6l-43.4-9.4l-18.7-4.6l-15.5-4.6l-15.5-5.9l-15.6-7.5l-11.8-7.3l-7.4-6.2l-5.4-6.3l-3.3-4.9l-6.2-13.2l-4.1-12.9l-10.3-40.4l-4.7-12.4l-7.8-15.5l-3.9-9.3l-2.8-9.3l-1.9-9.3l-3.3-21.8l-7.3-59l-2.4-27.9l0.2-18.6l4-40.4z"/>
<path fill="#7abf7c" d="M137.5 -8l351.5 0l0 356.5l-12.4 1.6l-18.7 4.5l-9.3 1.7l-18.6 1.3l-18.7-0.7l-27.9-2.2l-43.5-5.3l-24.9-4.1l-34.1-7l-21.8-4.9l-15.5-4.3l-13.6-4.9l-11.2-5.4l-11.2-7l-7.2-6.3l-5.6-6.2l-4-5.6l-6.8-13l-4.7-12.4l-11.1-34.2l-3.9-9.3l-12.6-24.8l-2.3-6.2l-2.3-9.3l-4.6-31.1l-6.8-59l-1.8-21.7l-0.1-21.7l3.2-43.5z"/>
<path fill="#95bf71" d="M152.1 -8l336.9 0l0 343.2l-12.4 1.4l-30.3 6.2l-19.4 1.3l-18.7-0.4l-27.9-1.7l-46.6-5.1l-21.8-3.7l-27.6-5.9l-18.9-4.7l-15.6-4.6l-12.4-5l-8.3-4.4l-8.9-6.2l-6.8-6.2l-7.5-9.3l-7.2-12.4l-18.4-43.5l-17.2-31l-2.3-6.2l-2.4-9.3l-2.5-15.6l-2.2-18.6l-5.7-59l-1.4-21.7l0.5-24.8l4.4-40.4z"/>
<path fill="#adbe68" d="M170.8 -8l318.2 0l0 329.7l-12.4 1.1l-34.2 6l-24.8 1.6l-21.8 0.1l-18.6-0.8l-21.8-1.7l-21.7-2.5l-15.5-2.6l-15.6-3.6l-24.8-6.8l-15.6-5.1l-12.3-5l-9.4-4.8l-9.3-6.2l-6.2-5.6l-6.2-7.2l-6.3-9.4l-18.5-38.2l-5.5-9.3l-12.4-18.6l-4.2-9.3l-3.1-12.4l-2.8-18.7l-2.2-21.7l-4-52.8l-0.8-24.8l0.4-12.4l1.6-12.4l2.5-12.5l5.6-21.7z"/>
<path fill="#c3bc5f" d="M190.3 -8l298.7 0l0 314.5l-12.4 1.1l-40.4 6.4l-34.2 2.8l-15.5 0.3l-15.5-0.5l-34.2-3.3l-12.4-2.2l-15.6-4.1l-22.5-7.7l-17.8-6.7l-12.5-5.5l-9.3-4.9l-9.3-6.5l-6.2-5.9l-3.9-4.6l-5.4-7.9l-17.7-32.5l-15.4-21.7l-3.6-6.2l-4.3-12.4l-3.4-18.7l-2.4-21.7l-2.2-34.1l-1.4-34.2l0.2-18.6l1.1-9.3l2.1-9.3l3.5-10.4l8.7-20.7l1.8-6.2z"/>
<path fill="#d8ba56" d="M206.8 -8l282.2 0l0 297.8l-12.4 1l-52.8 8l-28 2.8l-24.8 0l-31.1-3.1l-12.4-2.3l-12.5-3.7l-14.5-5.6l-28.6-12.4l-12.8-6.1l-9.3-5.4l-6.2-4.5l-6.2-5.8l-9.3-12l-13.7-22.1l-12.9-18.6l-3.4-6.2l-3.5-9.3l-2.5-9.3l-4.2-24.9l-1.5-18.6l-1.2-59l0.7-15.5l1.7-9.3l2-6.2l10-21.8l3.8-9.3l2.4-9.3z"/>
<path fill="#ecb94c" d="M222.9 -8l266.1 0l0 280l-12.4 1.1l-28 4.9l-21.7 3.2l-31.1 3.5l-12.4 0.5l-12.4-0.4l-15.6-1.4l-15.5-2.2l-12.4-2.8l-12.5-4.4l-43.4-21.8l-10.5-5.6l-8.2-5.3l-6.2-4.9l-6.2-6.1l-6.2-7.5l-9.6-13.5l-6-9.3l-4.7-9.3l-4.5-12.4l-3.4-12.5l-2.9-15l-1.3-12.9l-0.5-15.5l0.4-24.9l1.1-24.8l1.3-12.4l3.1-12.4l8.4-21.8l3.9-12.4l2.5-12.4z"/>
<path fill="#fdbe3e" d="M245.9 -8l243.1 0l0 259.6l-12.4 1.4l-24.9 5.4l-15.5 2.7l-37.3 4.9l-12.4 0.7l-12.4-0.3l-12.5-1.1l-12.4-1.8l-18.6-4.3l-8.8-3.3l-6.8-3.3l-49.6-29.1l-9.4-6.8l-7.8-7.4l-5.2-6.2l-5.9-9.3l-4.5-9.3l-4.5-12.1l-3.1-10.3l-2.7-11.8l-1.3-9.3l-0.7-12.4l1.2-24.8l3.6-24.9l6.2-27.9l12.7-46.6z"/>
<path fill="#fdcb30" d="M295 -8l194 0l0 230l-6.2 0.8l-6.2 1.7l-28 9.9l-11 2.8l-16.9 3.4l-15.6 2.5l-12.4 1.2l-12.4 0.2l-12.4-1l-12.5-2l-12.4-2.8l-9.3-2.8l-9.3-3.9l-9.4-5.2l-32.7-20.6l-8.2-6.2l-6.3-6.2l-5.6-7.2l-6.7-11.4l-5.6-12.5l-3.1-9.3l-2.6-12.4l-0.9-9.3l0.1-9.3l1.2-12.4l3.3-18.7l6.3-27.9l3.3-12.4l3.3-9.3l4.6-9.5l6.1-9.2l14.7-15.5l5-6.2l1.7-3.1z"/>
<path fill="#f7d826" d="M456.5 -8l1.2 9.3l1.7 6.2l4.1 9.3l3.8 6l5.6 6.5l3.7 3l6.2 3.3l6.2 1.5l0 117.9l-6.2 2l-3.1 1.6l-28 22l-18.6 11.5l-21.8 10.3l-9.3 3.2l-9.3 2l-9.3 0.7l-12.4-0.7l-18.7-3l-15.5-3.6l-9.3-3.2l-9.3-4.6l-9.4-5.7l-9.3-7l-11.9-11.6l-4.8-6.2l-3.9-6.2l-3-6.2l-2.1-6.2l-2.2-12.4l-0.2-9.3l1.1-12.4l4.5-24.9l3.2-12.4l3.1-9.3l2.9-6.2l4.1-6.2l6-6.2l6.3-5l28-17.8l12.4-9.4l4.9-5.1l4.3-6.2l1.4-3.1l1.6-6.2z"/>
<path d="M363.3 95.9h21.3v22.2z" fill="#f5e71b"/>
<rect x="0" y="0" width="481.00" height="480.70" fill="url(#tex)"/>
</g>
<path d="M185.80 1236.60v-16.43M185.80 755.90v16.43M185.80 1236.60h16.43M666.80 1236.60h-16.43M306.05 1236.60v-16.43M306.05 755.90v16.43M185.80 1116.42h16.43M666.80 1116.42h-16.43M426.30 1236.60v-16.43M426.30 755.90v16.43M185.80 996.25h16.43M666.80 996.25h-16.43M546.55 1236.60v-16.43M546.55 755.90v16.43M185.80 876.07h16.43M666.80 876.07h-16.43M666.80 1236.60v-16.43M666.80 755.90v16.43M185.80 755.90h16.43M666.80 755.90h-16.43" stroke="#a0a0a0" stroke-opacity="0.75" stroke-width="0.92" fill="none"/>
<rect x="185.80" y="755.90" width="481.00" height="480.70" fill="none" stroke="#000" stroke-width="1.33"/>
<g clip-path="url(#mclipc)" fill="none" stroke="#000" stroke-width="1.3">
<path d="M231.2 774.6l11.2 11.2m0 -11.2l-11.2 11.2M267.1 776.2l11.2 11.2m0 -11.2l-11.2 11.2M298.0 815.1l11.2 11.2m0 -11.2l-11.2 11.2M361.0 804.2l11.2 11.2m0 -11.2l-11.2 11.2M352.1 845.4l11.2 11.2m0 -11.2l-11.2 11.2M273.9 851.8l11.2 11.2m0 -11.2l-11.2 11.2M350.2 863.5l11.2 11.2m0 -11.2l-11.2 11.2M234.3 876.1l11.2 11.2m0 -11.2l-11.2 11.2M256.0 882.5l11.2 11.2m0 -11.2l-11.2 11.2M222.0 887.6l11.2 11.2m0 -11.2l-11.2 11.2M209.3 895.8l11.2 11.2m0 -11.2l-11.2 11.2M411.2 887.9l11.2 11.2m0 -11.2l-11.2 11.2M344.2 921.1l11.2 11.2m0 -11.2l-11.2 11.2M346.4 934.5l11.2 11.2m0 -11.2l-11.2 11.2M219.7 931.2l11.2 11.2m0 -11.2l-11.2 11.2M191.9 955.8l11.2 11.2m0 -11.2l-11.2 11.2M212.7 975.2l11.2 11.2m0 -11.2l-11.2 11.2M346.6 979.4l11.2 11.2m0 -11.2l-11.2 11.2M361.0 986.7l11.2 11.2m0 -11.2l-11.2 11.2M372.0 985.8l11.2 11.2m0 -11.2l-11.2 11.2M419.1 767.3l11.2 11.2m0 -11.2l-11.2 11.2M447.4 779.3l11.2 11.2m0 -11.2l-11.2 11.2M484.5 777.7l11.2 11.2m0 -11.2l-11.2 11.2M435.9 807.3l11.2 11.2m0 -11.2l-11.2 11.2M469.9 804.2l11.2 11.2m0 -11.2l-11.2 11.2M527.7 803.6l11.2 11.2m0 -11.2l-11.2 11.2M502.7 830.4l11.2 11.2m0 -11.2l-11.2 11.2M660.1 856.2l11.2 11.2m0 -11.2l-11.2 11.2M563.7 885.7l11.2 11.2m0 -11.2l-11.2 11.2M594.2 929.7l11.2 11.2m0 -11.2l-11.2 11.2M645.5 938.5l11.2 11.2m0 -11.2l-11.2 11.2M520.4 957.8l11.2 11.2m0 -11.2l-11.2 11.2M431.3 963.1l11.2 11.2m0 -11.2l-11.2 11.2M635.1 974.8l11.2 11.2m0 -11.2l-11.2 11.2M235.9 1022.3l11.2 11.2m0 -11.2l-11.2 11.2M301.3 1021.0l11.2 11.2m0 -11.2l-11.2 11.2M186.2 1049.3l11.2 11.2m0 -11.2l-11.2 11.2M405.2 1065.5l11.2 11.2m0 -11.2l-11.2 11.2M400.8 1085.9l11.2 11.2m0 -11.2l-11.2 11.2M237.2 1085.6l11.2 11.2m0 -11.2l-11.2 11.2M248.7 1087.6l11.2 11.2m0 -11.2l-11.2 11.2M285.4 1087.4l11.2 11.2m0 -11.2l-11.2 11.2M193.9 1137.6l11.2 11.2m0 -11.2l-11.2 11.2M298.0 1146.2l11.2 11.2m0 -11.2l-11.2 11.2M318.5 1138.0l11.2 11.2m0 -11.2l-11.2 11.2M384.4 1151.5l11.2 11.2m0 -11.2l-11.2 11.2M214.2 1162.8l11.2 11.2m0 -11.2l-11.2 11.2M280.8 1186.7l11.2 11.2m0 -11.2l-11.2 11.2M269.5 1192.7l11.2 11.2m0 -11.2l-11.2 11.2M205.2 1198.7l11.2 11.2m0 -11.2l-11.2 11.2M360.1 1204.8l11.2 11.2m0 -11.2l-11.2 11.2M191.2 1221.2l11.2 11.2m0 -11.2l-11.2 11.2M444.5 999.4l11.2 11.2m0 -11.2l-11.2 11.2M464.6 997.4l11.2 11.2m0 -11.2l-11.2 11.2M653.4 1035.8l11.2 11.2m0 -11.2l-11.2 11.2M658.5 1041.1l11.2 11.2m0 -11.2l-11.2 11.2M478.3 1172.5l11.2 11.2m0 -11.2l-11.2 11.2M462.5 1183.0l11.2 11.2m0 -11.2l-11.2 11.2M511.9 1182.5l11.2 11.2m0 -11.2l-11.2 11.2M626.4 1172.5l11.2 11.2m0 -11.2l-11.2 11.2M613.4 1192.5l11.2 11.2m0 -11.2l-11.2 11.2M433.1 1214.6l11.2 11.2m0 -11.2l-11.2 11.2M608.8 1215.5l11.2 11.2m0 -11.2l-11.2 11.2M561.9 1228.3l11.2 11.2m0 -11.2l-11.2 11.2"/>
<circle cx="279.3" cy="799.2" r="7.7"/>
<circle cx="343.8" cy="791.9" r="7.7"/>
<circle cx="405.5" cy="774.2" r="7.7"/>
<circle cx="325.5" cy="824.0" r="7.7"/>
<circle cx="324.8" cy="865.6" r="7.7"/>
<circle cx="300.9" cy="882.6" r="7.7"/>
<circle cx="358.6" cy="878.4" r="7.7"/>
<circle cx="216.9" cy="882.2" r="7.7"/>
<circle cx="395.5" cy="924.2" r="7.7"/>
<circle cx="410.3" cy="939.3" r="7.7"/>
<circle cx="312.4" cy="945.2" r="7.7"/>
<circle cx="222.9" cy="951.0" r="7.7"/>
<circle cx="347.3" cy="965.1" r="7.7"/>
<circle cx="486.4" cy="757.6" r="7.7"/>
<circle cx="556.4" cy="759.4" r="7.7"/>
<circle cx="484.9" cy="785.7" r="7.7"/>
<circle cx="526.0" cy="782.7" r="7.7"/>
<circle cx="584.1" cy="798.3" r="7.7"/>
<circle cx="475.5" cy="832.2" r="7.7"/>
<circle cx="431.3" cy="868.2" r="7.7"/>
<circle cx="510.9" cy="870.0" r="7.7"/>
<circle cx="609.9" cy="857.6" r="7.7"/>
<circle cx="622.8" cy="864.5" r="7.7"/>
<circle cx="600.2" cy="882.9" r="7.7"/>
<circle cx="571.3" cy="919.1" r="7.7"/>
<circle cx="579.9" cy="935.0" r="7.7"/>
<circle cx="635.4" cy="919.1" r="7.7"/>
<circle cx="658.4" cy="929.1" r="7.7"/>
<circle cx="512.0" cy="947.0" r="7.7"/>
<circle cx="515.3" cy="945.2" r="7.7"/>
<circle cx="553.4" cy="949.9" r="7.7"/>
<circle cx="605.3" cy="952.5" r="7.7"/>
<circle cx="462.1" cy="964.7" r="7.7"/>
<circle cx="559.5" cy="977.5" r="7.7"/>
<circle cx="223.4" cy="1005.2" r="7.7"/>
<circle cx="230.9" cy="1034.8" r="7.7"/>
<circle cx="197.3" cy="1043.2" r="7.7"/>
<circle cx="190.0" cy="1083.7" r="7.7"/>
<circle cx="298.7" cy="1076.6" r="7.7"/>
<circle cx="193.1" cy="1129.1" r="7.7"/>
<circle cx="278.6" cy="1146.5" r="7.7"/>
<circle cx="317.9" cy="1137.4" r="7.7"/>
<circle cx="228.4" cy="1176.4" r="7.7"/>
<circle cx="271.1" cy="1181.2" r="7.7"/>
<circle cx="287.2" cy="1180.1" r="7.7"/>
<circle cx="387.4" cy="1180.4" r="7.7"/>
<circle cx="288.3" cy="1210.9" r="7.7"/>
<circle cx="349.8" cy="1215.5" r="7.7"/>
<circle cx="225.1" cy="1229.5" r="7.7"/>
<circle cx="239.3" cy="1233.9" r="7.7"/>
<circle cx="460.5" cy="1041.5" r="7.7"/>
<circle cx="475.6" cy="1047.4" r="7.7"/>
<circle cx="514.0" cy="1038.3" r="7.7"/>
<circle cx="572.8" cy="1027.7" r="7.7"/>
<circle cx="575.2" cy="1034.4" r="7.7"/>
<circle cx="467.2" cy="1081.9" r="7.7"/>
<circle cx="547.8" cy="1099.2" r="7.7"/>
<circle cx="455.4" cy="1123.5" r="7.7"/>
<circle cx="661.0" cy="1120.4" r="7.7"/>
<circle cx="508.7" cy="1150.5" r="7.7"/>
<circle cx="517.6" cy="1171.7" r="7.7"/>
<circle cx="561.8" cy="1183.2" r="7.7"/>
<circle cx="608.9" cy="1179.1" r="7.7"/>
<circle cx="483.9" cy="1233.5" r="7.7"/>
<rect x="332.2" y="780.3" width="23.2" height="23.2"/>
</g>
<text transform="scale(1.100 1)" x="222.12 243.10 266.47 280.63 302.72 326.09 341.01 352.42 370.56 392.09 413.11 430.75 450.74 464.95 486.05 499.30 510.14 531.12" y="708.47" font-size="41.48">output expectation</text>
<text><tspan x="136.86" y="1290.37" font-size="60.92" style="stroke-width:1.42px">−</tspan><tspan x="170.59 192.62 214.64" y="1281.16" font-size="43.74">200</tspan></text>
<text><tspan x="71.29" y="1259.47" font-size="60.92" style="stroke-width:1.42px">−</tspan><tspan x="105.02 127.05 149.07" y="1250.26" font-size="43.74">200</tspan></text>
<text><tspan x="257.11" y="1290.37" font-size="60.92" style="stroke-width:1.42px">−</tspan><tspan x="290.84 312.87 334.89" y="1281.16" font-size="43.74">100</tspan></text>
<text><tspan x="71.29" y="1139.29" font-size="60.92" style="stroke-width:1.42px">−</tspan><tspan x="105.02 127.05 149.07" y="1130.08" font-size="43.74">100</tspan></text>
<text x="416.39" y="1281.16" font-size="43.74">0</text>
<text x="149.07" y="1009.91" font-size="43.74">0</text>
<text x="514.62 536.64 558.67" y="1281.16" font-size="43.74">100</text>
<text x="105.02 127.05 149.07" y="889.73" font-size="43.74">100</text>
<text x="634.87 656.89 678.92" y="1281.16" font-size="43.74">200</text>
<text x="105.02 127.05 149.07" y="769.56" font-size="43.74">200</text>
<text><tspan x="405.31" y="1332.91" font-size="46.20" font-style="italic" style="stroke-width:0.5px">μ</tspan><tspan x="431.03" y="1339.48" font-size="32.26">1</tspan></text>
<g transform="translate(31.28 997.28) rotate(-90)"><text><tspan x="-19.96" y="0.00" font-size="46.20" font-style="italic" style="stroke-width:0.5px">μ</tspan><tspan x="5.76" y="6.57" font-size="32.26">2</tspan></text></g>
<rect x="748.72" y="1217.81" width="56.78" height="19.09" fill="#5d559f"/>
<rect x="748.72" y="1199.32" width="56.78" height="19.09" fill="#5e61b8"/>
<rect x="748.72" y="1180.83" width="56.78" height="19.09" fill="#556fd2"/>
<rect x="748.72" y="1162.35" width="56.78" height="19.09" fill="#3a80e6"/>
<rect x="748.72" y="1143.86" width="56.78" height="19.09" fill="#378ae6"/>
<rect x="748.72" y="1125.37" width="56.78" height="19.09" fill="#3f92e2"/>
<rect x="748.72" y="1106.88" width="56.78" height="19.09" fill="#439ade"/>
<rect x="748.72" y="1088.39" width="56.78" height="19.09" fill="#41a3db"/>
<rect x="748.72" y="1069.90" width="56.78" height="19.09" fill="#3aadda"/>
<rect x="748.72" y="1051.42" width="56.78" height="19.09" fill="#38b5d5"/>
<rect x="748.72" y="1032.93" width="56.78" height="19.09" fill="#39bbcd"/>
<rect x="748.72" y="1014.44" width="56.78" height="19.09" fill="#43c0c4"/>
<rect x="748.72" y="995.95" width="56.78" height="19.09" fill="#52c4b9"/>
<rect x="748.72" y="977.46" width="56.78" height="19.09" fill="#66c8ae"/>
<rect x="748.72" y="958.97" width="56.78" height="19.09" fill="#7dcba1"/>
<rect x="748.72" y="940.48" width="56.78" height="19.09" fill="#95cc97"/>
<rect x="748.72" y="922.00" width="56.78" height="19.09" fill="#aacc8e"/>
<rect x="748.72" y="903.51" width="56.78" height="19.09" fill="#bdcb86"/>
<rect x="748.72" y="885.02" width="56.78" height="19.09" fill="#cfc97f"/>
<rect x="748.72" y="866.53" width="56.78" height="19.09" fill="#e0c878"/>
<rect x="748.72" y="848.04" width="56.78" height="19.09" fill="#f0c770"/>
<rect x="748.72" y="829.55" width="56.78" height="19.09" fill="#fdcb64"/>
<rect x="748.72" y="811.07" width="56.78" height="19.09" fill="#fdd55a"/>
<rect x="748.72" y="792.58" width="56.78" height="19.09" fill="#f9e051"/>
<rect x="748.72" y="774.09" width="56.78" height="19.09" fill="#f7ec48"/>
<rect x="748.72" y="755.60" width="56.78" height="19.09" fill="#fafc3e"/>
<rect x="748.72" y="755.90" width="56.78" height="480.70" fill="url(#texh)"/>
<text x="820.97 843.57 855.24" y="1251.59" font-size="43.74">1.2</text>
<text x="820.97 843.57 855.24" y="1177.64" font-size="43.74">1.4</text>
<text x="820.97 843.57 855.24" y="1103.68" font-size="43.74">1.6</text>
<text x="820.97 843.57 855.24" y="1029.73" font-size="43.74">1.8</text>
<text x="820.97 843.57 855.24" y="955.77" font-size="43.74">2.0</text>
<text x="820.97 843.57 855.24" y="881.82" font-size="43.74">2.2</text>
<text x="820.97 843.57 855.24" y="807.87" font-size="43.74">2.4</text>
<path d="M748.72 1236.60h16.43M805.50 1236.60h-16.43M748.72 1162.65h16.43M805.50 1162.65h-16.43M748.72 1088.69h16.43M805.50 1088.69h-16.43M748.72 1014.74h16.43M805.50 1014.74h-16.43M748.72 940.78h16.43M805.50 940.78h-16.43M748.72 866.83h16.43M805.50 866.83h-16.43M748.72 792.88h16.43M805.50 792.88h-16.43" stroke="#a0a0a0" stroke-opacity="0.8" stroke-width="0.92" fill="none"/>
<rect x="748.72" y="755.90" width="56.78" height="480.70" fill="none" stroke="#000" stroke-width="1.33"/>
<text><tspan x="689.41 702.89 724.91" y="742.14" font-size="43.74">·10</tspan><tspan x="747.03" y="734.43" font-size="49.36" style="stroke-width:1.33px">−</tspan><tspan x="774.44" y="725.76" font-size="33.68">4</tspan></text>
</g>
<g id="plot-d">
<g transform="translate(998.90 757.00)" clip-path="url(#clipd)">
<rect x="-8" y="-8" width="496.0" height="495.6" fill="#352a87"/>
<path fill="#3342b6" d="M25.4 -8l462.6 0l0 456.7l-8.3 0l-39.2 11.2l-39.3 12l-16.3 7.4l-0.5 2.1l0 6.2l-266.9 0l0-6.2l-0.4-2.1l-9.4-6.9l-12.4-7.1l-8.2-5.8l-8.2-7l-8.4-8.6l-41.3-27.5l-0.8-1.1l-3-16.5l-2.5-10.3l-8.2-7.9l-14.4-12.4l-8.3-0.2l0-265l6.2 0l2.1-0.5l5.1-11.4l5.9-16.5l4.8-18.6l3.7-18.6l5.6-37.1z"/>
<path fill="#0a5fdf" d="M84 -8l404 0l0 404.4l-8.3 0.1l-70.2 11l-44.4 7.8l-3.2 1.2l-1.2 0.9l-4 6.2l-3 3.8l-4.2 4l-4.1 3.2l-8.3 4.7l-13.1 4.9l-11.7 9.8l-9.6 6.8l-9 5.3l-12.4 6.3l-12.1 6.9l-0.4 2.1l0 6.2l-61.6 0l-0.4-8.3l-24.7-19.1l-26.2-18l-13-10.6l-25.2-24.5l-6.7-8.3l-6.4-10.3l-19.6-8.2l-6.2-4l-4.1-3.7l-4.2-4.7l-2.8-4.2l-3.3-6.2l-4.2-9.6l-8.3-6l-5.8-5l-5.7-6.2l-4.6-6.2l-5.9-10.4l-6.2-14.4l-6.6-8.3l-4.3-6.2l-8.1-14.4l-1.9-2.1l-2.5-1.7l-8.3-0.2l0-56.1l8.3-0.1l3.4-1.8l7.5-16.5l3.5-6.1l4.3-6.3l4.9-14.4l2.8-6.2l3.4-6.2l3.2-4.8l4.8-5.6l5.6-5l7.7-5.3l1.1-2l5.2-16.6l4.6-12.4l6.2-13.6l7.1-13.2l0.5-2.1l3.3-35.1l4.6-37.1z"/>
<path fill="#0971de" d="M120.4 -8l294.9 0l0.1 8.3l4.4 6.6l2.1 2.2l28.2 24.2l29.6 24l8.3 0.2l0 305l-8.3 0.1l-16.5 4.4l-18.6 4.3l-43.4 8.4l-22.7 3.6l-40.5 5.2l-21.5 15.1l-20.7 12.8l-45.5 23.2l-2-0.1l-20.7-8.9l-16.5-7.8l-12.4-6.5l-2.1-1.5l-10.6-9.8l-16.3-16.5l-18.6-7.6l-31-14.8l-25.6-12.7l-7.4-4.1l-2.1-1.5l-8.7-23.3l-4.7-10.4l-4.4-8.2l-7.3-12.4l-4.1-6.2l-6.7-8.3l-8.3-8.2l-0.9-2.1l2.6-8.2l3.6-8.3l-3.9-2.1l-21.3-8.8l-18.6-9.8l0.4-2l12-4.1l8.2-4.2l5.9-4.1l4.5-4.2l3.2-4.1l3-6.5l4.2-10l4.3-12.4l4.9-8.2l5.2-7.6l8.3-9.8l9.7-9.5l7.8-6.2l10-6.2l1.2-2l4.4-16.4l4.1-12.9l5.6-14.1l6.1-12.4l0.4-2.1l4.4-67.3z"/>
<path fill="#1480d6" d="M143.7 -8l213.5 0l0.1 8.3l2.6 7.4l9.5 15.3l8.1 14.4l7.4 14.5l10.1 21.8l8.3 4.6l22.7 11.5l53.7 26.3l8.3 0.1l0 221.8l-8.3 0.1l-58.3 9.1l-8.6 2l-15.7 5.2l-18.6 5.1l-18.6 4.3l-20.7 4l-14.5 6.4l-12.4 4.7l-31 9.6l-13.6 8.2l-15.3 7.5l-2.1-0.2l-2-1l-4.2-3.2l-5.2-5.1l-4.7-6.2l-21.1-4.5l-12.4-3.2l-8.2-2.7l-8.3-3.9l-8.3-5.3l-12.4-6.2l-12-7.3l-10.7-7.6l-8.3-5l-12.4-10.7l-6.2-6.8l-6.2-8.3l-5.4-9.1l-4-8.2l0-28.9l-3.1-2.1l-8.1-3.2l-5.1-3l-5.3-4.5l-4.5-5.8l-0.7-22.7l0.4-49.6l6.9-9.6l8-9l32.7-28.9l6.9-18.6l6.1-13.8l7-13l8.1-12.4l0.3-2.1l-3.2-51.6l-1-20.6z"/>
<path fill="#0e91d2" d="M169.1 -8l156 0l0.1 8.3l1.6 5.1l6.4 25.8l6 21.1l7.1 20.2l1.3 2.1l10.2 8.5l18.6 18.5l12.4 13.9l12 14.9l3.7 2l25.6 5l16.6 4.5l12.4 4.5l20.6 9.4l8.3 0.1l0 165.6l-8.3 0l-64 10.2l-39.3 8.8l-37.2 7.5l-2.8 1.2l-15.8 8.9l-16.9 7.7l-26.5 9.4l-24.8 7.6l-8.3-2.2l-10.3-3.8l-18.6-4.7l-11.7-4.3l-9.2-4.1l-3.9-2.4l-4.8-3.8l-9.7-9.8l-10.3-6.6l-8.3-6.3l-11.3-10.3l-11-12.4l-4.3-6.2l-3.7-6.2l-3.3-12.4l-2.5-16.5l-1.8-2.1l-11.7-7.6l-11.3-8.9l-0.5-2.1l0-20.6l2.5-18.6l-0.1-2.1l-6.4-28.9l29.1-26.8l10.3-10.4l9.4-10.3l14.6-31.5l13.5-26.3l0.3-2.1z"/>
<path fill="#06a1cc" d="M187.9 -8l91.1 0l0.1 8.3l2.2 5.9l6 10.6l3 6.2l5.3 14.4l3.4 12.4l4.5 22.7l1.3 2.1l5.5 3.3l10.3 7.3l11.8 10l10.4 10.4l7.6 8.2l5.3 6.5l8.3 11l1.2 1.1l36 17.1l24.8 7.6l12.4 5.1l8.3 4.4l6.2 3.7l13 9.6l13.8 4.6l8.3 0.1l0 120.4l-8.3 0l-70.2 11.4l-24.8 6.8l-24.8 6.1l-10 3.4l-12.8 3.7l-27.9 10.8l-17.5 8l-14.5 5.9l-24.8 8.8l-8.3-0.4l-10.3-3.8l-18.6-5.9l-10.3-4.9l-9.7-5.7l-2.7-2.1l-16.6-19.6l-10.7-9.2l-7.9-7.8l-8.2-9.4l-4.2-6.4l-4.1-8.6l-5-15.3l-1.4-2.1l-10.1-8.9l-9.6-7.6l-0.6-2.1l-1.2-20.6l4.1-20.7l-1.3-28.9l13.7-12.4l11.4-11.3l9.2-11.4l9.3-12.4l8.5-14.4l6.1-11.7l6.9-15.2l6.6-16.5l0.2-2.1z"/>
<path fill="#0aacbe" d="M221.8 -8l31.6 0l0.2 8.3l5 9l9.5 21.9l6 16.6l7.5 24.7l1.1 2.1l13.1 13.3l8.3 9.4l8.2 8.6l10.4 10l14.1 16.5l39.6 22.1l12.4 7.5l12.4 5.5l12.4 4.7l16.5 7.5l20.7 11.2l14.5 5.6l14.4 3.8l8.3 0.1l0 76.1l-8.3 0.1l-18.6 7.6l-18.6 6.4l-22.7 6.7l-10.3 2.6l-22.8 7.2l-26.8 7.6l-8.3 4l-8.3 3.4l-66.4 25.1l-22.4 9.1l-6.2 1.7l-4.2 0.3l-22.7-8.2l-6.2-2.7l-10.8-8.5l-9.9-9.5l-8.2-10.5l-17.5-19.2l-5.3-4.7l-4.1-4.7l-4.9-7.1l-3.3-6.2l-2.6-6.2l-1.5-2.1l-16.9-16.5l-0.6-2.1l-2.2-20.6l6.3-31l3.4-10.3l3.9-8.3l10.1-11.8l18.6-23l6.3-6.5l7-6.2l1.2-2.1l9.4-26.8l9.3-28.9l3.4-28.9l4.1-22.7l2.7-10.7l2.1-5.3l6.3-6.7z"/>
<path fill="#22b4ab" d="M142.9 229.5l2.6-20.7l2.7-8.2l2.9-6.6l4.2-6.7l6.7-7.4l7.9-12.4l9.4-12.4l10.6-12.4l10-10.3l1-2l16.4-56.7l6.4-13.6l7.3-12.3l11.1-14.5l2-0.8l10 19.4l10.4 22.7l16.8 19.3l14.5 15.7l10.3 13.4l6.2 9.1l24.8 15.9l35.2 20.8l16.5 11.3l19.4 8.1l17.6 8.2l22.5 12.4l6.2 4.2l8.7 7.4l7.9 9.1l0.8 2l1.9 18.6l-0.8 2.1l-22.2 8.3l-26.9 9.2l-9.3 5.2l-21.7 10.6l-20.6 9.6l-12.4 4.9l-9.4 5.9l-11.3 5.7l-93 35.3l-2.1 0.2l-8.2-3.3l-8.3-4.2l-6.2-3.8l-6.2-4.5l-7.5-6.8l-7-7.3l-5.9-7.2l-7.7-10.3l-10.5-8.3l-7.9-8.2l-4.7-6.2l-5.4-8.3l-15.7-16.5l-0.4-2.1z"/>
<path fill="#46bb96" d="M244.1 76.8l20.7 19.5l21.3 23.7l10.7 12.4l15.5 14.1l10.4 6.7l16.5 11.6l25.1 15.1l11.1 8.3l9.3 6.1l4.1 2.4l25.7 12.1l2.1 2.1l3.3 18.6l-0.9 4.1l-3.3 8.3l-3.6 6.2l-3.3 4.1l-8.3 6.2l-9.6 6.2l-18.6 10.7l-12.4 6.4l-10.4 7.7l-10.9 10.3l-30.4 11.9l-33.1 12.2l-28.9 11.8l-2.1 0.4l-6.2-3.2l-6.2-3.8l-6.2-4.5l-6.2-5.3l-9.1-9.2l-9-10.3l-21.1-18.8l-10.3-12.2l-15.6-16.5l-0.4-2.1l-0.2-18.6l1.6-20.6l0.6-2.1l3.9-6.2l16.2-22.2l5.4-8.7l7-10l25.7-29.3l3.9-14.4l2.8-8.3l2.8-7l3.7-7.5l3.9-6.1l4.8-6l6.2-5.6z"/>
<path fill="#71bf80" d="M244.1 99.2l2.1 1.3l12.4 10.9l20.2 21l29.4 25.1l18.6 13.4l22.5 17.3l18.8 13l11.9 7.6l1.8 2.1l1 18.6l-3.7 12.4l-2.9 8.2l-1.1 2.1l-13.2 9.2l-15.3 9.4l-13.6 10.7l-20.7 15.2l-4.6 3l-32.6 12.2l-19.5 8.4l-11.5 4.5l-4.2-2.4l-8.2-6.2l-8.2-7.7l-7.9-8.8l-8.7-6.7l-8.7-7.8l-19.2-18.6l-13.5-14.4l-0.3-2.1l0.5-20.6l2.1-18.6l0.8-2.1l21.8-32.6l8.3-10.3l14.4-15.9l4.2-5.4l8.2-12.2l5.4-14.4l5-9.8l5.6-6.8z"/>
<path fill="#99bf70" d="M244.1 121.7l2.1 0.6l17.5 14.3l17.6 13.2l21 17.7l16.9 12.4l6.1 8.3l7.8 8.2l6.1 5l11.9 7.4l1.6 2.1l0.2 18.6l-3.1 12.4l-3.3 10.3l-7.3 6.1l-8.3 5.5l-12.4 6.8l-6.2 6l-6.2 5.2l-14.4 10.1l-10.4 5.4l-37.2 16.4l-2-1.1l-3.2-2.6l-10.7-10.3l-22.1-18.6l-11.6-11.4l-10.3-9.1l-7.5-8.4l-0.4-2.1l-1-20.6l3.7-18.6l1-2.1l10.4-14.1l10-14.8l12.7-13.5l4.2-5l8.6-12.5l12-19.1z"/>
<path fill="#bbbd62" d="M244.1 142l2.1 0l8.3 4.5l26.8 18.5l17.6 14.9l9.7 12.4l5.4 8.3l4.5 8l4.8 6.4l2.1 4.1l1.5 4.2l1.8 6.2l0.1 2l-1 18.6l-0.7 2.1l-12 8.3l-17.2 10.2l-8.3 7.3l-10.5 7.2l-12.2 7l-22.8 10.3l-2-1.1l-6.4-5.8l-17.5-14.5l-31.5-28.9l-0.5-2.1l-1.2-18.6l0.2-2l7.5-18.6l8-13.2l7.3-9.5l9.3-10l18.6-26.4z"/>
<path fill="#daba55" d="M246.2 160.2l8.3 3l26.8 17.4l10.4 13l11.2 15.2l10 20.7l0.2 2l-2.1 18.6l-0.7 2.1l-8.9 6.2l-17.7 10.3l-8.6 6.5l-8.2 5.6l-22.8 10.1l-2-1.1l-14.5-10.8l-29.6-26.8l-0.5-2.1l-0.2-18.6l0.1-2l1.8-6.2l2.9-8.3l3.1-6.2l3.9-6.2l6.1-7.9l13.4-14.8l15.5-19.5z"/>
<path fill="#f7ba45" d="M246.2 178.3l8.3 1.6l14.4 14l16.6 14.9l2 2.3l9.7 18.4l0.3 2l-1.2 18.6l-0.8 2.1l-16 8.3l-6.4 4.2l-6.2 4.6l-22.8 9.7l-2-0.9l-14.5-9.3l-18.4-16.6l-0.7-2.1l-3.5-18.6l0.1-2l10.1-20.7l10.3-12.3l18.6-17.7z"/>
<path fill="#fdcc30" d="M246.2 194l2.1 0.8l4.1 4.3l2.1 3.1l4.1 7.7l8.7 5.1l7.8 6.5l6.4 8l0.2 2l-4.5 14.5l-1.7 4.1l-1.5 2.1l-15.4 8.5l-6.2 2.9l-8.3 3.2l-2-0.6l-10.4-5l-11.1-9l-0.8-2.1l-3.5-18.6l0.1-2l9.1-19.2l14.5-13.2l4.1-2.6z"/>
<path fill="#f5e020" d="M246.2 209.5l2.1 1.7l3 5.9l3.2 4.3l4.1 3.9l6.6 4.2l0.2 2l-13 19.4l-2.5 1.3l-7.8 1.4l-6.9-1.4l-1.4-0.9l-0.7-1.2l-3.9-18.6l0.2-2l6.1-8.3l4.5-7.9l3.1-2.4z"/>
<rect x="0" y="0" width="480.00" height="479.60" fill="url(#tex)"/>
</g>
<path d="M998.90 1236.60v-16.43M998.90 757.00v16.43M998.90 1236.60h16.43M1478.90 1236.60h-16.43M1118.90 1236.60v-16.43M1118.90 757.00v16.43M998.90 1116.70h16.43M1478.90 1116.70h-16.43M1238.90 1236.60v-16.43M1238.90 757.00v16.43M998.90 996.80h16.43M1478.90 996.80h-16.43M1358.90 1236.60v-16.43M1358.90 757.00v16.43M998.90 876.90h16.43M1478.90 876.90h-16.43M1478.90 1236.60v-16.43M1478.90 757.00v16.43M998.90 757.00h16.43M1478.90 757.00h-16.43" stroke="#a0a0a0" stroke-opacity="0.75" stroke-width="0.92" fill="none"/>
<rect x="998.90" y="757.00" width="480.00" height="479.60" fill="none" stroke="#000" stroke-width="1.33"/>
<g clip-path="url(#mclipd)" fill="none" stroke="#000" stroke-width="1.3">
<path d="M1044.2 775.6l11.2 11.2m0 -11.2l-11.2 11.2M1080.1 777.3l11.2 11.2m0 -11.2l-11.2 11.2M1110.9 816.1l11.2 11.2m0 -11.2l-11.2 11.2M1173.7 805.1l11.2 11.2m0 -11.2l-11.2 11.2M1164.8 846.3l11.2 11.2m0 -11.2l-11.2 11.2M1086.8 852.7l11.2 11.2m0 -11.2l-11.2 11.2M1163.0 864.3l11.2 11.2m0 -11.2l-11.2 11.2M1047.3 876.9l11.2 11.2m0 -11.2l-11.2 11.2M1068.9 883.2l11.2 11.2m0 -11.2l-11.2 11.2M1035.1 888.3l11.2 11.2m0 -11.2l-11.2 11.2M1022.3 896.5l11.2 11.2m0 -11.2l-11.2 11.2M1223.9 888.7l11.2 11.2m0 -11.2l-11.2 11.2M1157.0 921.9l11.2 11.2m0 -11.2l-11.2 11.2M1159.2 935.1l11.2 11.2m0 -11.2l-11.2 11.2M1032.7 931.9l11.2 11.2m0 -11.2l-11.2 11.2M1005.0 956.4l11.2 11.2m0 -11.2l-11.2 11.2M1025.8 975.8l11.2 11.2m0 -11.2l-11.2 11.2M1159.3 979.9l11.2 11.2m0 -11.2l-11.2 11.2M1173.7 987.2l11.2 11.2m0 -11.2l-11.2 11.2M1184.7 986.3l11.2 11.2m0 -11.2l-11.2 11.2M1231.7 768.4l11.2 11.2m0 -11.2l-11.2 11.2M1259.9 780.4l11.2 11.2m0 -11.2l-11.2 11.2M1296.9 778.7l11.2 11.2m0 -11.2l-11.2 11.2M1248.5 808.2l11.2 11.2m0 -11.2l-11.2 11.2M1282.4 805.1l11.2 11.2m0 -11.2l-11.2 11.2M1340.1 804.6l11.2 11.2m0 -11.2l-11.2 11.2M1315.2 831.4l11.2 11.2m0 -11.2l-11.2 11.2M1472.2 857.0l11.2 11.2m0 -11.2l-11.2 11.2M1376.0 886.5l11.2 11.2m0 -11.2l-11.2 11.2M1406.5 930.4l11.2 11.2m0 -11.2l-11.2 11.2M1457.7 939.2l11.2 11.2m0 -11.2l-11.2 11.2M1332.8 958.5l11.2 11.2m0 -11.2l-11.2 11.2M1243.9 963.7l11.2 11.2m0 -11.2l-11.2 11.2M1447.3 975.4l11.2 11.2m0 -11.2l-11.2 11.2M1048.9 1022.7l11.2 11.2m0 -11.2l-11.2 11.2M1114.1 1021.5l11.2 11.2m0 -11.2l-11.2 11.2M999.3 1049.7l11.2 11.2m0 -11.2l-11.2 11.2M1217.8 1065.9l11.2 11.2m0 -11.2l-11.2 11.2M1213.5 1086.3l11.2 11.2m0 -11.2l-11.2 11.2M1050.2 1085.9l11.2 11.2m0 -11.2l-11.2 11.2M1061.7 1087.9l11.2 11.2m0 -11.2l-11.2 11.2M1098.3 1087.7l11.2 11.2m0 -11.2l-11.2 11.2M1007.0 1137.8l11.2 11.2m0 -11.2l-11.2 11.2M1110.9 1146.4l11.2 11.2m0 -11.2l-11.2 11.2M1131.3 1138.2l11.2 11.2m0 -11.2l-11.2 11.2M1197.1 1151.6l11.2 11.2m0 -11.2l-11.2 11.2M1027.2 1162.9l11.2 11.2m0 -11.2l-11.2 11.2M1093.7 1186.8l11.2 11.2m0 -11.2l-11.2 11.2M1082.4 1192.8l11.2 11.2m0 -11.2l-11.2 11.2M1018.3 1198.8l11.2 11.2m0 -11.2l-11.2 11.2M1172.8 1204.8l11.2 11.2m0 -11.2l-11.2 11.2M1004.3 1221.2l11.2 11.2m0 -11.2l-11.2 11.2M1257.0 1000.0l11.2 11.2m0 -11.2l-11.2 11.2M1277.1 998.0l11.2 11.2m0 -11.2l-11.2 11.2M1465.5 1036.2l11.2 11.2m0 -11.2l-11.2 11.2M1470.6 1041.5l11.2 11.2m0 -11.2l-11.2 11.2M1290.7 1172.6l11.2 11.2m0 -11.2l-11.2 11.2M1275.1 1183.1l11.2 11.2m0 -11.2l-11.2 11.2M1324.3 1182.6l11.2 11.2m0 -11.2l-11.2 11.2M1438.5 1172.6l11.2 11.2m0 -11.2l-11.2 11.2M1425.6 1192.6l11.2 11.2m0 -11.2l-11.2 11.2M1245.7 1214.7l11.2 11.2m0 -11.2l-11.2 11.2M1421.0 1215.6l11.2 11.2m0 -11.2l-11.2 11.2M1374.2 1228.3l11.2 11.2m0 -11.2l-11.2 11.2"/>
<circle cx="1092.2" cy="800.2" r="7.7"/>
<circle cx="1156.6" cy="792.9" r="7.7"/>
<circle cx="1218.2" cy="775.2" r="7.7"/>
<circle cx="1138.3" cy="824.9" r="7.7"/>
<circle cx="1137.6" cy="866.5" r="7.7"/>
<circle cx="1113.7" cy="883.4" r="7.7"/>
<circle cx="1171.3" cy="879.2" r="7.7"/>
<circle cx="1029.9" cy="883.0" r="7.7"/>
<circle cx="1208.1" cy="924.9" r="7.7"/>
<circle cx="1222.9" cy="940.0" r="7.7"/>
<circle cx="1125.2" cy="945.8" r="7.7"/>
<circle cx="1035.9" cy="951.7" r="7.7"/>
<circle cx="1160.0" cy="965.7" r="7.7"/>
<circle cx="1298.9" cy="758.7" r="7.7"/>
<circle cx="1368.7" cy="760.5" r="7.7"/>
<circle cx="1297.4" cy="786.7" r="7.7"/>
<circle cx="1338.4" cy="783.8" r="7.7"/>
<circle cx="1396.4" cy="799.3" r="7.7"/>
<circle cx="1288.0" cy="833.1" r="7.7"/>
<circle cx="1243.8" cy="869.0" r="7.7"/>
<circle cx="1323.3" cy="870.8" r="7.7"/>
<circle cx="1422.1" cy="858.4" r="7.7"/>
<circle cx="1435.0" cy="865.4" r="7.7"/>
<circle cx="1412.4" cy="883.8" r="7.7"/>
<circle cx="1383.6" cy="919.8" r="7.7"/>
<circle cx="1392.2" cy="935.6" r="7.7"/>
<circle cx="1447.6" cy="919.8" r="7.7"/>
<circle cx="1470.6" cy="929.8" r="7.7"/>
<circle cx="1324.4" cy="947.7" r="7.7"/>
<circle cx="1327.7" cy="945.8" r="7.7"/>
<circle cx="1365.8" cy="950.6" r="7.7"/>
<circle cx="1417.5" cy="953.1" r="7.7"/>
<circle cx="1274.6" cy="965.3" r="7.7"/>
<circle cx="1371.8" cy="978.1" r="7.7"/>
<circle cx="1036.5" cy="1005.8" r="7.7"/>
<circle cx="1043.9" cy="1035.2" r="7.7"/>
<circle cx="1010.4" cy="1043.6" r="7.7"/>
<circle cx="1003.1" cy="1084.0" r="7.7"/>
<circle cx="1111.5" cy="1076.9" r="7.7"/>
<circle cx="1006.2" cy="1129.4" r="7.7"/>
<circle cx="1091.5" cy="1146.7" r="7.7"/>
<circle cx="1130.7" cy="1137.6" r="7.7"/>
<circle cx="1041.4" cy="1176.5" r="7.7"/>
<circle cx="1084.0" cy="1181.3" r="7.7"/>
<circle cx="1100.1" cy="1180.2" r="7.7"/>
<circle cx="1200.1" cy="1180.6" r="7.7"/>
<circle cx="1101.2" cy="1211.0" r="7.7"/>
<circle cx="1162.6" cy="1215.5" r="7.7"/>
<circle cx="1038.1" cy="1229.5" r="7.7"/>
<circle cx="1052.3" cy="1233.9" r="7.7"/>
<circle cx="1273.0" cy="1042.0" r="7.7"/>
<circle cx="1288.1" cy="1047.8" r="7.7"/>
<circle cx="1326.4" cy="1038.7" r="7.7"/>
<circle cx="1385.1" cy="1028.1" r="7.7"/>
<circle cx="1387.5" cy="1034.9" r="7.7"/>
<circle cx="1279.8" cy="1082.2" r="7.7"/>
<circle cx="1360.1" cy="1099.5" r="7.7"/>
<circle cx="1267.9" cy="1123.7" r="7.7"/>
<circle cx="1473.1" cy="1120.6" r="7.7"/>
<circle cx="1321.1" cy="1150.7" r="7.7"/>
<circle cx="1330.0" cy="1171.8" r="7.7"/>
<circle cx="1374.2" cy="1183.3" r="7.7"/>
<circle cx="1421.2" cy="1179.3" r="7.7"/>
<circle cx="1296.3" cy="1233.5" r="7.7"/>
<rect x="1145.0" y="781.3" width="23.2" height="23.2"/>
</g>
<text transform="scale(1.100 1)" x="990.31 1010.96 1034.05 1047.93 1069.68 1092.77 1107.47 1119.13 1140.40 1160.15 1174.40 1186.17 1205.67 1226.39 1243.76" y="709.57" font-size="41.48">output variance</text>
<text><tspan x="949.96" y="1290.37" font-size="60.92" style="stroke-width:1.42px">−</tspan><tspan x="983.69 1005.72 1027.74" y="1281.16" font-size="43.74">200</tspan></text>
<text><tspan x="884.39" y="1259.47" font-size="60.92" style="stroke-width:1.42px">−</tspan><tspan x="918.12 940.15 962.17" y="1250.26" font-size="43.74">200</tspan></text>
<text><tspan x="1069.96" y="1290.37" font-size="60.92" style="stroke-width:1.42px">−</tspan><tspan x="1103.69 1125.72 1147.74" y="1281.16" font-size="43.74">100</tspan></text>
<text><tspan x="884.39" y="1139.57" font-size="60.92" style="stroke-width:1.42px">−</tspan><tspan x="918.12 940.15 962.17" y="1130.36" font-size="43.74">100</tspan></text>
<text x="1228.99" y="1281.16" font-size="43.74">0</text>
<text x="962.17" y="1010.46" font-size="43.74">0</text>
<text x="1326.97 1348.99 1371.02" y="1281.16" font-size="43.74">100</text>
<text x="918.12 940.15 962.17" y="890.56" font-size="43.74">100</text>
<text x="1446.97 1468.99 1491.02" y="1281.16" font-size="43.74">200</text>
<text x="918.12 940.15 962.17" y="770.66" font-size="43.74">200</text>
<text><tspan x="1217.91" y="1332.91" font-size="46.20" font-style="italic" style="stroke-width:0.5px">μ</tspan><tspan x="1243.63" y="1339.48" font-size="32.26">1</tspan></text>
<rect x="1560.82" y="1209.66" width="56.78" height="27.24" fill="#5d559f"/>
<rect x="1560.82" y="1183.01" width="56.78" height="27.24" fill="#5c67c4"/>
<rect x="1560.82" y="1156.37" width="56.78" height="27.24" fill="#3b7fe5"/>
<rect x="1560.82" y="1129.72" width="56.78" height="27.24" fill="#3a8ee5"/>
<rect x="1560.82" y="1103.08" width="56.78" height="27.24" fill="#4399de"/>
<rect x="1560.82" y="1076.43" width="56.78" height="27.24" fill="#3ea7db"/>
<rect x="1560.82" y="1049.79" width="56.78" height="27.24" fill="#38b4d6"/>
<rect x="1560.82" y="1023.14" width="56.78" height="27.24" fill="#3bbccb"/>
<rect x="1560.82" y="996.50" width="56.78" height="27.24" fill="#4ec3bc"/>
<rect x="1560.82" y="969.86" width="56.78" height="27.24" fill="#6bc9ab"/>
<rect x="1560.82" y="943.21" width="56.78" height="27.24" fill="#8ecc99"/>
<rect x="1560.82" y="916.57" width="56.78" height="27.24" fill="#aecc8c"/>
<rect x="1560.82" y="889.92" width="56.78" height="27.24" fill="#c9ca81"/>
<rect x="1560.82" y="863.28" width="56.78" height="27.24" fill="#e2c877"/>
<rect x="1560.82" y="836.63" width="56.78" height="27.24" fill="#f9c86a"/>
<rect x="1560.82" y="809.99" width="56.78" height="27.24" fill="#fdd659"/>
<rect x="1560.82" y="783.34" width="56.78" height="27.24" fill="#f7e64d"/>
<rect x="1560.82" y="756.70" width="56.78" height="27.24" fill="#fafc3e"/>
<rect x="1560.82" y="757.00" width="56.78" height="479.60" fill="url(#texh)"/>
<text x="1633.07 1655.67 1667.34" y="1251.59" font-size="43.74">0.1</text>
<text x="1633.07 1655.67 1667.34" y="1196.95" font-size="43.74">1.0</text>
<text x="1633.07 1655.67 1667.34" y="1136.24" font-size="43.74">2.0</text>
<text x="1633.07 1655.67 1667.34" y="1075.53" font-size="43.74">3.0</text>
<text x="1633.07 1655.67 1667.34" y="1014.83" font-size="43.74">4.0</text>
<text x="1633.07 1655.67 1667.34" y="954.12" font-size="43.74">5.0</text>
<text x="1633.07 1655.67 1667.34" y="893.41" font-size="43.74">6.0</text>
<text x="1633.07 1655.67 1667.34" y="832.70" font-size="43.74">7.0</text>
<text x="1633.07 1655.67 1667.34" y="771.99" font-size="43.74">8.0</text>
<path d="M1560.82 1236.60h16.43M1617.60 1236.60h-16.43M1560.82 1181.96h16.43M1617.60 1181.96h-16.43M1560.82 1121.25h16.43M1617.60 1121.25h-16.43M1560.82 1060.54h16.43M1617.60 1060.54h-16.43M1560.82 999.84h16.43M1617.60 999.84h-16.43M1560.82 939.13h16.43M1617.60 939.13h-16.43M1560.82 878.42h16.43M1617.60 878.42h-16.43M1560.82 817.71h16.43M1617.60 817.71h-16.43M1560.82 757.00h16.43M1617.60 757.00h-16.43" stroke="#a0a0a0" stroke-opacity="0.8" stroke-width="0.92" fill="none"/>
<rect x="1560.82" y="757.00" width="56.78" height="479.60" fill="none" stroke="#000" stroke-width="1.33"/>
<text><tspan x="1483.96 1497.45 1519.47" y="743.24" font-size="43.74">·10</tspan><tspan x="1541.58" y="735.53" font-size="49.36" style="stroke-width:1.33px">−</tspan><tspan x="1569.00 1586.54" y="726.86" font-size="33.68">12</tspan></text>
</g>
</svg>
</body>
</html>
